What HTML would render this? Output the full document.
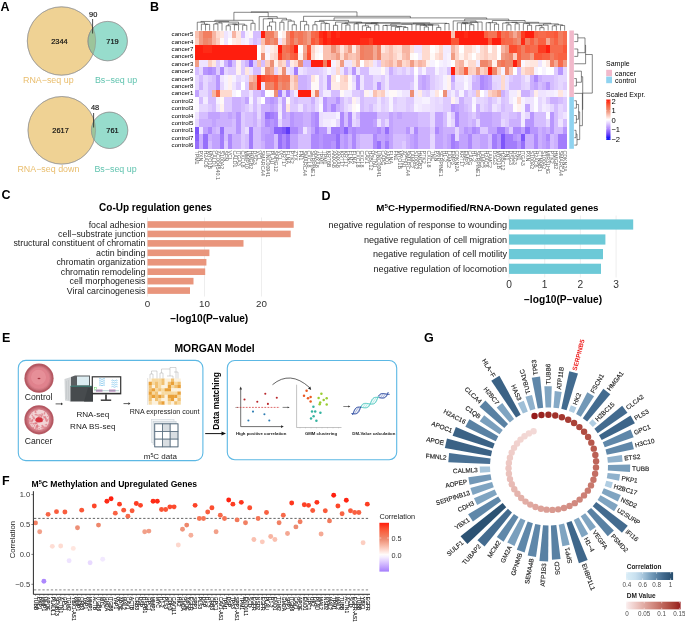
<!DOCTYPE html>
<html><head><meta charset="utf-8"><style>
html,body{margin:0;padding:0;background:#fff;}
svg{display:block;will-change:transform;}
text{font-family:"Liberation Sans",sans-serif;}
</style></head><body>
<svg width="685" height="630" viewBox="0 0 685 630">
<rect width="685" height="630" fill="#fff"/>
<text x="0.60" y="10.60" font-size="12.5" text-anchor="start" font-weight="bold" fill="#000" >A</text>
<text x="150.00" y="10.60" font-size="12.5" text-anchor="start" font-weight="bold" fill="#000" >B</text>
<text x="1.50" y="199.40" font-size="12.5" text-anchor="start" font-weight="bold" fill="#000" >C</text>
<text x="321.50" y="199.60" font-size="12.5" text-anchor="start" font-weight="bold" fill="#000" >D</text>
<text x="2.00" y="342.40" font-size="12.5" text-anchor="start" font-weight="bold" fill="#000" >E</text>
<text x="2.00" y="484.80" font-size="12.5" text-anchor="start" font-weight="bold" fill="#000" >F</text>
<text x="424.00" y="342.40" font-size="12.5" text-anchor="start" font-weight="bold" fill="#000" >G</text>
<g stroke="#8a8a8a" stroke-width="0.5">
<circle cx="61.5" cy="41" r="34.2" fill="#efd294"/>
<circle cx="107.7" cy="41.1" r="19.7" fill="#97dccc" fill-opacity="1"/>
</g>
<clipPath id="vc1"><circle cx="61.5" cy="41" r="34.2"/></clipPath>
<circle cx="107.7" cy="41.1" r="19.7" fill="#9cc49a" clip-path="url(#vc1)" stroke="#8a8a8a" stroke-width="0.5"/>
<g stroke="#8a8a8a" stroke-width="0.5" fill="none"><circle cx="61.5" cy="41" r="34.2"/><circle cx="107.7" cy="41.1" r="19.7"/></g>
<text x="59.40" y="43.80" font-size="7.4" text-anchor="middle" fill="#111" stroke="#111" stroke-width="0.2">2344</text>
<text x="112.50" y="43.80" font-size="7.4" text-anchor="middle" fill="#111" stroke="#111" stroke-width="0.2">719</text>
<text x="93.20" y="16.80" font-size="7.4" text-anchor="middle" fill="#111" stroke="#111" stroke-width="0.15">90</text>
<line x1="92.6" y1="19" x2="92.6" y2="33.5" stroke="#222" stroke-width="0.8"/>
<text x="48.30" y="83.40" font-size="8.9" text-anchor="middle" fill="#e9bd6c" >RNA−seq up</text>
<text x="116.00" y="83.40" font-size="8.9" text-anchor="middle" fill="#62c4b0" >Bs−seq up</text>
<g stroke="#8a8a8a" stroke-width="0.5">
<circle cx="61.8" cy="130.3" r="33.8" fill="#efd294"/>
<circle cx="109.6" cy="130.3" r="18.2" fill="#97dccc"/>
</g>
<clipPath id="vc2"><circle cx="61.8" cy="130.3" r="33.8"/></clipPath>
<circle cx="109.6" cy="130.3" r="18.2" fill="#9cc49a" clip-path="url(#vc2)"/>
<g stroke="#8a8a8a" stroke-width="0.5" fill="none"><circle cx="61.8" cy="130.3" r="33.8"/><circle cx="109.6" cy="130.3" r="18.2"/></g>
<text x="60.60" y="133.10" font-size="7.4" text-anchor="middle" fill="#111" stroke="#111" stroke-width="0.2">2617</text>
<text x="112.50" y="133.10" font-size="7.4" text-anchor="middle" fill="#111" stroke="#111" stroke-width="0.2">761</text>
<text x="95.00" y="110.20" font-size="7.4" text-anchor="middle" fill="#111" stroke="#111" stroke-width="0.15">48</text>
<line x1="93.6" y1="113" x2="93.6" y2="127.5" stroke="#222" stroke-width="0.8"/>
<text x="48.40" y="171.80" font-size="8.9" text-anchor="middle" fill="#e9bd6c" >RNA−seq down</text>
<text x="115.50" y="171.80" font-size="8.9" text-anchor="middle" fill="#62c4b0" >Bs−seq up</text>
<g shape-rendering="crispEdges">
<rect x="195.20" y="30.50" width="4.48" height="7.74" fill="#fac1b1"/>
<rect x="199.33" y="30.50" width="4.48" height="7.74" fill="#f19c84"/>
<rect x="203.46" y="30.50" width="4.48" height="7.74" fill="#f27e60"/>
<rect x="207.58" y="30.50" width="4.48" height="7.74" fill="#f27e60"/>
<rect x="211.71" y="30.50" width="4.48" height="7.74" fill="#f7b4a2"/>
<rect x="215.84" y="30.50" width="4.48" height="7.74" fill="#fedacf"/>
<rect x="219.97" y="30.50" width="4.48" height="7.74" fill="#ffe6df"/>
<rect x="224.09" y="30.50" width="4.48" height="7.74" fill="#efe4ff"/>
<rect x="228.22" y="30.50" width="4.48" height="7.74" fill="#f7f2ff"/>
<rect x="232.35" y="30.50" width="4.48" height="7.74" fill="#f7b4a2"/>
<rect x="236.48" y="30.50" width="4.48" height="7.74" fill="#ffe6df"/>
<rect x="240.61" y="30.50" width="4.48" height="7.74" fill="#d5bdff"/>
<rect x="244.73" y="30.50" width="4.48" height="7.74" fill="#f7f2ff"/>
<rect x="248.86" y="30.50" width="4.48" height="7.74" fill="#fff9f7"/>
<rect x="252.99" y="30.50" width="4.48" height="7.74" fill="#d5bdff"/>
<rect x="257.12" y="30.50" width="4.48" height="7.74" fill="#d5bdff"/>
<rect x="261.24" y="30.50" width="4.48" height="7.74" fill="#ff1e0e"/>
<rect x="265.37" y="30.50" width="4.48" height="7.74" fill="#f27e60"/>
<rect x="269.50" y="30.50" width="4.48" height="7.74" fill="#f27e60"/>
<rect x="273.63" y="30.50" width="4.48" height="7.74" fill="#f4a893"/>
<rect x="277.76" y="30.50" width="4.48" height="7.74" fill="#ffffff"/>
<rect x="281.88" y="30.50" width="4.48" height="7.74" fill="#ffece7"/>
<rect x="286.01" y="30.50" width="4.48" height="7.74" fill="#ed8f76"/>
<rect x="290.14" y="30.50" width="4.48" height="7.74" fill="#f96242"/>
<rect x="294.27" y="30.50" width="4.48" height="7.74" fill="#f27e60"/>
<rect x="298.39" y="30.50" width="4.48" height="7.74" fill="#f47556"/>
<rect x="302.52" y="30.50" width="4.48" height="7.74" fill="#ef866a"/>
<rect x="306.65" y="30.50" width="4.48" height="7.74" fill="#f19c84"/>
<rect x="310.78" y="30.50" width="4.48" height="7.74" fill="#f76b4c"/>
<rect x="314.91" y="30.50" width="4.48" height="7.74" fill="#f96242"/>
<rect x="319.03" y="30.50" width="4.48" height="7.74" fill="#ff2b16"/>
<rect x="323.16" y="30.50" width="4.48" height="7.74" fill="#ff1e0e"/>
<rect x="327.29" y="30.50" width="4.48" height="7.74" fill="#fd3d22"/>
<rect x="331.42" y="30.50" width="4.48" height="7.74" fill="#ff1e0e"/>
<rect x="335.54" y="30.50" width="4.48" height="7.74" fill="#ff2b16"/>
<rect x="339.67" y="30.50" width="4.48" height="7.74" fill="#ff1e0e"/>
<rect x="343.80" y="30.50" width="4.48" height="7.74" fill="#ff1e0e"/>
<rect x="347.93" y="30.50" width="4.48" height="7.74" fill="#ff1e0e"/>
<rect x="352.06" y="30.50" width="4.48" height="7.74" fill="#ff1e0e"/>
<rect x="356.18" y="30.50" width="4.48" height="7.74" fill="#ff1e0e"/>
<rect x="360.31" y="30.50" width="4.48" height="7.74" fill="#ff1e0e"/>
<rect x="364.44" y="30.50" width="4.48" height="7.74" fill="#ff1e0e"/>
<rect x="368.57" y="30.50" width="4.48" height="7.74" fill="#ff1e0e"/>
<rect x="372.69" y="30.50" width="4.48" height="7.74" fill="#ff1e0e"/>
<rect x="376.82" y="30.50" width="4.48" height="7.74" fill="#ff1e0e"/>
<rect x="380.95" y="30.50" width="4.48" height="7.74" fill="#ff1e0e"/>
<rect x="385.08" y="30.50" width="4.48" height="7.74" fill="#ff1e0e"/>
<rect x="389.21" y="30.50" width="4.48" height="7.74" fill="#ff1e0e"/>
<rect x="393.33" y="30.50" width="4.48" height="7.74" fill="#ff1e0e"/>
<rect x="397.46" y="30.50" width="4.48" height="7.74" fill="#ff1e0e"/>
<rect x="401.59" y="30.50" width="4.48" height="7.74" fill="#ff1e0e"/>
<rect x="405.72" y="30.50" width="4.48" height="7.74" fill="#ff1e0e"/>
<rect x="409.84" y="30.50" width="4.48" height="7.74" fill="#ff1e0e"/>
<rect x="413.97" y="30.50" width="4.48" height="7.74" fill="#ff1e0e"/>
<rect x="418.10" y="30.50" width="4.48" height="7.74" fill="#ff1e0e"/>
<rect x="422.23" y="30.50" width="4.48" height="7.74" fill="#ff1e0e"/>
<rect x="426.36" y="30.50" width="4.48" height="7.74" fill="#ff1e0e"/>
<rect x="430.48" y="30.50" width="4.48" height="7.74" fill="#ff1e0e"/>
<rect x="434.61" y="30.50" width="4.48" height="7.74" fill="#ff1e0e"/>
<rect x="438.74" y="30.50" width="4.48" height="7.74" fill="#ff1e0e"/>
<rect x="442.87" y="30.50" width="4.48" height="7.74" fill="#ff1e0e"/>
<rect x="446.99" y="30.50" width="4.48" height="7.74" fill="#ff1e0e"/>
<rect x="451.12" y="30.50" width="4.48" height="7.74" fill="#fac1b1"/>
<rect x="455.25" y="30.50" width="4.48" height="7.74" fill="#ff1e0e"/>
<rect x="459.38" y="30.50" width="4.48" height="7.74" fill="#ff1e0e"/>
<rect x="463.51" y="30.50" width="4.48" height="7.74" fill="#ff2b16"/>
<rect x="467.63" y="30.50" width="4.48" height="7.74" fill="#ff1e0e"/>
<rect x="471.76" y="30.50" width="4.48" height="7.74" fill="#ff1e0e"/>
<rect x="475.89" y="30.50" width="4.48" height="7.74" fill="#ff1e0e"/>
<rect x="480.02" y="30.50" width="4.48" height="7.74" fill="#ff1e0e"/>
<rect x="484.14" y="30.50" width="4.48" height="7.74" fill="#f96242"/>
<rect x="488.27" y="30.50" width="4.48" height="7.74" fill="#f47556"/>
<rect x="492.40" y="30.50" width="4.48" height="7.74" fill="#f47556"/>
<rect x="496.53" y="30.50" width="4.48" height="7.74" fill="#fd3d22"/>
<rect x="500.66" y="30.50" width="4.48" height="7.74" fill="#f47556"/>
<rect x="504.78" y="30.50" width="4.48" height="7.74" fill="#f76b4c"/>
<rect x="508.91" y="30.50" width="4.48" height="7.74" fill="#ef866a"/>
<rect x="513.04" y="30.50" width="4.48" height="7.74" fill="#f4a893"/>
<rect x="517.17" y="30.50" width="4.48" height="7.74" fill="#ef866a"/>
<rect x="521.29" y="30.50" width="4.48" height="7.74" fill="#fd3d22"/>
<rect x="525.42" y="30.50" width="4.48" height="7.74" fill="#ff1e0e"/>
<rect x="529.55" y="30.50" width="4.48" height="7.74" fill="#ff1e0e"/>
<rect x="533.68" y="30.50" width="4.48" height="7.74" fill="#f96242"/>
<rect x="537.81" y="30.50" width="4.48" height="7.74" fill="#f76b4c"/>
<rect x="541.93" y="30.50" width="4.48" height="7.74" fill="#f76b4c"/>
<rect x="546.06" y="30.50" width="4.48" height="7.74" fill="#f96242"/>
<rect x="550.19" y="30.50" width="4.48" height="7.74" fill="#f96242"/>
<rect x="554.32" y="30.50" width="4.48" height="7.74" fill="#fb5738"/>
<rect x="558.44" y="30.50" width="4.48" height="7.74" fill="#f27e60"/>
<rect x="562.57" y="30.50" width="4.48" height="7.74" fill="#f76b4c"/>
<rect x="195.20" y="37.89" width="4.48" height="7.74" fill="#fccdc0"/>
<rect x="199.33" y="37.89" width="4.48" height="7.74" fill="#f19c84"/>
<rect x="203.46" y="37.89" width="4.48" height="7.74" fill="#ef866a"/>
<rect x="207.58" y="37.89" width="4.48" height="7.74" fill="#ed8f76"/>
<rect x="211.71" y="37.89" width="4.48" height="7.74" fill="#f7b4a2"/>
<rect x="215.84" y="37.89" width="4.48" height="7.74" fill="#fccdc0"/>
<rect x="219.97" y="37.89" width="4.48" height="7.74" fill="#fff9f7"/>
<rect x="224.09" y="37.89" width="4.48" height="7.74" fill="#efe4ff"/>
<rect x="228.22" y="37.89" width="4.48" height="7.74" fill="#ffffff"/>
<rect x="232.35" y="37.89" width="4.48" height="7.74" fill="#ffece7"/>
<rect x="236.48" y="37.89" width="4.48" height="7.74" fill="#ffe6df"/>
<rect x="240.61" y="37.89" width="4.48" height="7.74" fill="#f3ebff"/>
<rect x="244.73" y="37.89" width="4.48" height="7.74" fill="#f7f2ff"/>
<rect x="248.86" y="37.89" width="4.48" height="7.74" fill="#e6d7ff"/>
<rect x="252.99" y="37.89" width="4.48" height="7.74" fill="#d5bdff"/>
<rect x="257.12" y="37.89" width="4.48" height="7.74" fill="#decaff"/>
<rect x="261.24" y="37.89" width="4.48" height="7.74" fill="#fac1b1"/>
<rect x="265.37" y="37.89" width="4.48" height="7.74" fill="#f27e60"/>
<rect x="269.50" y="37.89" width="4.48" height="7.74" fill="#ed8f76"/>
<rect x="273.63" y="37.89" width="4.48" height="7.74" fill="#f27e60"/>
<rect x="277.76" y="37.89" width="4.48" height="7.74" fill="#efe4ff"/>
<rect x="281.88" y="37.89" width="4.48" height="7.74" fill="#fdd3c8"/>
<rect x="286.01" y="37.89" width="4.48" height="7.74" fill="#ed8f76"/>
<rect x="290.14" y="37.89" width="4.48" height="7.74" fill="#f76b4c"/>
<rect x="294.27" y="37.89" width="4.48" height="7.74" fill="#ed8f76"/>
<rect x="298.39" y="37.89" width="4.48" height="7.74" fill="#f47556"/>
<rect x="302.52" y="37.89" width="4.48" height="7.74" fill="#ef866a"/>
<rect x="306.65" y="37.89" width="4.48" height="7.74" fill="#f19c84"/>
<rect x="310.78" y="37.89" width="4.48" height="7.74" fill="#fb5738"/>
<rect x="314.91" y="37.89" width="4.48" height="7.74" fill="#f76b4c"/>
<rect x="319.03" y="37.89" width="4.48" height="7.74" fill="#fd3d22"/>
<rect x="323.16" y="37.89" width="4.48" height="7.74" fill="#ff1e0e"/>
<rect x="327.29" y="37.89" width="4.48" height="7.74" fill="#ff2b16"/>
<rect x="331.42" y="37.89" width="4.48" height="7.74" fill="#ff1e0e"/>
<rect x="335.54" y="37.89" width="4.48" height="7.74" fill="#ff1e0e"/>
<rect x="339.67" y="37.89" width="4.48" height="7.74" fill="#ff1e0e"/>
<rect x="343.80" y="37.89" width="4.48" height="7.74" fill="#ff1e0e"/>
<rect x="347.93" y="37.89" width="4.48" height="7.74" fill="#ff1e0e"/>
<rect x="352.06" y="37.89" width="4.48" height="7.74" fill="#ff1e0e"/>
<rect x="356.18" y="37.89" width="4.48" height="7.74" fill="#ff1e0e"/>
<rect x="360.31" y="37.89" width="4.48" height="7.74" fill="#ff2b16"/>
<rect x="364.44" y="37.89" width="4.48" height="7.74" fill="#ff2b16"/>
<rect x="368.57" y="37.89" width="4.48" height="7.74" fill="#fd3d22"/>
<rect x="372.69" y="37.89" width="4.48" height="7.74" fill="#ff1e0e"/>
<rect x="376.82" y="37.89" width="4.48" height="7.74" fill="#ff1e0e"/>
<rect x="380.95" y="37.89" width="4.48" height="7.74" fill="#ff1e0e"/>
<rect x="385.08" y="37.89" width="4.48" height="7.74" fill="#ff1e0e"/>
<rect x="389.21" y="37.89" width="4.48" height="7.74" fill="#ff1e0e"/>
<rect x="393.33" y="37.89" width="4.48" height="7.74" fill="#ff1e0e"/>
<rect x="397.46" y="37.89" width="4.48" height="7.74" fill="#ff1e0e"/>
<rect x="401.59" y="37.89" width="4.48" height="7.74" fill="#ff1e0e"/>
<rect x="405.72" y="37.89" width="4.48" height="7.74" fill="#ff1e0e"/>
<rect x="409.84" y="37.89" width="4.48" height="7.74" fill="#ff1e0e"/>
<rect x="413.97" y="37.89" width="4.48" height="7.74" fill="#ff1e0e"/>
<rect x="418.10" y="37.89" width="4.48" height="7.74" fill="#ff1e0e"/>
<rect x="422.23" y="37.89" width="4.48" height="7.74" fill="#ff1e0e"/>
<rect x="426.36" y="37.89" width="4.48" height="7.74" fill="#ff1e0e"/>
<rect x="430.48" y="37.89" width="4.48" height="7.74" fill="#ff1e0e"/>
<rect x="434.61" y="37.89" width="4.48" height="7.74" fill="#ff1e0e"/>
<rect x="438.74" y="37.89" width="4.48" height="7.74" fill="#ff1e0e"/>
<rect x="442.87" y="37.89" width="4.48" height="7.74" fill="#ff1e0e"/>
<rect x="446.99" y="37.89" width="4.48" height="7.74" fill="#ff1e0e"/>
<rect x="451.12" y="37.89" width="4.48" height="7.74" fill="#fb5738"/>
<rect x="455.25" y="37.89" width="4.48" height="7.74" fill="#fb5738"/>
<rect x="459.38" y="37.89" width="4.48" height="7.74" fill="#ff1e0e"/>
<rect x="463.51" y="37.89" width="4.48" height="7.74" fill="#ff1e0e"/>
<rect x="467.63" y="37.89" width="4.48" height="7.74" fill="#ff1e0e"/>
<rect x="471.76" y="37.89" width="4.48" height="7.74" fill="#ff1e0e"/>
<rect x="475.89" y="37.89" width="4.48" height="7.74" fill="#ff1e0e"/>
<rect x="480.02" y="37.89" width="4.48" height="7.74" fill="#ff1e0e"/>
<rect x="484.14" y="37.89" width="4.48" height="7.74" fill="#ff1e0e"/>
<rect x="488.27" y="37.89" width="4.48" height="7.74" fill="#fb5738"/>
<rect x="492.40" y="37.89" width="4.48" height="7.74" fill="#ff1e0e"/>
<rect x="496.53" y="37.89" width="4.48" height="7.74" fill="#ff1e0e"/>
<rect x="500.66" y="37.89" width="4.48" height="7.74" fill="#f96242"/>
<rect x="504.78" y="37.89" width="4.48" height="7.74" fill="#f76b4c"/>
<rect x="508.91" y="37.89" width="4.48" height="7.74" fill="#f76b4c"/>
<rect x="513.04" y="37.89" width="4.48" height="7.74" fill="#f27e60"/>
<rect x="517.17" y="37.89" width="4.48" height="7.74" fill="#ed8f76"/>
<rect x="521.29" y="37.89" width="4.48" height="7.74" fill="#ff2b16"/>
<rect x="525.42" y="37.89" width="4.48" height="7.74" fill="#f27e60"/>
<rect x="529.55" y="37.89" width="4.48" height="7.74" fill="#f96242"/>
<rect x="533.68" y="37.89" width="4.48" height="7.74" fill="#f27e60"/>
<rect x="537.81" y="37.89" width="4.48" height="7.74" fill="#f96242"/>
<rect x="541.93" y="37.89" width="4.48" height="7.74" fill="#f96242"/>
<rect x="546.06" y="37.89" width="4.48" height="7.74" fill="#f4a893"/>
<rect x="550.19" y="37.89" width="4.48" height="7.74" fill="#f47556"/>
<rect x="554.32" y="37.89" width="4.48" height="7.74" fill="#f96242"/>
<rect x="558.44" y="37.89" width="4.48" height="7.74" fill="#f27e60"/>
<rect x="562.57" y="37.89" width="4.48" height="7.74" fill="#f76b4c"/>
<rect x="195.20" y="45.29" width="4.48" height="7.74" fill="#ff1e0e"/>
<rect x="199.33" y="45.29" width="4.48" height="7.74" fill="#ff1e0e"/>
<rect x="203.46" y="45.29" width="4.48" height="7.74" fill="#ff2b16"/>
<rect x="207.58" y="45.29" width="4.48" height="7.74" fill="#ff2b16"/>
<rect x="211.71" y="45.29" width="4.48" height="7.74" fill="#ff1e0e"/>
<rect x="215.84" y="45.29" width="4.48" height="7.74" fill="#ff1e0e"/>
<rect x="219.97" y="45.29" width="4.48" height="7.74" fill="#ff1e0e"/>
<rect x="224.09" y="45.29" width="4.48" height="7.74" fill="#ff1e0e"/>
<rect x="228.22" y="45.29" width="4.48" height="7.74" fill="#ff1e0e"/>
<rect x="232.35" y="45.29" width="4.48" height="7.74" fill="#ff1e0e"/>
<rect x="236.48" y="45.29" width="4.48" height="7.74" fill="#ff1e0e"/>
<rect x="240.61" y="45.29" width="4.48" height="7.74" fill="#ff1e0e"/>
<rect x="244.73" y="45.29" width="4.48" height="7.74" fill="#ff1e0e"/>
<rect x="248.86" y="45.29" width="4.48" height="7.74" fill="#ff1e0e"/>
<rect x="252.99" y="45.29" width="4.48" height="7.74" fill="#ff1e0e"/>
<rect x="257.12" y="45.29" width="4.48" height="7.74" fill="#ffffff"/>
<rect x="261.24" y="45.29" width="4.48" height="7.74" fill="#fedacf"/>
<rect x="265.37" y="45.29" width="4.48" height="7.74" fill="#f7f2ff"/>
<rect x="269.50" y="45.29" width="4.48" height="7.74" fill="#ffece7"/>
<rect x="273.63" y="45.29" width="4.48" height="7.74" fill="#fee0d7"/>
<rect x="277.76" y="45.29" width="4.48" height="7.74" fill="#ff1e0e"/>
<rect x="281.88" y="45.29" width="4.48" height="7.74" fill="#f47556"/>
<rect x="286.01" y="45.29" width="4.48" height="7.74" fill="#f76b4c"/>
<rect x="290.14" y="45.29" width="4.48" height="7.74" fill="#fb5738"/>
<rect x="294.27" y="45.29" width="4.48" height="7.74" fill="#ff1e0e"/>
<rect x="298.39" y="45.29" width="4.48" height="7.74" fill="#ffffff"/>
<rect x="302.52" y="45.29" width="4.48" height="7.74" fill="#f4a893"/>
<rect x="306.65" y="45.29" width="4.48" height="7.74" fill="#fb5738"/>
<rect x="310.78" y="45.29" width="4.48" height="7.74" fill="#fdd3c8"/>
<rect x="314.91" y="45.29" width="4.48" height="7.74" fill="#fff2ef"/>
<rect x="319.03" y="45.29" width="4.48" height="7.74" fill="#fbf8ff"/>
<rect x="323.16" y="45.29" width="4.48" height="7.74" fill="#fac1b1"/>
<rect x="327.29" y="45.29" width="4.48" height="7.74" fill="#fac1b1"/>
<rect x="331.42" y="45.29" width="4.48" height="7.74" fill="#ed8f76"/>
<rect x="335.54" y="45.29" width="4.48" height="7.74" fill="#f7b4a2"/>
<rect x="339.67" y="45.29" width="4.48" height="7.74" fill="#ffe6df"/>
<rect x="343.80" y="45.29" width="4.48" height="7.74" fill="#fac1b1"/>
<rect x="347.93" y="45.29" width="4.48" height="7.74" fill="#f19c84"/>
<rect x="352.06" y="45.29" width="4.48" height="7.74" fill="#ffece7"/>
<rect x="356.18" y="45.29" width="4.48" height="7.74" fill="#f7b4a2"/>
<rect x="360.31" y="45.29" width="4.48" height="7.74" fill="#f27e60"/>
<rect x="364.44" y="45.29" width="4.48" height="7.74" fill="#ef866a"/>
<rect x="368.57" y="45.29" width="4.48" height="7.74" fill="#ef866a"/>
<rect x="372.69" y="45.29" width="4.48" height="7.74" fill="#f4a893"/>
<rect x="376.82" y="45.29" width="4.48" height="7.74" fill="#ef866a"/>
<rect x="380.95" y="45.29" width="4.48" height="7.74" fill="#ffe6df"/>
<rect x="385.08" y="45.29" width="4.48" height="7.74" fill="#fdd3c8"/>
<rect x="389.21" y="45.29" width="4.48" height="7.74" fill="#fac1b1"/>
<rect x="393.33" y="45.29" width="4.48" height="7.74" fill="#fedacf"/>
<rect x="397.46" y="45.29" width="4.48" height="7.74" fill="#fee0d7"/>
<rect x="401.59" y="45.29" width="4.48" height="7.74" fill="#f7b4a2"/>
<rect x="405.72" y="45.29" width="4.48" height="7.74" fill="#f7b4a2"/>
<rect x="409.84" y="45.29" width="4.48" height="7.74" fill="#fee0d7"/>
<rect x="413.97" y="45.29" width="4.48" height="7.74" fill="#efe4ff"/>
<rect x="418.10" y="45.29" width="4.48" height="7.74" fill="#efe4ff"/>
<rect x="422.23" y="45.29" width="4.48" height="7.74" fill="#fedacf"/>
<rect x="426.36" y="45.29" width="4.48" height="7.74" fill="#fedacf"/>
<rect x="430.48" y="45.29" width="4.48" height="7.74" fill="#ffffff"/>
<rect x="434.61" y="45.29" width="4.48" height="7.74" fill="#fff2ef"/>
<rect x="438.74" y="45.29" width="4.48" height="7.74" fill="#fedacf"/>
<rect x="442.87" y="45.29" width="4.48" height="7.74" fill="#f3ebff"/>
<rect x="446.99" y="45.29" width="4.48" height="7.74" fill="#f3ebff"/>
<rect x="451.12" y="45.29" width="4.48" height="7.74" fill="#f7b4a2"/>
<rect x="455.25" y="45.29" width="4.48" height="7.74" fill="#fdd3c8"/>
<rect x="459.38" y="45.29" width="4.48" height="7.74" fill="#ffffff"/>
<rect x="463.51" y="45.29" width="4.48" height="7.74" fill="#fedacf"/>
<rect x="467.63" y="45.29" width="4.48" height="7.74" fill="#fedacf"/>
<rect x="471.76" y="45.29" width="4.48" height="7.74" fill="#ffece7"/>
<rect x="475.89" y="45.29" width="4.48" height="7.74" fill="#fbf8ff"/>
<rect x="480.02" y="45.29" width="4.48" height="7.74" fill="#fedacf"/>
<rect x="484.14" y="45.29" width="4.48" height="7.74" fill="#fccdc0"/>
<rect x="488.27" y="45.29" width="4.48" height="7.74" fill="#fff9f7"/>
<rect x="492.40" y="45.29" width="4.48" height="7.74" fill="#fedacf"/>
<rect x="496.53" y="45.29" width="4.48" height="7.74" fill="#ffffff"/>
<rect x="500.66" y="45.29" width="4.48" height="7.74" fill="#f7b4a2"/>
<rect x="504.78" y="45.29" width="4.48" height="7.74" fill="#f19c84"/>
<rect x="508.91" y="45.29" width="4.48" height="7.74" fill="#fc4b2d"/>
<rect x="513.04" y="45.29" width="4.48" height="7.74" fill="#fc4b2d"/>
<rect x="517.17" y="45.29" width="4.48" height="7.74" fill="#f96242"/>
<rect x="521.29" y="45.29" width="4.48" height="7.74" fill="#f27e60"/>
<rect x="525.42" y="45.29" width="4.48" height="7.74" fill="#f96242"/>
<rect x="529.55" y="45.29" width="4.48" height="7.74" fill="#f76b4c"/>
<rect x="533.68" y="45.29" width="4.48" height="7.74" fill="#f76b4c"/>
<rect x="537.81" y="45.29" width="4.48" height="7.74" fill="#fd3d22"/>
<rect x="541.93" y="45.29" width="4.48" height="7.74" fill="#fd3d22"/>
<rect x="546.06" y="45.29" width="4.48" height="7.74" fill="#ff1e0e"/>
<rect x="550.19" y="45.29" width="4.48" height="7.74" fill="#f76b4c"/>
<rect x="554.32" y="45.29" width="4.48" height="7.74" fill="#f76b4c"/>
<rect x="558.44" y="45.29" width="4.48" height="7.74" fill="#f76b4c"/>
<rect x="562.57" y="45.29" width="4.48" height="7.74" fill="#fb5738"/>
<rect x="195.20" y="52.68" width="4.48" height="7.74" fill="#ff1e0e"/>
<rect x="199.33" y="52.68" width="4.48" height="7.74" fill="#ff1e0e"/>
<rect x="203.46" y="52.68" width="4.48" height="7.74" fill="#ff1e0e"/>
<rect x="207.58" y="52.68" width="4.48" height="7.74" fill="#ff1e0e"/>
<rect x="211.71" y="52.68" width="4.48" height="7.74" fill="#ff1e0e"/>
<rect x="215.84" y="52.68" width="4.48" height="7.74" fill="#ff1e0e"/>
<rect x="219.97" y="52.68" width="4.48" height="7.74" fill="#ff1e0e"/>
<rect x="224.09" y="52.68" width="4.48" height="7.74" fill="#ff1e0e"/>
<rect x="228.22" y="52.68" width="4.48" height="7.74" fill="#ff1e0e"/>
<rect x="232.35" y="52.68" width="4.48" height="7.74" fill="#ff1e0e"/>
<rect x="236.48" y="52.68" width="4.48" height="7.74" fill="#ff1e0e"/>
<rect x="240.61" y="52.68" width="4.48" height="7.74" fill="#ff1e0e"/>
<rect x="244.73" y="52.68" width="4.48" height="7.74" fill="#ff1e0e"/>
<rect x="248.86" y="52.68" width="4.48" height="7.74" fill="#ff1e0e"/>
<rect x="252.99" y="52.68" width="4.48" height="7.74" fill="#ff1e0e"/>
<rect x="257.12" y="52.68" width="4.48" height="7.74" fill="#ffffff"/>
<rect x="261.24" y="52.68" width="4.48" height="7.74" fill="#ed8f76"/>
<rect x="265.37" y="52.68" width="4.48" height="7.74" fill="#fbf8ff"/>
<rect x="269.50" y="52.68" width="4.48" height="7.74" fill="#fee0d7"/>
<rect x="273.63" y="52.68" width="4.48" height="7.74" fill="#fdd3c8"/>
<rect x="277.76" y="52.68" width="4.48" height="7.74" fill="#fd3d22"/>
<rect x="281.88" y="52.68" width="4.48" height="7.74" fill="#f47556"/>
<rect x="286.01" y="52.68" width="4.48" height="7.74" fill="#f27e60"/>
<rect x="290.14" y="52.68" width="4.48" height="7.74" fill="#f96242"/>
<rect x="294.27" y="52.68" width="4.48" height="7.74" fill="#fb5738"/>
<rect x="298.39" y="52.68" width="4.48" height="7.74" fill="#fff2ef"/>
<rect x="302.52" y="52.68" width="4.48" height="7.74" fill="#f19c84"/>
<rect x="306.65" y="52.68" width="4.48" height="7.74" fill="#fc4b2d"/>
<rect x="310.78" y="52.68" width="4.48" height="7.74" fill="#fedacf"/>
<rect x="314.91" y="52.68" width="4.48" height="7.74" fill="#fff9f7"/>
<rect x="319.03" y="52.68" width="4.48" height="7.74" fill="#ffffff"/>
<rect x="323.16" y="52.68" width="4.48" height="7.74" fill="#fac1b1"/>
<rect x="327.29" y="52.68" width="4.48" height="7.74" fill="#fac1b1"/>
<rect x="331.42" y="52.68" width="4.48" height="7.74" fill="#f7b4a2"/>
<rect x="335.54" y="52.68" width="4.48" height="7.74" fill="#f19c84"/>
<rect x="339.67" y="52.68" width="4.48" height="7.74" fill="#fedacf"/>
<rect x="343.80" y="52.68" width="4.48" height="7.74" fill="#f4a893"/>
<rect x="347.93" y="52.68" width="4.48" height="7.74" fill="#fac1b1"/>
<rect x="352.06" y="52.68" width="4.48" height="7.74" fill="#fbc7b8"/>
<rect x="356.18" y="52.68" width="4.48" height="7.74" fill="#f7b4a2"/>
<rect x="360.31" y="52.68" width="4.48" height="7.74" fill="#f27e60"/>
<rect x="364.44" y="52.68" width="4.48" height="7.74" fill="#ef866a"/>
<rect x="368.57" y="52.68" width="4.48" height="7.74" fill="#ef866a"/>
<rect x="372.69" y="52.68" width="4.48" height="7.74" fill="#f4a893"/>
<rect x="376.82" y="52.68" width="4.48" height="7.74" fill="#ef866a"/>
<rect x="380.95" y="52.68" width="4.48" height="7.74" fill="#fccdc0"/>
<rect x="385.08" y="52.68" width="4.48" height="7.74" fill="#fccdc0"/>
<rect x="389.21" y="52.68" width="4.48" height="7.74" fill="#fac1b1"/>
<rect x="393.33" y="52.68" width="4.48" height="7.74" fill="#fdd3c8"/>
<rect x="397.46" y="52.68" width="4.48" height="7.74" fill="#ffe6df"/>
<rect x="401.59" y="52.68" width="4.48" height="7.74" fill="#fac1b1"/>
<rect x="405.72" y="52.68" width="4.48" height="7.74" fill="#f7b4a2"/>
<rect x="409.84" y="52.68" width="4.48" height="7.74" fill="#fff9f7"/>
<rect x="413.97" y="52.68" width="4.48" height="7.74" fill="#ffffff"/>
<rect x="418.10" y="52.68" width="4.48" height="7.74" fill="#f3ebff"/>
<rect x="422.23" y="52.68" width="4.48" height="7.74" fill="#fedacf"/>
<rect x="426.36" y="52.68" width="4.48" height="7.74" fill="#fedacf"/>
<rect x="430.48" y="52.68" width="4.48" height="7.74" fill="#fff9f7"/>
<rect x="434.61" y="52.68" width="4.48" height="7.74" fill="#fee0d7"/>
<rect x="438.74" y="52.68" width="4.48" height="7.74" fill="#fdd3c8"/>
<rect x="442.87" y="52.68" width="4.48" height="7.74" fill="#f3ebff"/>
<rect x="446.99" y="52.68" width="4.48" height="7.74" fill="#f7f2ff"/>
<rect x="451.12" y="52.68" width="4.48" height="7.74" fill="#f19c84"/>
<rect x="455.25" y="52.68" width="4.48" height="7.74" fill="#fdd3c8"/>
<rect x="459.38" y="52.68" width="4.48" height="7.74" fill="#fff2ef"/>
<rect x="463.51" y="52.68" width="4.48" height="7.74" fill="#fedacf"/>
<rect x="467.63" y="52.68" width="4.48" height="7.74" fill="#ffece7"/>
<rect x="471.76" y="52.68" width="4.48" height="7.74" fill="#ffffff"/>
<rect x="475.89" y="52.68" width="4.48" height="7.74" fill="#ffe6df"/>
<rect x="480.02" y="52.68" width="4.48" height="7.74" fill="#fedacf"/>
<rect x="484.14" y="52.68" width="4.48" height="7.74" fill="#fccdc0"/>
<rect x="488.27" y="52.68" width="4.48" height="7.74" fill="#fee0d7"/>
<rect x="492.40" y="52.68" width="4.48" height="7.74" fill="#fedacf"/>
<rect x="496.53" y="52.68" width="4.48" height="7.74" fill="#ffffff"/>
<rect x="500.66" y="52.68" width="4.48" height="7.74" fill="#f19c84"/>
<rect x="504.78" y="52.68" width="4.48" height="7.74" fill="#ed8f76"/>
<rect x="508.91" y="52.68" width="4.48" height="7.74" fill="#ef866a"/>
<rect x="513.04" y="52.68" width="4.48" height="7.74" fill="#fccdc0"/>
<rect x="517.17" y="52.68" width="4.48" height="7.74" fill="#f96242"/>
<rect x="521.29" y="52.68" width="4.48" height="7.74" fill="#f27e60"/>
<rect x="525.42" y="52.68" width="4.48" height="7.74" fill="#f27e60"/>
<rect x="529.55" y="52.68" width="4.48" height="7.74" fill="#f19c84"/>
<rect x="533.68" y="52.68" width="4.48" height="7.74" fill="#fb5738"/>
<rect x="537.81" y="52.68" width="4.48" height="7.74" fill="#fb5738"/>
<rect x="541.93" y="52.68" width="4.48" height="7.74" fill="#f96242"/>
<rect x="546.06" y="52.68" width="4.48" height="7.74" fill="#f96242"/>
<rect x="550.19" y="52.68" width="4.48" height="7.74" fill="#f27e60"/>
<rect x="554.32" y="52.68" width="4.48" height="7.74" fill="#f76b4c"/>
<rect x="558.44" y="52.68" width="4.48" height="7.74" fill="#f96242"/>
<rect x="562.57" y="52.68" width="4.48" height="7.74" fill="#f96242"/>
<rect x="195.20" y="60.08" width="4.48" height="7.74" fill="#f19c84"/>
<rect x="199.33" y="60.08" width="4.48" height="7.74" fill="#efe4ff"/>
<rect x="203.46" y="60.08" width="4.48" height="7.74" fill="#efe4ff"/>
<rect x="207.58" y="60.08" width="4.48" height="7.74" fill="#fccdc0"/>
<rect x="211.71" y="60.08" width="4.48" height="7.74" fill="#ffe6df"/>
<rect x="215.84" y="60.08" width="4.48" height="7.74" fill="#decaff"/>
<rect x="219.97" y="60.08" width="4.48" height="7.74" fill="#f3ebff"/>
<rect x="224.09" y="60.08" width="4.48" height="7.74" fill="#ccb0fe"/>
<rect x="228.22" y="60.08" width="4.48" height="7.74" fill="#ae89fd"/>
<rect x="232.35" y="60.08" width="4.48" height="7.74" fill="#d5bdff"/>
<rect x="236.48" y="60.08" width="4.48" height="7.74" fill="#fff2ef"/>
<rect x="240.61" y="60.08" width="4.48" height="7.74" fill="#decaff"/>
<rect x="244.73" y="60.08" width="4.48" height="7.74" fill="#ccb0fe"/>
<rect x="248.86" y="60.08" width="4.48" height="7.74" fill="#9770fb"/>
<rect x="252.99" y="60.08" width="4.48" height="7.74" fill="#decaff"/>
<rect x="257.12" y="60.08" width="4.48" height="7.74" fill="#fac1b1"/>
<rect x="261.24" y="60.08" width="4.48" height="7.74" fill="#d5bdff"/>
<rect x="265.37" y="60.08" width="4.48" height="7.74" fill="#fccdc0"/>
<rect x="269.50" y="60.08" width="4.48" height="7.74" fill="#ed8f76"/>
<rect x="273.63" y="60.08" width="4.48" height="7.74" fill="#fff2ef"/>
<rect x="277.76" y="60.08" width="4.48" height="7.74" fill="#fbc7b8"/>
<rect x="281.88" y="60.08" width="4.48" height="7.74" fill="#fedacf"/>
<rect x="286.01" y="60.08" width="4.48" height="7.74" fill="#ccb0fe"/>
<rect x="290.14" y="60.08" width="4.48" height="7.74" fill="#ffece7"/>
<rect x="294.27" y="60.08" width="4.48" height="7.74" fill="#fedacf"/>
<rect x="298.39" y="60.08" width="4.48" height="7.74" fill="#ed8f76"/>
<rect x="302.52" y="60.08" width="4.48" height="7.74" fill="#ccb0fe"/>
<rect x="306.65" y="60.08" width="4.48" height="7.74" fill="#ccb0fe"/>
<rect x="310.78" y="60.08" width="4.48" height="7.74" fill="#ff1e0e"/>
<rect x="314.91" y="60.08" width="4.48" height="7.74" fill="#ff1e0e"/>
<rect x="319.03" y="60.08" width="4.48" height="7.74" fill="#ff1e0e"/>
<rect x="323.16" y="60.08" width="4.48" height="7.74" fill="#f27e60"/>
<rect x="327.29" y="60.08" width="4.48" height="7.74" fill="#ff1e0e"/>
<rect x="331.42" y="60.08" width="4.48" height="7.74" fill="#f7f2ff"/>
<rect x="335.54" y="60.08" width="4.48" height="7.74" fill="#ffe6df"/>
<rect x="339.67" y="60.08" width="4.48" height="7.74" fill="#f19c84"/>
<rect x="343.80" y="60.08" width="4.48" height="7.74" fill="#efe4ff"/>
<rect x="347.93" y="60.08" width="4.48" height="7.74" fill="#efe4ff"/>
<rect x="352.06" y="60.08" width="4.48" height="7.74" fill="#fee0d7"/>
<rect x="356.18" y="60.08" width="4.48" height="7.74" fill="#f7b4a2"/>
<rect x="360.31" y="60.08" width="4.48" height="7.74" fill="#ffffff"/>
<rect x="364.44" y="60.08" width="4.48" height="7.74" fill="#fdd3c8"/>
<rect x="368.57" y="60.08" width="4.48" height="7.74" fill="#fee0d7"/>
<rect x="372.69" y="60.08" width="4.48" height="7.74" fill="#efe4ff"/>
<rect x="376.82" y="60.08" width="4.48" height="7.74" fill="#decaff"/>
<rect x="380.95" y="60.08" width="4.48" height="7.74" fill="#fccdc0"/>
<rect x="385.08" y="60.08" width="4.48" height="7.74" fill="#fac1b1"/>
<rect x="389.21" y="60.08" width="4.48" height="7.74" fill="#f7b4a2"/>
<rect x="393.33" y="60.08" width="4.48" height="7.74" fill="#fdd3c8"/>
<rect x="397.46" y="60.08" width="4.48" height="7.74" fill="#f4a893"/>
<rect x="401.59" y="60.08" width="4.48" height="7.74" fill="#fedacf"/>
<rect x="405.72" y="60.08" width="4.48" height="7.74" fill="#fccdc0"/>
<rect x="409.84" y="60.08" width="4.48" height="7.74" fill="#f19c84"/>
<rect x="413.97" y="60.08" width="4.48" height="7.74" fill="#fccdc0"/>
<rect x="418.10" y="60.08" width="4.48" height="7.74" fill="#f7b4a2"/>
<rect x="422.23" y="60.08" width="4.48" height="7.74" fill="#fac1b1"/>
<rect x="426.36" y="60.08" width="4.48" height="7.74" fill="#fff2ef"/>
<rect x="430.48" y="60.08" width="4.48" height="7.74" fill="#f7f2ff"/>
<rect x="434.61" y="60.08" width="4.48" height="7.74" fill="#ffffff"/>
<rect x="438.74" y="60.08" width="4.48" height="7.74" fill="#f7f2ff"/>
<rect x="442.87" y="60.08" width="4.48" height="7.74" fill="#f3ebff"/>
<rect x="446.99" y="60.08" width="4.48" height="7.74" fill="#f7f2ff"/>
<rect x="451.12" y="60.08" width="4.48" height="7.74" fill="#ffffff"/>
<rect x="455.25" y="60.08" width="4.48" height="7.74" fill="#fac1b1"/>
<rect x="459.38" y="60.08" width="4.48" height="7.74" fill="#f7b4a2"/>
<rect x="463.51" y="60.08" width="4.48" height="7.74" fill="#fff2ef"/>
<rect x="467.63" y="60.08" width="4.48" height="7.74" fill="#fedacf"/>
<rect x="471.76" y="60.08" width="4.48" height="7.74" fill="#fedacf"/>
<rect x="475.89" y="60.08" width="4.48" height="7.74" fill="#f3ebff"/>
<rect x="480.02" y="60.08" width="4.48" height="7.74" fill="#ef866a"/>
<rect x="484.14" y="60.08" width="4.48" height="7.74" fill="#ef866a"/>
<rect x="488.27" y="60.08" width="4.48" height="7.74" fill="#f19c84"/>
<rect x="492.40" y="60.08" width="4.48" height="7.74" fill="#fff2ef"/>
<rect x="496.53" y="60.08" width="4.48" height="7.74" fill="#ef866a"/>
<rect x="500.66" y="60.08" width="4.48" height="7.74" fill="#f47556"/>
<rect x="504.78" y="60.08" width="4.48" height="7.74" fill="#ef866a"/>
<rect x="508.91" y="60.08" width="4.48" height="7.74" fill="#ef866a"/>
<rect x="513.04" y="60.08" width="4.48" height="7.74" fill="#ff1e0e"/>
<rect x="517.17" y="60.08" width="4.48" height="7.74" fill="#f76b4c"/>
<rect x="521.29" y="60.08" width="4.48" height="7.74" fill="#fbf8ff"/>
<rect x="525.42" y="60.08" width="4.48" height="7.74" fill="#ffece7"/>
<rect x="529.55" y="60.08" width="4.48" height="7.74" fill="#ffe6df"/>
<rect x="533.68" y="60.08" width="4.48" height="7.74" fill="#ffe6df"/>
<rect x="537.81" y="60.08" width="4.48" height="7.74" fill="#efe4ff"/>
<rect x="541.93" y="60.08" width="4.48" height="7.74" fill="#fff9f7"/>
<rect x="546.06" y="60.08" width="4.48" height="7.74" fill="#ffe6df"/>
<rect x="550.19" y="60.08" width="4.48" height="7.74" fill="#f27e60"/>
<rect x="554.32" y="60.08" width="4.48" height="7.74" fill="#f4a893"/>
<rect x="558.44" y="60.08" width="4.48" height="7.74" fill="#f76b4c"/>
<rect x="562.57" y="60.08" width="4.48" height="7.74" fill="#f19c84"/>
<rect x="195.20" y="67.47" width="4.48" height="7.74" fill="#d5bdff"/>
<rect x="199.33" y="67.47" width="4.48" height="7.74" fill="#e6d7ff"/>
<rect x="203.46" y="67.47" width="4.48" height="7.74" fill="#b896fe"/>
<rect x="207.58" y="67.47" width="4.48" height="7.74" fill="#ae89fd"/>
<rect x="211.71" y="67.47" width="4.48" height="7.74" fill="#b896fe"/>
<rect x="215.84" y="67.47" width="4.48" height="7.74" fill="#decaff"/>
<rect x="219.97" y="67.47" width="4.48" height="7.74" fill="#ae89fd"/>
<rect x="224.09" y="67.47" width="4.48" height="7.74" fill="#e6d7ff"/>
<rect x="228.22" y="67.47" width="4.48" height="7.74" fill="#decaff"/>
<rect x="232.35" y="67.47" width="4.48" height="7.74" fill="#decaff"/>
<rect x="236.48" y="67.47" width="4.48" height="7.74" fill="#fff2ef"/>
<rect x="240.61" y="67.47" width="4.48" height="7.74" fill="#decaff"/>
<rect x="244.73" y="67.47" width="4.48" height="7.74" fill="#ffe6df"/>
<rect x="248.86" y="67.47" width="4.48" height="7.74" fill="#efe4ff"/>
<rect x="252.99" y="67.47" width="4.48" height="7.74" fill="#d5bdff"/>
<rect x="257.12" y="67.47" width="4.48" height="7.74" fill="#d5bdff"/>
<rect x="261.24" y="67.47" width="4.48" height="7.74" fill="#fff2ef"/>
<rect x="265.37" y="67.47" width="4.48" height="7.74" fill="#ed8f76"/>
<rect x="269.50" y="67.47" width="4.48" height="7.74" fill="#f4a893"/>
<rect x="273.63" y="67.47" width="4.48" height="7.74" fill="#e6d7ff"/>
<rect x="277.76" y="67.47" width="4.48" height="7.74" fill="#ffe6df"/>
<rect x="281.88" y="67.47" width="4.48" height="7.74" fill="#ed8f76"/>
<rect x="286.01" y="67.47" width="4.48" height="7.74" fill="#efe4ff"/>
<rect x="290.14" y="67.47" width="4.48" height="7.74" fill="#e6d7ff"/>
<rect x="294.27" y="67.47" width="4.48" height="7.74" fill="#a37dfc"/>
<rect x="298.39" y="67.47" width="4.48" height="7.74" fill="#efe4ff"/>
<rect x="302.52" y="67.47" width="4.48" height="7.74" fill="#e6d7ff"/>
<rect x="306.65" y="67.47" width="4.48" height="7.74" fill="#decaff"/>
<rect x="310.78" y="67.47" width="4.48" height="7.74" fill="#decaff"/>
<rect x="314.91" y="67.47" width="4.48" height="7.74" fill="#decaff"/>
<rect x="319.03" y="67.47" width="4.48" height="7.74" fill="#e2d0ff"/>
<rect x="323.16" y="67.47" width="4.48" height="7.74" fill="#ebdeff"/>
<rect x="327.29" y="67.47" width="4.48" height="7.74" fill="#f7f2ff"/>
<rect x="331.42" y="67.47" width="4.48" height="7.74" fill="#efe4ff"/>
<rect x="335.54" y="67.47" width="4.48" height="7.74" fill="#fedacf"/>
<rect x="339.67" y="67.47" width="4.48" height="7.74" fill="#efe4ff"/>
<rect x="343.80" y="67.47" width="4.48" height="7.74" fill="#ccb0fe"/>
<rect x="347.93" y="67.47" width="4.48" height="7.74" fill="#e6d7ff"/>
<rect x="352.06" y="67.47" width="4.48" height="7.74" fill="#b896fe"/>
<rect x="356.18" y="67.47" width="4.48" height="7.74" fill="#efe4ff"/>
<rect x="360.31" y="67.47" width="4.48" height="7.74" fill="#d5bdff"/>
<rect x="364.44" y="67.47" width="4.48" height="7.74" fill="#d5bdff"/>
<rect x="368.57" y="67.47" width="4.48" height="7.74" fill="#f3ebff"/>
<rect x="372.69" y="67.47" width="4.48" height="7.74" fill="#f3ebff"/>
<rect x="376.82" y="67.47" width="4.48" height="7.74" fill="#f3ebff"/>
<rect x="380.95" y="67.47" width="4.48" height="7.74" fill="#fff9f7"/>
<rect x="385.08" y="67.47" width="4.48" height="7.74" fill="#ebdeff"/>
<rect x="389.21" y="67.47" width="4.48" height="7.74" fill="#ccb0fe"/>
<rect x="393.33" y="67.47" width="4.48" height="7.74" fill="#decaff"/>
<rect x="397.46" y="67.47" width="4.48" height="7.74" fill="#e6d7ff"/>
<rect x="401.59" y="67.47" width="4.48" height="7.74" fill="#decaff"/>
<rect x="405.72" y="67.47" width="4.48" height="7.74" fill="#ebdeff"/>
<rect x="409.84" y="67.47" width="4.48" height="7.74" fill="#decaff"/>
<rect x="413.97" y="67.47" width="4.48" height="7.74" fill="#ffffff"/>
<rect x="418.10" y="67.47" width="4.48" height="7.74" fill="#e6d7ff"/>
<rect x="422.23" y="67.47" width="4.48" height="7.74" fill="#f7f2ff"/>
<rect x="426.36" y="67.47" width="4.48" height="7.74" fill="#decaff"/>
<rect x="430.48" y="67.47" width="4.48" height="7.74" fill="#decaff"/>
<rect x="434.61" y="67.47" width="4.48" height="7.74" fill="#f7f2ff"/>
<rect x="438.74" y="67.47" width="4.48" height="7.74" fill="#ebdeff"/>
<rect x="442.87" y="67.47" width="4.48" height="7.74" fill="#efe4ff"/>
<rect x="446.99" y="67.47" width="4.48" height="7.74" fill="#d9c3ff"/>
<rect x="451.12" y="67.47" width="4.48" height="7.74" fill="#ff1e0e"/>
<rect x="455.25" y="67.47" width="4.48" height="7.74" fill="#fac1b1"/>
<rect x="459.38" y="67.47" width="4.48" height="7.74" fill="#f4a893"/>
<rect x="463.51" y="67.47" width="4.48" height="7.74" fill="#f96242"/>
<rect x="467.63" y="67.47" width="4.48" height="7.74" fill="#fccdc0"/>
<rect x="471.76" y="67.47" width="4.48" height="7.74" fill="#fdd3c8"/>
<rect x="475.89" y="67.47" width="4.48" height="7.74" fill="#f19c84"/>
<rect x="480.02" y="67.47" width="4.48" height="7.74" fill="#fdd3c8"/>
<rect x="484.14" y="67.47" width="4.48" height="7.74" fill="#fac1b1"/>
<rect x="488.27" y="67.47" width="4.48" height="7.74" fill="#ff1e0e"/>
<rect x="492.40" y="67.47" width="4.48" height="7.74" fill="#ef866a"/>
<rect x="496.53" y="67.47" width="4.48" height="7.74" fill="#fccdc0"/>
<rect x="500.66" y="67.47" width="4.48" height="7.74" fill="#f7f2ff"/>
<rect x="504.78" y="67.47" width="4.48" height="7.74" fill="#ef866a"/>
<rect x="508.91" y="67.47" width="4.48" height="7.74" fill="#fac1b1"/>
<rect x="513.04" y="67.47" width="4.48" height="7.74" fill="#ffffff"/>
<rect x="517.17" y="67.47" width="4.48" height="7.74" fill="#d5bdff"/>
<rect x="521.29" y="67.47" width="4.48" height="7.74" fill="#fee0d7"/>
<rect x="525.42" y="67.47" width="4.48" height="7.74" fill="#fccdc0"/>
<rect x="529.55" y="67.47" width="4.48" height="7.74" fill="#fbc7b8"/>
<rect x="533.68" y="67.47" width="4.48" height="7.74" fill="#f7f2ff"/>
<rect x="537.81" y="67.47" width="4.48" height="7.74" fill="#ffffff"/>
<rect x="541.93" y="67.47" width="4.48" height="7.74" fill="#f7f2ff"/>
<rect x="546.06" y="67.47" width="4.48" height="7.74" fill="#ffffff"/>
<rect x="550.19" y="67.47" width="4.48" height="7.74" fill="#ffffff"/>
<rect x="554.32" y="67.47" width="4.48" height="7.74" fill="#decaff"/>
<rect x="558.44" y="67.47" width="4.48" height="7.74" fill="#b896fe"/>
<rect x="562.57" y="67.47" width="4.48" height="7.74" fill="#e6d7ff"/>
<rect x="195.20" y="74.86" width="4.48" height="7.74" fill="#e6d7ff"/>
<rect x="199.33" y="74.86" width="4.48" height="7.74" fill="#d5bdff"/>
<rect x="203.46" y="74.86" width="4.48" height="7.74" fill="#e6d7ff"/>
<rect x="207.58" y="74.86" width="4.48" height="7.74" fill="#decaff"/>
<rect x="211.71" y="74.86" width="4.48" height="7.74" fill="#d5bdff"/>
<rect x="215.84" y="74.86" width="4.48" height="7.74" fill="#b896fe"/>
<rect x="219.97" y="74.86" width="4.48" height="7.74" fill="#efe4ff"/>
<rect x="224.09" y="74.86" width="4.48" height="7.74" fill="#f7f2ff"/>
<rect x="228.22" y="74.86" width="4.48" height="7.74" fill="#fff2ef"/>
<rect x="232.35" y="74.86" width="4.48" height="7.74" fill="#f7f2ff"/>
<rect x="236.48" y="74.86" width="4.48" height="7.74" fill="#e6d7ff"/>
<rect x="240.61" y="74.86" width="4.48" height="7.74" fill="#efe4ff"/>
<rect x="244.73" y="74.86" width="4.48" height="7.74" fill="#e6d7ff"/>
<rect x="248.86" y="74.86" width="4.48" height="7.74" fill="#fac1b1"/>
<rect x="252.99" y="74.86" width="4.48" height="7.74" fill="#f4a893"/>
<rect x="257.12" y="74.86" width="4.48" height="7.74" fill="#ff1e0e"/>
<rect x="261.24" y="74.86" width="4.48" height="7.74" fill="#fc4b2d"/>
<rect x="265.37" y="74.86" width="4.48" height="7.74" fill="#fb5738"/>
<rect x="269.50" y="74.86" width="4.48" height="7.74" fill="#f96242"/>
<rect x="273.63" y="74.86" width="4.48" height="7.74" fill="#fb5738"/>
<rect x="277.76" y="74.86" width="4.48" height="7.74" fill="#f27e60"/>
<rect x="281.88" y="74.86" width="4.48" height="7.74" fill="#f47556"/>
<rect x="286.01" y="74.86" width="4.48" height="7.74" fill="#f47556"/>
<rect x="290.14" y="74.86" width="4.48" height="7.74" fill="#fdd3c8"/>
<rect x="294.27" y="74.86" width="4.48" height="7.74" fill="#f7b4a2"/>
<rect x="298.39" y="74.86" width="4.48" height="7.74" fill="#ccb0fe"/>
<rect x="302.52" y="74.86" width="4.48" height="7.74" fill="#ccb0fe"/>
<rect x="306.65" y="74.86" width="4.48" height="7.74" fill="#d5bdff"/>
<rect x="310.78" y="74.86" width="4.48" height="7.74" fill="#ffe6df"/>
<rect x="314.91" y="74.86" width="4.48" height="7.74" fill="#fff9f7"/>
<rect x="319.03" y="74.86" width="4.48" height="7.74" fill="#decaff"/>
<rect x="323.16" y="74.86" width="4.48" height="7.74" fill="#ebdeff"/>
<rect x="327.29" y="74.86" width="4.48" height="7.74" fill="#b896fe"/>
<rect x="331.42" y="74.86" width="4.48" height="7.74" fill="#ffe6df"/>
<rect x="335.54" y="74.86" width="4.48" height="7.74" fill="#ffffff"/>
<rect x="339.67" y="74.86" width="4.48" height="7.74" fill="#fedacf"/>
<rect x="343.80" y="74.86" width="4.48" height="7.74" fill="#fccdc0"/>
<rect x="347.93" y="74.86" width="4.48" height="7.74" fill="#fff9f7"/>
<rect x="352.06" y="74.86" width="4.48" height="7.74" fill="#e6d7ff"/>
<rect x="356.18" y="74.86" width="4.48" height="7.74" fill="#b896fe"/>
<rect x="360.31" y="74.86" width="4.48" height="7.74" fill="#efe4ff"/>
<rect x="364.44" y="74.86" width="4.48" height="7.74" fill="#d5bdff"/>
<rect x="368.57" y="74.86" width="4.48" height="7.74" fill="#d5bdff"/>
<rect x="372.69" y="74.86" width="4.48" height="7.74" fill="#e6d7ff"/>
<rect x="376.82" y="74.86" width="4.48" height="7.74" fill="#e6d7ff"/>
<rect x="380.95" y="74.86" width="4.48" height="7.74" fill="#decaff"/>
<rect x="385.08" y="74.86" width="4.48" height="7.74" fill="#efe4ff"/>
<rect x="389.21" y="74.86" width="4.48" height="7.74" fill="#d5bdff"/>
<rect x="393.33" y="74.86" width="4.48" height="7.74" fill="#d5bdff"/>
<rect x="397.46" y="74.86" width="4.48" height="7.74" fill="#d5bdff"/>
<rect x="401.59" y="74.86" width="4.48" height="7.74" fill="#d5bdff"/>
<rect x="405.72" y="74.86" width="4.48" height="7.74" fill="#d5bdff"/>
<rect x="409.84" y="74.86" width="4.48" height="7.74" fill="#d5bdff"/>
<rect x="413.97" y="74.86" width="4.48" height="7.74" fill="#f7f2ff"/>
<rect x="418.10" y="74.86" width="4.48" height="7.74" fill="#ccb0fe"/>
<rect x="422.23" y="74.86" width="4.48" height="7.74" fill="#c2a3fe"/>
<rect x="426.36" y="74.86" width="4.48" height="7.74" fill="#ccb0fe"/>
<rect x="430.48" y="74.86" width="4.48" height="7.74" fill="#decaff"/>
<rect x="434.61" y="74.86" width="4.48" height="7.74" fill="#e6d7ff"/>
<rect x="438.74" y="74.86" width="4.48" height="7.74" fill="#ebdeff"/>
<rect x="442.87" y="74.86" width="4.48" height="7.74" fill="#f7f2ff"/>
<rect x="446.99" y="74.86" width="4.48" height="7.74" fill="#fff2ef"/>
<rect x="451.12" y="74.86" width="4.48" height="7.74" fill="#c2a3fe"/>
<rect x="455.25" y="74.86" width="4.48" height="7.74" fill="#efe4ff"/>
<rect x="459.38" y="74.86" width="4.48" height="7.74" fill="#efe4ff"/>
<rect x="463.51" y="74.86" width="4.48" height="7.74" fill="#f7f2ff"/>
<rect x="467.63" y="74.86" width="4.48" height="7.74" fill="#efe4ff"/>
<rect x="471.76" y="74.86" width="4.48" height="7.74" fill="#d5bdff"/>
<rect x="475.89" y="74.86" width="4.48" height="7.74" fill="#ccb0fe"/>
<rect x="480.02" y="74.86" width="4.48" height="7.74" fill="#ae89fd"/>
<rect x="484.14" y="74.86" width="4.48" height="7.74" fill="#b896fe"/>
<rect x="488.27" y="74.86" width="4.48" height="7.74" fill="#c2a3fe"/>
<rect x="492.40" y="74.86" width="4.48" height="7.74" fill="#e6d7ff"/>
<rect x="496.53" y="74.86" width="4.48" height="7.74" fill="#e6d7ff"/>
<rect x="500.66" y="74.86" width="4.48" height="7.74" fill="#fedacf"/>
<rect x="504.78" y="74.86" width="4.48" height="7.74" fill="#ebdeff"/>
<rect x="508.91" y="74.86" width="4.48" height="7.74" fill="#decaff"/>
<rect x="513.04" y="74.86" width="4.48" height="7.74" fill="#d5bdff"/>
<rect x="517.17" y="74.86" width="4.48" height="7.74" fill="#d5bdff"/>
<rect x="521.29" y="74.86" width="4.48" height="7.74" fill="#e2d0ff"/>
<rect x="525.42" y="74.86" width="4.48" height="7.74" fill="#efe4ff"/>
<rect x="529.55" y="74.86" width="4.48" height="7.74" fill="#ccb0fe"/>
<rect x="533.68" y="74.86" width="4.48" height="7.74" fill="#ae89fd"/>
<rect x="537.81" y="74.86" width="4.48" height="7.74" fill="#ccb0fe"/>
<rect x="541.93" y="74.86" width="4.48" height="7.74" fill="#d5bdff"/>
<rect x="546.06" y="74.86" width="4.48" height="7.74" fill="#d5bdff"/>
<rect x="550.19" y="74.86" width="4.48" height="7.74" fill="#d5bdff"/>
<rect x="554.32" y="74.86" width="4.48" height="7.74" fill="#decaff"/>
<rect x="558.44" y="74.86" width="4.48" height="7.74" fill="#e6d7ff"/>
<rect x="562.57" y="74.86" width="4.48" height="7.74" fill="#e6d7ff"/>
<rect x="195.20" y="82.26" width="4.48" height="7.74" fill="#e6d7ff"/>
<rect x="199.33" y="82.26" width="4.48" height="7.74" fill="#ccb0fe"/>
<rect x="203.46" y="82.26" width="4.48" height="7.74" fill="#e6d7ff"/>
<rect x="207.58" y="82.26" width="4.48" height="7.74" fill="#d5bdff"/>
<rect x="211.71" y="82.26" width="4.48" height="7.74" fill="#d5bdff"/>
<rect x="215.84" y="82.26" width="4.48" height="7.74" fill="#b896fe"/>
<rect x="219.97" y="82.26" width="4.48" height="7.74" fill="#e6d7ff"/>
<rect x="224.09" y="82.26" width="4.48" height="7.74" fill="#f7f2ff"/>
<rect x="228.22" y="82.26" width="4.48" height="7.74" fill="#fff2ef"/>
<rect x="232.35" y="82.26" width="4.48" height="7.74" fill="#efe4ff"/>
<rect x="236.48" y="82.26" width="4.48" height="7.74" fill="#decaff"/>
<rect x="240.61" y="82.26" width="4.48" height="7.74" fill="#ffffff"/>
<rect x="244.73" y="82.26" width="4.48" height="7.74" fill="#decaff"/>
<rect x="248.86" y="82.26" width="4.48" height="7.74" fill="#ed8f76"/>
<rect x="252.99" y="82.26" width="4.48" height="7.74" fill="#f19c84"/>
<rect x="257.12" y="82.26" width="4.48" height="7.74" fill="#ff1e0e"/>
<rect x="261.24" y="82.26" width="4.48" height="7.74" fill="#efe4ff"/>
<rect x="265.37" y="82.26" width="4.48" height="7.74" fill="#f27e60"/>
<rect x="269.50" y="82.26" width="4.48" height="7.74" fill="#ef866a"/>
<rect x="273.63" y="82.26" width="4.48" height="7.74" fill="#f96242"/>
<rect x="277.76" y="82.26" width="4.48" height="7.74" fill="#ed8f76"/>
<rect x="281.88" y="82.26" width="4.48" height="7.74" fill="#f27e60"/>
<rect x="286.01" y="82.26" width="4.48" height="7.74" fill="#ef866a"/>
<rect x="290.14" y="82.26" width="4.48" height="7.74" fill="#fedacf"/>
<rect x="294.27" y="82.26" width="4.48" height="7.74" fill="#fac1b1"/>
<rect x="298.39" y="82.26" width="4.48" height="7.74" fill="#ccb0fe"/>
<rect x="302.52" y="82.26" width="4.48" height="7.74" fill="#ccb0fe"/>
<rect x="306.65" y="82.26" width="4.48" height="7.74" fill="#d5bdff"/>
<rect x="310.78" y="82.26" width="4.48" height="7.74" fill="#fff9f7"/>
<rect x="314.91" y="82.26" width="4.48" height="7.74" fill="#fff9f7"/>
<rect x="319.03" y="82.26" width="4.48" height="7.74" fill="#decaff"/>
<rect x="323.16" y="82.26" width="4.48" height="7.74" fill="#ebdeff"/>
<rect x="327.29" y="82.26" width="4.48" height="7.74" fill="#b896fe"/>
<rect x="331.42" y="82.26" width="4.48" height="7.74" fill="#ffece7"/>
<rect x="335.54" y="82.26" width="4.48" height="7.74" fill="#ffece7"/>
<rect x="339.67" y="82.26" width="4.48" height="7.74" fill="#fedacf"/>
<rect x="343.80" y="82.26" width="4.48" height="7.74" fill="#fedacf"/>
<rect x="347.93" y="82.26" width="4.48" height="7.74" fill="#fff9f7"/>
<rect x="352.06" y="82.26" width="4.48" height="7.74" fill="#efe4ff"/>
<rect x="356.18" y="82.26" width="4.48" height="7.74" fill="#b896fe"/>
<rect x="360.31" y="82.26" width="4.48" height="7.74" fill="#efe4ff"/>
<rect x="364.44" y="82.26" width="4.48" height="7.74" fill="#d5bdff"/>
<rect x="368.57" y="82.26" width="4.48" height="7.74" fill="#d5bdff"/>
<rect x="372.69" y="82.26" width="4.48" height="7.74" fill="#e6d7ff"/>
<rect x="376.82" y="82.26" width="4.48" height="7.74" fill="#b896fe"/>
<rect x="380.95" y="82.26" width="4.48" height="7.74" fill="#decaff"/>
<rect x="385.08" y="82.26" width="4.48" height="7.74" fill="#efe4ff"/>
<rect x="389.21" y="82.26" width="4.48" height="7.74" fill="#d5bdff"/>
<rect x="393.33" y="82.26" width="4.48" height="7.74" fill="#d5bdff"/>
<rect x="397.46" y="82.26" width="4.48" height="7.74" fill="#d5bdff"/>
<rect x="401.59" y="82.26" width="4.48" height="7.74" fill="#d5bdff"/>
<rect x="405.72" y="82.26" width="4.48" height="7.74" fill="#d5bdff"/>
<rect x="409.84" y="82.26" width="4.48" height="7.74" fill="#decaff"/>
<rect x="413.97" y="82.26" width="4.48" height="7.74" fill="#f7f2ff"/>
<rect x="418.10" y="82.26" width="4.48" height="7.74" fill="#ccb0fe"/>
<rect x="422.23" y="82.26" width="4.48" height="7.74" fill="#c2a3fe"/>
<rect x="426.36" y="82.26" width="4.48" height="7.74" fill="#ccb0fe"/>
<rect x="430.48" y="82.26" width="4.48" height="7.74" fill="#decaff"/>
<rect x="434.61" y="82.26" width="4.48" height="7.74" fill="#e6d7ff"/>
<rect x="438.74" y="82.26" width="4.48" height="7.74" fill="#ebdeff"/>
<rect x="442.87" y="82.26" width="4.48" height="7.74" fill="#f7f2ff"/>
<rect x="446.99" y="82.26" width="4.48" height="7.74" fill="#fff2ef"/>
<rect x="451.12" y="82.26" width="4.48" height="7.74" fill="#d5bdff"/>
<rect x="455.25" y="82.26" width="4.48" height="7.74" fill="#ebdeff"/>
<rect x="459.38" y="82.26" width="4.48" height="7.74" fill="#ebdeff"/>
<rect x="463.51" y="82.26" width="4.48" height="7.74" fill="#fbf8ff"/>
<rect x="467.63" y="82.26" width="4.48" height="7.74" fill="#efe4ff"/>
<rect x="471.76" y="82.26" width="4.48" height="7.74" fill="#ccb0fe"/>
<rect x="475.89" y="82.26" width="4.48" height="7.74" fill="#ccb0fe"/>
<rect x="480.02" y="82.26" width="4.48" height="7.74" fill="#ae89fd"/>
<rect x="484.14" y="82.26" width="4.48" height="7.74" fill="#b896fe"/>
<rect x="488.27" y="82.26" width="4.48" height="7.74" fill="#c2a3fe"/>
<rect x="492.40" y="82.26" width="4.48" height="7.74" fill="#e2d0ff"/>
<rect x="496.53" y="82.26" width="4.48" height="7.74" fill="#e6d7ff"/>
<rect x="500.66" y="82.26" width="4.48" height="7.74" fill="#fedacf"/>
<rect x="504.78" y="82.26" width="4.48" height="7.74" fill="#ebdeff"/>
<rect x="508.91" y="82.26" width="4.48" height="7.74" fill="#d5bdff"/>
<rect x="513.04" y="82.26" width="4.48" height="7.74" fill="#d5bdff"/>
<rect x="517.17" y="82.26" width="4.48" height="7.74" fill="#d5bdff"/>
<rect x="521.29" y="82.26" width="4.48" height="7.74" fill="#e2d0ff"/>
<rect x="525.42" y="82.26" width="4.48" height="7.74" fill="#e6d7ff"/>
<rect x="529.55" y="82.26" width="4.48" height="7.74" fill="#ccb0fe"/>
<rect x="533.68" y="82.26" width="4.48" height="7.74" fill="#c2a3fe"/>
<rect x="537.81" y="82.26" width="4.48" height="7.74" fill="#d5bdff"/>
<rect x="541.93" y="82.26" width="4.48" height="7.74" fill="#ccb0fe"/>
<rect x="546.06" y="82.26" width="4.48" height="7.74" fill="#b896fe"/>
<rect x="550.19" y="82.26" width="4.48" height="7.74" fill="#d5bdff"/>
<rect x="554.32" y="82.26" width="4.48" height="7.74" fill="#decaff"/>
<rect x="558.44" y="82.26" width="4.48" height="7.74" fill="#e6d7ff"/>
<rect x="562.57" y="82.26" width="4.48" height="7.74" fill="#decaff"/>
<rect x="195.20" y="89.65" width="4.48" height="7.74" fill="#c2a3fe"/>
<rect x="199.33" y="89.65" width="4.48" height="7.74" fill="#e6d7ff"/>
<rect x="203.46" y="89.65" width="4.48" height="7.74" fill="#e6d7ff"/>
<rect x="207.58" y="89.65" width="4.48" height="7.74" fill="#d5bdff"/>
<rect x="211.71" y="89.65" width="4.48" height="7.74" fill="#f7b4a2"/>
<rect x="215.84" y="89.65" width="4.48" height="7.74" fill="#f76b4c"/>
<rect x="219.97" y="89.65" width="4.48" height="7.74" fill="#fedacf"/>
<rect x="224.09" y="89.65" width="4.48" height="7.74" fill="#fedacf"/>
<rect x="228.22" y="89.65" width="4.48" height="7.74" fill="#fedacf"/>
<rect x="232.35" y="89.65" width="4.48" height="7.74" fill="#f7f2ff"/>
<rect x="236.48" y="89.65" width="4.48" height="7.74" fill="#ffffff"/>
<rect x="240.61" y="89.65" width="4.48" height="7.74" fill="#decaff"/>
<rect x="244.73" y="89.65" width="4.48" height="7.74" fill="#decaff"/>
<rect x="248.86" y="89.65" width="4.48" height="7.74" fill="#efe4ff"/>
<rect x="252.99" y="89.65" width="4.48" height="7.74" fill="#d5bdff"/>
<rect x="257.12" y="89.65" width="4.48" height="7.74" fill="#d5bdff"/>
<rect x="261.24" y="89.65" width="4.48" height="7.74" fill="#c2a3fe"/>
<rect x="265.37" y="89.65" width="4.48" height="7.74" fill="#ffffff"/>
<rect x="269.50" y="89.65" width="4.48" height="7.74" fill="#fff9f7"/>
<rect x="273.63" y="89.65" width="4.48" height="7.74" fill="#ed8f76"/>
<rect x="277.76" y="89.65" width="4.48" height="7.74" fill="#a37dfc"/>
<rect x="281.88" y="89.65" width="4.48" height="7.74" fill="#e6d7ff"/>
<rect x="286.01" y="89.65" width="4.48" height="7.74" fill="#ae89fd"/>
<rect x="290.14" y="89.65" width="4.48" height="7.74" fill="#decaff"/>
<rect x="294.27" y="89.65" width="4.48" height="7.74" fill="#f3ebff"/>
<rect x="298.39" y="89.65" width="4.48" height="7.74" fill="#ff1e0e"/>
<rect x="302.52" y="89.65" width="4.48" height="7.74" fill="#ff1e0e"/>
<rect x="306.65" y="89.65" width="4.48" height="7.74" fill="#ff1e0e"/>
<rect x="310.78" y="89.65" width="4.48" height="7.74" fill="#ffe6df"/>
<rect x="314.91" y="89.65" width="4.48" height="7.74" fill="#ef866a"/>
<rect x="319.03" y="89.65" width="4.48" height="7.74" fill="#decaff"/>
<rect x="323.16" y="89.65" width="4.48" height="7.74" fill="#f3ebff"/>
<rect x="327.29" y="89.65" width="4.48" height="7.74" fill="#f3ebff"/>
<rect x="331.42" y="89.65" width="4.48" height="7.74" fill="#d5bdff"/>
<rect x="335.54" y="89.65" width="4.48" height="7.74" fill="#d5bdff"/>
<rect x="339.67" y="89.65" width="4.48" height="7.74" fill="#fff9f7"/>
<rect x="343.80" y="89.65" width="4.48" height="7.74" fill="#f3ebff"/>
<rect x="347.93" y="89.65" width="4.48" height="7.74" fill="#f3ebff"/>
<rect x="352.06" y="89.65" width="4.48" height="7.74" fill="#decaff"/>
<rect x="356.18" y="89.65" width="4.48" height="7.74" fill="#decaff"/>
<rect x="360.31" y="89.65" width="4.48" height="7.74" fill="#d5bdff"/>
<rect x="364.44" y="89.65" width="4.48" height="7.74" fill="#fff2ef"/>
<rect x="368.57" y="89.65" width="4.48" height="7.74" fill="#f7f2ff"/>
<rect x="372.69" y="89.65" width="4.48" height="7.74" fill="#fac1b1"/>
<rect x="376.82" y="89.65" width="4.48" height="7.74" fill="#fedacf"/>
<rect x="380.95" y="89.65" width="4.48" height="7.74" fill="#fccdc0"/>
<rect x="385.08" y="89.65" width="4.48" height="7.74" fill="#f7f2ff"/>
<rect x="389.21" y="89.65" width="4.48" height="7.74" fill="#fff9f7"/>
<rect x="393.33" y="89.65" width="4.48" height="7.74" fill="#fff9f7"/>
<rect x="397.46" y="89.65" width="4.48" height="7.74" fill="#f7f2ff"/>
<rect x="401.59" y="89.65" width="4.48" height="7.74" fill="#efe4ff"/>
<rect x="405.72" y="89.65" width="4.48" height="7.74" fill="#efe4ff"/>
<rect x="409.84" y="89.65" width="4.48" height="7.74" fill="#ed8f76"/>
<rect x="413.97" y="89.65" width="4.48" height="7.74" fill="#f3ebff"/>
<rect x="418.10" y="89.65" width="4.48" height="7.74" fill="#ffece7"/>
<rect x="422.23" y="89.65" width="4.48" height="7.74" fill="#e6d7ff"/>
<rect x="426.36" y="89.65" width="4.48" height="7.74" fill="#e2d0ff"/>
<rect x="430.48" y="89.65" width="4.48" height="7.74" fill="#f3ebff"/>
<rect x="434.61" y="89.65" width="4.48" height="7.74" fill="#ffe6df"/>
<rect x="438.74" y="89.65" width="4.48" height="7.74" fill="#ffffff"/>
<rect x="442.87" y="89.65" width="4.48" height="7.74" fill="#ed8f76"/>
<rect x="446.99" y="89.65" width="4.48" height="7.74" fill="#e6d7ff"/>
<rect x="451.12" y="89.65" width="4.48" height="7.74" fill="#f3ebff"/>
<rect x="455.25" y="89.65" width="4.48" height="7.74" fill="#decaff"/>
<rect x="459.38" y="89.65" width="4.48" height="7.74" fill="#f7f2ff"/>
<rect x="463.51" y="89.65" width="4.48" height="7.74" fill="#d5bdff"/>
<rect x="467.63" y="89.65" width="4.48" height="7.74" fill="#e6d7ff"/>
<rect x="471.76" y="89.65" width="4.48" height="7.74" fill="#decaff"/>
<rect x="475.89" y="89.65" width="4.48" height="7.74" fill="#fbc7b8"/>
<rect x="480.02" y="89.65" width="4.48" height="7.74" fill="#ffffff"/>
<rect x="484.14" y="89.65" width="4.48" height="7.74" fill="#efe4ff"/>
<rect x="488.27" y="89.65" width="4.48" height="7.74" fill="#fdd3c8"/>
<rect x="492.40" y="89.65" width="4.48" height="7.74" fill="#fac1b1"/>
<rect x="496.53" y="89.65" width="4.48" height="7.74" fill="#f4a893"/>
<rect x="500.66" y="89.65" width="4.48" height="7.74" fill="#ccb0fe"/>
<rect x="504.78" y="89.65" width="4.48" height="7.74" fill="#decaff"/>
<rect x="508.91" y="89.65" width="4.48" height="7.74" fill="#f3ebff"/>
<rect x="513.04" y="89.65" width="4.48" height="7.74" fill="#f3ebff"/>
<rect x="517.17" y="89.65" width="4.48" height="7.74" fill="#fff2ef"/>
<rect x="521.29" y="89.65" width="4.48" height="7.74" fill="#ccb0fe"/>
<rect x="525.42" y="89.65" width="4.48" height="7.74" fill="#ccb0fe"/>
<rect x="529.55" y="89.65" width="4.48" height="7.74" fill="#decaff"/>
<rect x="533.68" y="89.65" width="4.48" height="7.74" fill="#ffece7"/>
<rect x="537.81" y="89.65" width="4.48" height="7.74" fill="#efe4ff"/>
<rect x="541.93" y="89.65" width="4.48" height="7.74" fill="#efe4ff"/>
<rect x="546.06" y="89.65" width="4.48" height="7.74" fill="#f3ebff"/>
<rect x="550.19" y="89.65" width="4.48" height="7.74" fill="#f3ebff"/>
<rect x="554.32" y="89.65" width="4.48" height="7.74" fill="#f7f2ff"/>
<rect x="558.44" y="89.65" width="4.48" height="7.74" fill="#ffe6df"/>
<rect x="562.57" y="89.65" width="4.48" height="7.74" fill="#f3ebff"/>
<rect x="195.20" y="97.04" width="4.48" height="7.74" fill="#fbf8ff"/>
<rect x="199.33" y="97.04" width="4.48" height="7.74" fill="#d5bdff"/>
<rect x="203.46" y="97.04" width="4.48" height="7.74" fill="#f3ebff"/>
<rect x="207.58" y="97.04" width="4.48" height="7.74" fill="#d5bdff"/>
<rect x="211.71" y="97.04" width="4.48" height="7.74" fill="#d5bdff"/>
<rect x="215.84" y="97.04" width="4.48" height="7.74" fill="#f7f2ff"/>
<rect x="219.97" y="97.04" width="4.48" height="7.74" fill="#fff9f7"/>
<rect x="224.09" y="97.04" width="4.48" height="7.74" fill="#decaff"/>
<rect x="228.22" y="97.04" width="4.48" height="7.74" fill="#decaff"/>
<rect x="232.35" y="97.04" width="4.48" height="7.74" fill="#ccb0fe"/>
<rect x="236.48" y="97.04" width="4.48" height="7.74" fill="#ccb0fe"/>
<rect x="240.61" y="97.04" width="4.48" height="7.74" fill="#d5bdff"/>
<rect x="244.73" y="97.04" width="4.48" height="7.74" fill="#c2a3fe"/>
<rect x="248.86" y="97.04" width="4.48" height="7.74" fill="#f7f2ff"/>
<rect x="252.99" y="97.04" width="4.48" height="7.74" fill="#d5bdff"/>
<rect x="257.12" y="97.04" width="4.48" height="7.74" fill="#efe4ff"/>
<rect x="261.24" y="97.04" width="4.48" height="7.74" fill="#ffffff"/>
<rect x="265.37" y="97.04" width="4.48" height="7.74" fill="#c2a3fe"/>
<rect x="269.50" y="97.04" width="4.48" height="7.74" fill="#b896fe"/>
<rect x="273.63" y="97.04" width="4.48" height="7.74" fill="#c2a3fe"/>
<rect x="277.76" y="97.04" width="4.48" height="7.74" fill="#e6d7ff"/>
<rect x="281.88" y="97.04" width="4.48" height="7.74" fill="#c2a3fe"/>
<rect x="286.01" y="97.04" width="4.48" height="7.74" fill="#fff9f7"/>
<rect x="290.14" y="97.04" width="4.48" height="7.74" fill="#decaff"/>
<rect x="294.27" y="97.04" width="4.48" height="7.74" fill="#d5bdff"/>
<rect x="298.39" y="97.04" width="4.48" height="7.74" fill="#decaff"/>
<rect x="302.52" y="97.04" width="4.48" height="7.74" fill="#decaff"/>
<rect x="306.65" y="97.04" width="4.48" height="7.74" fill="#decaff"/>
<rect x="310.78" y="97.04" width="4.48" height="7.74" fill="#ccb0fe"/>
<rect x="314.91" y="97.04" width="4.48" height="7.74" fill="#e6d7ff"/>
<rect x="319.03" y="97.04" width="4.48" height="7.74" fill="#f3ebff"/>
<rect x="323.16" y="97.04" width="4.48" height="7.74" fill="#b896fe"/>
<rect x="327.29" y="97.04" width="4.48" height="7.74" fill="#ccb0fe"/>
<rect x="331.42" y="97.04" width="4.48" height="7.74" fill="#ccb0fe"/>
<rect x="335.54" y="97.04" width="4.48" height="7.74" fill="#b896fe"/>
<rect x="339.67" y="97.04" width="4.48" height="7.74" fill="#d5bdff"/>
<rect x="343.80" y="97.04" width="4.48" height="7.74" fill="#e6d7ff"/>
<rect x="347.93" y="97.04" width="4.48" height="7.74" fill="#decaff"/>
<rect x="352.06" y="97.04" width="4.48" height="7.74" fill="#fff2ef"/>
<rect x="356.18" y="97.04" width="4.48" height="7.74" fill="#f3ebff"/>
<rect x="360.31" y="97.04" width="4.48" height="7.74" fill="#d5bdff"/>
<rect x="364.44" y="97.04" width="4.48" height="7.74" fill="#decaff"/>
<rect x="368.57" y="97.04" width="4.48" height="7.74" fill="#decaff"/>
<rect x="372.69" y="97.04" width="4.48" height="7.74" fill="#decaff"/>
<rect x="376.82" y="97.04" width="4.48" height="7.74" fill="#efe4ff"/>
<rect x="380.95" y="97.04" width="4.48" height="7.74" fill="#decaff"/>
<rect x="385.08" y="97.04" width="4.48" height="7.74" fill="#e6d7ff"/>
<rect x="389.21" y="97.04" width="4.48" height="7.74" fill="#f7f2ff"/>
<rect x="393.33" y="97.04" width="4.48" height="7.74" fill="#decaff"/>
<rect x="397.46" y="97.04" width="4.48" height="7.74" fill="#e6d7ff"/>
<rect x="401.59" y="97.04" width="4.48" height="7.74" fill="#e6d7ff"/>
<rect x="405.72" y="97.04" width="4.48" height="7.74" fill="#decaff"/>
<rect x="409.84" y="97.04" width="4.48" height="7.74" fill="#decaff"/>
<rect x="413.97" y="97.04" width="4.48" height="7.74" fill="#f3ebff"/>
<rect x="418.10" y="97.04" width="4.48" height="7.74" fill="#f3ebff"/>
<rect x="422.23" y="97.04" width="4.48" height="7.74" fill="#f7f2ff"/>
<rect x="426.36" y="97.04" width="4.48" height="7.74" fill="#f7f2ff"/>
<rect x="430.48" y="97.04" width="4.48" height="7.74" fill="#ebdeff"/>
<rect x="434.61" y="97.04" width="4.48" height="7.74" fill="#e6d7ff"/>
<rect x="438.74" y="97.04" width="4.48" height="7.74" fill="#ebdeff"/>
<rect x="442.87" y="97.04" width="4.48" height="7.74" fill="#decaff"/>
<rect x="446.99" y="97.04" width="4.48" height="7.74" fill="#decaff"/>
<rect x="451.12" y="97.04" width="4.48" height="7.74" fill="#fff2ef"/>
<rect x="455.25" y="97.04" width="4.48" height="7.74" fill="#efe4ff"/>
<rect x="459.38" y="97.04" width="4.48" height="7.74" fill="#ccb0fe"/>
<rect x="463.51" y="97.04" width="4.48" height="7.74" fill="#decaff"/>
<rect x="467.63" y="97.04" width="4.48" height="7.74" fill="#decaff"/>
<rect x="471.76" y="97.04" width="4.48" height="7.74" fill="#f7f2ff"/>
<rect x="475.89" y="97.04" width="4.48" height="7.74" fill="#e6d7ff"/>
<rect x="480.02" y="97.04" width="4.48" height="7.74" fill="#e6d7ff"/>
<rect x="484.14" y="97.04" width="4.48" height="7.74" fill="#e2d0ff"/>
<rect x="488.27" y="97.04" width="4.48" height="7.74" fill="#d5bdff"/>
<rect x="492.40" y="97.04" width="4.48" height="7.74" fill="#e2d0ff"/>
<rect x="496.53" y="97.04" width="4.48" height="7.74" fill="#efe4ff"/>
<rect x="500.66" y="97.04" width="4.48" height="7.74" fill="#d9c3ff"/>
<rect x="504.78" y="97.04" width="4.48" height="7.74" fill="#decaff"/>
<rect x="508.91" y="97.04" width="4.48" height="7.74" fill="#f3ebff"/>
<rect x="513.04" y="97.04" width="4.48" height="7.74" fill="#fbf8ff"/>
<rect x="517.17" y="97.04" width="4.48" height="7.74" fill="#fedacf"/>
<rect x="521.29" y="97.04" width="4.48" height="7.74" fill="#f7f2ff"/>
<rect x="525.42" y="97.04" width="4.48" height="7.74" fill="#efe4ff"/>
<rect x="529.55" y="97.04" width="4.48" height="7.74" fill="#efe4ff"/>
<rect x="533.68" y="97.04" width="4.48" height="7.74" fill="#fdfcff"/>
<rect x="537.81" y="97.04" width="4.48" height="7.74" fill="#e6d7ff"/>
<rect x="541.93" y="97.04" width="4.48" height="7.74" fill="#efe4ff"/>
<rect x="546.06" y="97.04" width="4.48" height="7.74" fill="#decaff"/>
<rect x="550.19" y="97.04" width="4.48" height="7.74" fill="#ccb0fe"/>
<rect x="554.32" y="97.04" width="4.48" height="7.74" fill="#ccb0fe"/>
<rect x="558.44" y="97.04" width="4.48" height="7.74" fill="#d5bdff"/>
<rect x="562.57" y="97.04" width="4.48" height="7.74" fill="#decaff"/>
<rect x="195.20" y="104.44" width="4.48" height="7.74" fill="#fbf8ff"/>
<rect x="199.33" y="104.44" width="4.48" height="7.74" fill="#e6d7ff"/>
<rect x="203.46" y="104.44" width="4.48" height="7.74" fill="#e6d7ff"/>
<rect x="207.58" y="104.44" width="4.48" height="7.74" fill="#decaff"/>
<rect x="211.71" y="104.44" width="4.48" height="7.74" fill="#d5bdff"/>
<rect x="215.84" y="104.44" width="4.48" height="7.74" fill="#efe4ff"/>
<rect x="219.97" y="104.44" width="4.48" height="7.74" fill="#fff2ef"/>
<rect x="224.09" y="104.44" width="4.48" height="7.74" fill="#decaff"/>
<rect x="228.22" y="104.44" width="4.48" height="7.74" fill="#decaff"/>
<rect x="232.35" y="104.44" width="4.48" height="7.74" fill="#ccb0fe"/>
<rect x="236.48" y="104.44" width="4.48" height="7.74" fill="#ccb0fe"/>
<rect x="240.61" y="104.44" width="4.48" height="7.74" fill="#d5bdff"/>
<rect x="244.73" y="104.44" width="4.48" height="7.74" fill="#decaff"/>
<rect x="248.86" y="104.44" width="4.48" height="7.74" fill="#ebdeff"/>
<rect x="252.99" y="104.44" width="4.48" height="7.74" fill="#d5bdff"/>
<rect x="257.12" y="104.44" width="4.48" height="7.74" fill="#e6d7ff"/>
<rect x="261.24" y="104.44" width="4.48" height="7.74" fill="#ccb0fe"/>
<rect x="265.37" y="104.44" width="4.48" height="7.74" fill="#ccb0fe"/>
<rect x="269.50" y="104.44" width="4.48" height="7.74" fill="#c2a3fe"/>
<rect x="273.63" y="104.44" width="4.48" height="7.74" fill="#ccb0fe"/>
<rect x="277.76" y="104.44" width="4.48" height="7.74" fill="#efe4ff"/>
<rect x="281.88" y="104.44" width="4.48" height="7.74" fill="#c2a3fe"/>
<rect x="286.01" y="104.44" width="4.48" height="7.74" fill="#ffe6df"/>
<rect x="290.14" y="104.44" width="4.48" height="7.74" fill="#decaff"/>
<rect x="294.27" y="104.44" width="4.48" height="7.74" fill="#decaff"/>
<rect x="298.39" y="104.44" width="4.48" height="7.74" fill="#efe4ff"/>
<rect x="302.52" y="104.44" width="4.48" height="7.74" fill="#d5bdff"/>
<rect x="306.65" y="104.44" width="4.48" height="7.74" fill="#decaff"/>
<rect x="310.78" y="104.44" width="4.48" height="7.74" fill="#d5bdff"/>
<rect x="314.91" y="104.44" width="4.48" height="7.74" fill="#e6d7ff"/>
<rect x="319.03" y="104.44" width="4.48" height="7.74" fill="#fbf8ff"/>
<rect x="323.16" y="104.44" width="4.48" height="7.74" fill="#b896fe"/>
<rect x="327.29" y="104.44" width="4.48" height="7.74" fill="#ccb0fe"/>
<rect x="331.42" y="104.44" width="4.48" height="7.74" fill="#ae89fd"/>
<rect x="335.54" y="104.44" width="4.48" height="7.74" fill="#ccb0fe"/>
<rect x="339.67" y="104.44" width="4.48" height="7.74" fill="#d5bdff"/>
<rect x="343.80" y="104.44" width="4.48" height="7.74" fill="#e6d7ff"/>
<rect x="347.93" y="104.44" width="4.48" height="7.74" fill="#efe4ff"/>
<rect x="352.06" y="104.44" width="4.48" height="7.74" fill="#fff9f7"/>
<rect x="356.18" y="104.44" width="4.48" height="7.74" fill="#ffffff"/>
<rect x="360.31" y="104.44" width="4.48" height="7.74" fill="#d5bdff"/>
<rect x="364.44" y="104.44" width="4.48" height="7.74" fill="#decaff"/>
<rect x="368.57" y="104.44" width="4.48" height="7.74" fill="#d5bdff"/>
<rect x="372.69" y="104.44" width="4.48" height="7.74" fill="#e6d7ff"/>
<rect x="376.82" y="104.44" width="4.48" height="7.74" fill="#efe4ff"/>
<rect x="380.95" y="104.44" width="4.48" height="7.74" fill="#e2d0ff"/>
<rect x="385.08" y="104.44" width="4.48" height="7.74" fill="#e6d7ff"/>
<rect x="389.21" y="104.44" width="4.48" height="7.74" fill="#f7f2ff"/>
<rect x="393.33" y="104.44" width="4.48" height="7.74" fill="#e2d0ff"/>
<rect x="397.46" y="104.44" width="4.48" height="7.74" fill="#e6d7ff"/>
<rect x="401.59" y="104.44" width="4.48" height="7.74" fill="#e6d7ff"/>
<rect x="405.72" y="104.44" width="4.48" height="7.74" fill="#decaff"/>
<rect x="409.84" y="104.44" width="4.48" height="7.74" fill="#e2d0ff"/>
<rect x="413.97" y="104.44" width="4.48" height="7.74" fill="#f7f2ff"/>
<rect x="418.10" y="104.44" width="4.48" height="7.74" fill="#f3ebff"/>
<rect x="422.23" y="104.44" width="4.48" height="7.74" fill="#efe4ff"/>
<rect x="426.36" y="104.44" width="4.48" height="7.74" fill="#efe4ff"/>
<rect x="430.48" y="104.44" width="4.48" height="7.74" fill="#ebdeff"/>
<rect x="434.61" y="104.44" width="4.48" height="7.74" fill="#e6d7ff"/>
<rect x="438.74" y="104.44" width="4.48" height="7.74" fill="#e6d7ff"/>
<rect x="442.87" y="104.44" width="4.48" height="7.74" fill="#decaff"/>
<rect x="446.99" y="104.44" width="4.48" height="7.74" fill="#decaff"/>
<rect x="451.12" y="104.44" width="4.48" height="7.74" fill="#b896fe"/>
<rect x="455.25" y="104.44" width="4.48" height="7.74" fill="#c2a3fe"/>
<rect x="459.38" y="104.44" width="4.48" height="7.74" fill="#ccb0fe"/>
<rect x="463.51" y="104.44" width="4.48" height="7.74" fill="#d5bdff"/>
<rect x="467.63" y="104.44" width="4.48" height="7.74" fill="#decaff"/>
<rect x="471.76" y="104.44" width="4.48" height="7.74" fill="#fbf8ff"/>
<rect x="475.89" y="104.44" width="4.48" height="7.74" fill="#ccb0fe"/>
<rect x="480.02" y="104.44" width="4.48" height="7.74" fill="#e6d7ff"/>
<rect x="484.14" y="104.44" width="4.48" height="7.74" fill="#decaff"/>
<rect x="488.27" y="104.44" width="4.48" height="7.74" fill="#d5bdff"/>
<rect x="492.40" y="104.44" width="4.48" height="7.74" fill="#efe4ff"/>
<rect x="496.53" y="104.44" width="4.48" height="7.74" fill="#e6d7ff"/>
<rect x="500.66" y="104.44" width="4.48" height="7.74" fill="#d5bdff"/>
<rect x="504.78" y="104.44" width="4.48" height="7.74" fill="#decaff"/>
<rect x="508.91" y="104.44" width="4.48" height="7.74" fill="#decaff"/>
<rect x="513.04" y="104.44" width="4.48" height="7.74" fill="#fffcfc"/>
<rect x="517.17" y="104.44" width="4.48" height="7.74" fill="#fff2ef"/>
<rect x="521.29" y="104.44" width="4.48" height="7.74" fill="#f7f2ff"/>
<rect x="525.42" y="104.44" width="4.48" height="7.74" fill="#c2a3fe"/>
<rect x="529.55" y="104.44" width="4.48" height="7.74" fill="#efe4ff"/>
<rect x="533.68" y="104.44" width="4.48" height="7.74" fill="#fdfcff"/>
<rect x="537.81" y="104.44" width="4.48" height="7.74" fill="#e6d7ff"/>
<rect x="541.93" y="104.44" width="4.48" height="7.74" fill="#f3ebff"/>
<rect x="546.06" y="104.44" width="4.48" height="7.74" fill="#efe4ff"/>
<rect x="550.19" y="104.44" width="4.48" height="7.74" fill="#e6d7ff"/>
<rect x="554.32" y="104.44" width="4.48" height="7.74" fill="#d5bdff"/>
<rect x="558.44" y="104.44" width="4.48" height="7.74" fill="#e6d7ff"/>
<rect x="562.57" y="104.44" width="4.48" height="7.74" fill="#decaff"/>
<rect x="195.20" y="111.83" width="4.48" height="7.74" fill="#efe4ff"/>
<rect x="199.33" y="111.83" width="4.48" height="7.74" fill="#d5bdff"/>
<rect x="203.46" y="111.83" width="4.48" height="7.74" fill="#d5bdff"/>
<rect x="207.58" y="111.83" width="4.48" height="7.74" fill="#c2a3fe"/>
<rect x="211.71" y="111.83" width="4.48" height="7.74" fill="#c2a3fe"/>
<rect x="215.84" y="111.83" width="4.48" height="7.74" fill="#c2a3fe"/>
<rect x="219.97" y="111.83" width="4.48" height="7.74" fill="#ccb0fe"/>
<rect x="224.09" y="111.83" width="4.48" height="7.74" fill="#ccb0fe"/>
<rect x="228.22" y="111.83" width="4.48" height="7.74" fill="#c2a3fe"/>
<rect x="232.35" y="111.83" width="4.48" height="7.74" fill="#ccb0fe"/>
<rect x="236.48" y="111.83" width="4.48" height="7.74" fill="#b896fe"/>
<rect x="240.61" y="111.83" width="4.48" height="7.74" fill="#decaff"/>
<rect x="244.73" y="111.83" width="4.48" height="7.74" fill="#d5bdff"/>
<rect x="248.86" y="111.83" width="4.48" height="7.74" fill="#d5bdff"/>
<rect x="252.99" y="111.83" width="4.48" height="7.74" fill="#ccb0fe"/>
<rect x="257.12" y="111.83" width="4.48" height="7.74" fill="#e6d7ff"/>
<rect x="261.24" y="111.83" width="4.48" height="7.74" fill="#ccb0fe"/>
<rect x="265.37" y="111.83" width="4.48" height="7.74" fill="#9770fb"/>
<rect x="269.50" y="111.83" width="4.48" height="7.74" fill="#a37dfc"/>
<rect x="273.63" y="111.83" width="4.48" height="7.74" fill="#ae89fd"/>
<rect x="277.76" y="111.83" width="4.48" height="7.74" fill="#f3ebff"/>
<rect x="281.88" y="111.83" width="4.48" height="7.74" fill="#c2a3fe"/>
<rect x="286.01" y="111.83" width="4.48" height="7.74" fill="#ccb0fe"/>
<rect x="290.14" y="111.83" width="4.48" height="7.74" fill="#b896fe"/>
<rect x="294.27" y="111.83" width="4.48" height="7.74" fill="#c2a3fe"/>
<rect x="298.39" y="111.83" width="4.48" height="7.74" fill="#c2a3fe"/>
<rect x="302.52" y="111.83" width="4.48" height="7.74" fill="#ccb0fe"/>
<rect x="306.65" y="111.83" width="4.48" height="7.74" fill="#ccb0fe"/>
<rect x="310.78" y="111.83" width="4.48" height="7.74" fill="#b896fe"/>
<rect x="314.91" y="111.83" width="4.48" height="7.74" fill="#ae89fd"/>
<rect x="319.03" y="111.83" width="4.48" height="7.74" fill="#ebdeff"/>
<rect x="323.16" y="111.83" width="4.48" height="7.74" fill="#efe4ff"/>
<rect x="327.29" y="111.83" width="4.48" height="7.74" fill="#efe4ff"/>
<rect x="331.42" y="111.83" width="4.48" height="7.74" fill="#efe4ff"/>
<rect x="335.54" y="111.83" width="4.48" height="7.74" fill="#f7f2ff"/>
<rect x="339.67" y="111.83" width="4.48" height="7.74" fill="#ae89fd"/>
<rect x="343.80" y="111.83" width="4.48" height="7.74" fill="#d5bdff"/>
<rect x="347.93" y="111.83" width="4.48" height="7.74" fill="#ae89fd"/>
<rect x="352.06" y="111.83" width="4.48" height="7.74" fill="#ebdeff"/>
<rect x="356.18" y="111.83" width="4.48" height="7.74" fill="#d5bdff"/>
<rect x="360.31" y="111.83" width="4.48" height="7.74" fill="#b896fe"/>
<rect x="364.44" y="111.83" width="4.48" height="7.74" fill="#b896fe"/>
<rect x="368.57" y="111.83" width="4.48" height="7.74" fill="#b896fe"/>
<rect x="372.69" y="111.83" width="4.48" height="7.74" fill="#b896fe"/>
<rect x="376.82" y="111.83" width="4.48" height="7.74" fill="#d5bdff"/>
<rect x="380.95" y="111.83" width="4.48" height="7.74" fill="#d5bdff"/>
<rect x="385.08" y="111.83" width="4.48" height="7.74" fill="#d5bdff"/>
<rect x="389.21" y="111.83" width="4.48" height="7.74" fill="#c2a3fe"/>
<rect x="393.33" y="111.83" width="4.48" height="7.74" fill="#ccb0fe"/>
<rect x="397.46" y="111.83" width="4.48" height="7.74" fill="#c2a3fe"/>
<rect x="401.59" y="111.83" width="4.48" height="7.74" fill="#ccb0fe"/>
<rect x="405.72" y="111.83" width="4.48" height="7.74" fill="#ccb0fe"/>
<rect x="409.84" y="111.83" width="4.48" height="7.74" fill="#ccb0fe"/>
<rect x="413.97" y="111.83" width="4.48" height="7.74" fill="#ccb0fe"/>
<rect x="418.10" y="111.83" width="4.48" height="7.74" fill="#d5bdff"/>
<rect x="422.23" y="111.83" width="4.48" height="7.74" fill="#d5bdff"/>
<rect x="426.36" y="111.83" width="4.48" height="7.74" fill="#d5bdff"/>
<rect x="430.48" y="111.83" width="4.48" height="7.74" fill="#e6d7ff"/>
<rect x="434.61" y="111.83" width="4.48" height="7.74" fill="#c2a3fe"/>
<rect x="438.74" y="111.83" width="4.48" height="7.74" fill="#c2a3fe"/>
<rect x="442.87" y="111.83" width="4.48" height="7.74" fill="#d5bdff"/>
<rect x="446.99" y="111.83" width="4.48" height="7.74" fill="#f3ebff"/>
<rect x="451.12" y="111.83" width="4.48" height="7.74" fill="#decaff"/>
<rect x="455.25" y="111.83" width="4.48" height="7.74" fill="#ae89fd"/>
<rect x="459.38" y="111.83" width="4.48" height="7.74" fill="#ccb0fe"/>
<rect x="463.51" y="111.83" width="4.48" height="7.74" fill="#ccb0fe"/>
<rect x="467.63" y="111.83" width="4.48" height="7.74" fill="#d5bdff"/>
<rect x="471.76" y="111.83" width="4.48" height="7.74" fill="#decaff"/>
<rect x="475.89" y="111.83" width="4.48" height="7.74" fill="#ccb0fe"/>
<rect x="480.02" y="111.83" width="4.48" height="7.74" fill="#c2a3fe"/>
<rect x="484.14" y="111.83" width="4.48" height="7.74" fill="#c2a3fe"/>
<rect x="488.27" y="111.83" width="4.48" height="7.74" fill="#c2a3fe"/>
<rect x="492.40" y="111.83" width="4.48" height="7.74" fill="#ccb0fe"/>
<rect x="496.53" y="111.83" width="4.48" height="7.74" fill="#ccb0fe"/>
<rect x="500.66" y="111.83" width="4.48" height="7.74" fill="#decaff"/>
<rect x="504.78" y="111.83" width="4.48" height="7.74" fill="#decaff"/>
<rect x="508.91" y="111.83" width="4.48" height="7.74" fill="#d5bdff"/>
<rect x="513.04" y="111.83" width="4.48" height="7.74" fill="#d5bdff"/>
<rect x="517.17" y="111.83" width="4.48" height="7.74" fill="#ccb0fe"/>
<rect x="521.29" y="111.83" width="4.48" height="7.74" fill="#f3ebff"/>
<rect x="525.42" y="111.83" width="4.48" height="7.74" fill="#e6d7ff"/>
<rect x="529.55" y="111.83" width="4.48" height="7.74" fill="#b896fe"/>
<rect x="533.68" y="111.83" width="4.48" height="7.74" fill="#d5bdff"/>
<rect x="537.81" y="111.83" width="4.48" height="7.74" fill="#d5bdff"/>
<rect x="541.93" y="111.83" width="4.48" height="7.74" fill="#d5bdff"/>
<rect x="546.06" y="111.83" width="4.48" height="7.74" fill="#fbf8ff"/>
<rect x="550.19" y="111.83" width="4.48" height="7.74" fill="#b896fe"/>
<rect x="554.32" y="111.83" width="4.48" height="7.74" fill="#d5bdff"/>
<rect x="558.44" y="111.83" width="4.48" height="7.74" fill="#e6d7ff"/>
<rect x="562.57" y="111.83" width="4.48" height="7.74" fill="#efe4ff"/>
<rect x="195.20" y="119.23" width="4.48" height="7.74" fill="#e6d7ff"/>
<rect x="199.33" y="119.23" width="4.48" height="7.74" fill="#ccb0fe"/>
<rect x="203.46" y="119.23" width="4.48" height="7.74" fill="#ccb0fe"/>
<rect x="207.58" y="119.23" width="4.48" height="7.74" fill="#ccb0fe"/>
<rect x="211.71" y="119.23" width="4.48" height="7.74" fill="#c2a3fe"/>
<rect x="215.84" y="119.23" width="4.48" height="7.74" fill="#ccb0fe"/>
<rect x="219.97" y="119.23" width="4.48" height="7.74" fill="#ccb0fe"/>
<rect x="224.09" y="119.23" width="4.48" height="7.74" fill="#ccb0fe"/>
<rect x="228.22" y="119.23" width="4.48" height="7.74" fill="#ccb0fe"/>
<rect x="232.35" y="119.23" width="4.48" height="7.74" fill="#d5bdff"/>
<rect x="236.48" y="119.23" width="4.48" height="7.74" fill="#b896fe"/>
<rect x="240.61" y="119.23" width="4.48" height="7.74" fill="#decaff"/>
<rect x="244.73" y="119.23" width="4.48" height="7.74" fill="#d5bdff"/>
<rect x="248.86" y="119.23" width="4.48" height="7.74" fill="#d5bdff"/>
<rect x="252.99" y="119.23" width="4.48" height="7.74" fill="#ccb0fe"/>
<rect x="257.12" y="119.23" width="4.48" height="7.74" fill="#decaff"/>
<rect x="261.24" y="119.23" width="4.48" height="7.74" fill="#ccb0fe"/>
<rect x="265.37" y="119.23" width="4.48" height="7.74" fill="#ae89fd"/>
<rect x="269.50" y="119.23" width="4.48" height="7.74" fill="#b896fe"/>
<rect x="273.63" y="119.23" width="4.48" height="7.74" fill="#ae89fd"/>
<rect x="277.76" y="119.23" width="4.48" height="7.74" fill="#e6d7ff"/>
<rect x="281.88" y="119.23" width="4.48" height="7.74" fill="#ccb0fe"/>
<rect x="286.01" y="119.23" width="4.48" height="7.74" fill="#ccb0fe"/>
<rect x="290.14" y="119.23" width="4.48" height="7.74" fill="#b896fe"/>
<rect x="294.27" y="119.23" width="4.48" height="7.74" fill="#c2a3fe"/>
<rect x="298.39" y="119.23" width="4.48" height="7.74" fill="#c2a3fe"/>
<rect x="302.52" y="119.23" width="4.48" height="7.74" fill="#ccb0fe"/>
<rect x="306.65" y="119.23" width="4.48" height="7.74" fill="#ccb0fe"/>
<rect x="310.78" y="119.23" width="4.48" height="7.74" fill="#b896fe"/>
<rect x="314.91" y="119.23" width="4.48" height="7.74" fill="#ae89fd"/>
<rect x="319.03" y="119.23" width="4.48" height="7.74" fill="#ebdeff"/>
<rect x="323.16" y="119.23" width="4.48" height="7.74" fill="#f3ebff"/>
<rect x="327.29" y="119.23" width="4.48" height="7.74" fill="#f3ebff"/>
<rect x="331.42" y="119.23" width="4.48" height="7.74" fill="#f7f2ff"/>
<rect x="335.54" y="119.23" width="4.48" height="7.74" fill="#e6d7ff"/>
<rect x="339.67" y="119.23" width="4.48" height="7.74" fill="#ae89fd"/>
<rect x="343.80" y="119.23" width="4.48" height="7.74" fill="#d5bdff"/>
<rect x="347.93" y="119.23" width="4.48" height="7.74" fill="#ae89fd"/>
<rect x="352.06" y="119.23" width="4.48" height="7.74" fill="#e6d7ff"/>
<rect x="356.18" y="119.23" width="4.48" height="7.74" fill="#decaff"/>
<rect x="360.31" y="119.23" width="4.48" height="7.74" fill="#b896fe"/>
<rect x="364.44" y="119.23" width="4.48" height="7.74" fill="#b896fe"/>
<rect x="368.57" y="119.23" width="4.48" height="7.74" fill="#b896fe"/>
<rect x="372.69" y="119.23" width="4.48" height="7.74" fill="#c2a3fe"/>
<rect x="376.82" y="119.23" width="4.48" height="7.74" fill="#efe4ff"/>
<rect x="380.95" y="119.23" width="4.48" height="7.74" fill="#d5bdff"/>
<rect x="385.08" y="119.23" width="4.48" height="7.74" fill="#e6d7ff"/>
<rect x="389.21" y="119.23" width="4.48" height="7.74" fill="#c2a3fe"/>
<rect x="393.33" y="119.23" width="4.48" height="7.74" fill="#ccb0fe"/>
<rect x="397.46" y="119.23" width="4.48" height="7.74" fill="#ccb0fe"/>
<rect x="401.59" y="119.23" width="4.48" height="7.74" fill="#ccb0fe"/>
<rect x="405.72" y="119.23" width="4.48" height="7.74" fill="#ccb0fe"/>
<rect x="409.84" y="119.23" width="4.48" height="7.74" fill="#ccb0fe"/>
<rect x="413.97" y="119.23" width="4.48" height="7.74" fill="#ccb0fe"/>
<rect x="418.10" y="119.23" width="4.48" height="7.74" fill="#d5bdff"/>
<rect x="422.23" y="119.23" width="4.48" height="7.74" fill="#d5bdff"/>
<rect x="426.36" y="119.23" width="4.48" height="7.74" fill="#d5bdff"/>
<rect x="430.48" y="119.23" width="4.48" height="7.74" fill="#e6d7ff"/>
<rect x="434.61" y="119.23" width="4.48" height="7.74" fill="#c2a3fe"/>
<rect x="438.74" y="119.23" width="4.48" height="7.74" fill="#c2a3fe"/>
<rect x="442.87" y="119.23" width="4.48" height="7.74" fill="#d5bdff"/>
<rect x="446.99" y="119.23" width="4.48" height="7.74" fill="#f3ebff"/>
<rect x="451.12" y="119.23" width="4.48" height="7.74" fill="#e6d7ff"/>
<rect x="455.25" y="119.23" width="4.48" height="7.74" fill="#ae89fd"/>
<rect x="459.38" y="119.23" width="4.48" height="7.74" fill="#ccb0fe"/>
<rect x="463.51" y="119.23" width="4.48" height="7.74" fill="#ccb0fe"/>
<rect x="467.63" y="119.23" width="4.48" height="7.74" fill="#d5bdff"/>
<rect x="471.76" y="119.23" width="4.48" height="7.74" fill="#ccb0fe"/>
<rect x="475.89" y="119.23" width="4.48" height="7.74" fill="#e6d7ff"/>
<rect x="480.02" y="119.23" width="4.48" height="7.74" fill="#c2a3fe"/>
<rect x="484.14" y="119.23" width="4.48" height="7.74" fill="#c2a3fe"/>
<rect x="488.27" y="119.23" width="4.48" height="7.74" fill="#c2a3fe"/>
<rect x="492.40" y="119.23" width="4.48" height="7.74" fill="#ccb0fe"/>
<rect x="496.53" y="119.23" width="4.48" height="7.74" fill="#ccb0fe"/>
<rect x="500.66" y="119.23" width="4.48" height="7.74" fill="#e6d7ff"/>
<rect x="504.78" y="119.23" width="4.48" height="7.74" fill="#decaff"/>
<rect x="508.91" y="119.23" width="4.48" height="7.74" fill="#ccb0fe"/>
<rect x="513.04" y="119.23" width="4.48" height="7.74" fill="#ccb0fe"/>
<rect x="517.17" y="119.23" width="4.48" height="7.74" fill="#ccb0fe"/>
<rect x="521.29" y="119.23" width="4.48" height="7.74" fill="#f3ebff"/>
<rect x="525.42" y="119.23" width="4.48" height="7.74" fill="#b896fe"/>
<rect x="529.55" y="119.23" width="4.48" height="7.74" fill="#b896fe"/>
<rect x="533.68" y="119.23" width="4.48" height="7.74" fill="#d5bdff"/>
<rect x="537.81" y="119.23" width="4.48" height="7.74" fill="#d5bdff"/>
<rect x="541.93" y="119.23" width="4.48" height="7.74" fill="#d5bdff"/>
<rect x="546.06" y="119.23" width="4.48" height="7.74" fill="#e6d7ff"/>
<rect x="550.19" y="119.23" width="4.48" height="7.74" fill="#b896fe"/>
<rect x="554.32" y="119.23" width="4.48" height="7.74" fill="#d5bdff"/>
<rect x="558.44" y="119.23" width="4.48" height="7.74" fill="#efe4ff"/>
<rect x="562.57" y="119.23" width="4.48" height="7.74" fill="#d5bdff"/>
<rect x="195.20" y="126.62" width="4.48" height="7.74" fill="#7e56fa"/>
<rect x="199.33" y="126.62" width="4.48" height="7.74" fill="#efe4ff"/>
<rect x="203.46" y="126.62" width="4.48" height="7.74" fill="#c2a3fe"/>
<rect x="207.58" y="126.62" width="4.48" height="7.74" fill="#ae89fd"/>
<rect x="211.71" y="126.62" width="4.48" height="7.74" fill="#ccb0fe"/>
<rect x="215.84" y="126.62" width="4.48" height="7.74" fill="#d5bdff"/>
<rect x="219.97" y="126.62" width="4.48" height="7.74" fill="#9770fb"/>
<rect x="224.09" y="126.62" width="4.48" height="7.74" fill="#d5bdff"/>
<rect x="228.22" y="126.62" width="4.48" height="7.74" fill="#d5bdff"/>
<rect x="232.35" y="126.62" width="4.48" height="7.74" fill="#d5bdff"/>
<rect x="236.48" y="126.62" width="4.48" height="7.74" fill="#b896fe"/>
<rect x="240.61" y="126.62" width="4.48" height="7.74" fill="#decaff"/>
<rect x="244.73" y="126.62" width="4.48" height="7.74" fill="#ebdeff"/>
<rect x="248.86" y="126.62" width="4.48" height="7.74" fill="#a37dfc"/>
<rect x="252.99" y="126.62" width="4.48" height="7.74" fill="#d5bdff"/>
<rect x="257.12" y="126.62" width="4.48" height="7.74" fill="#d5bdff"/>
<rect x="261.24" y="126.62" width="4.48" height="7.74" fill="#c2a3fe"/>
<rect x="265.37" y="126.62" width="4.48" height="7.74" fill="#c2a3fe"/>
<rect x="269.50" y="126.62" width="4.48" height="7.74" fill="#b896fe"/>
<rect x="273.63" y="126.62" width="4.48" height="7.74" fill="#8b63fb"/>
<rect x="277.76" y="126.62" width="4.48" height="7.74" fill="#8b63fb"/>
<rect x="281.88" y="126.62" width="4.48" height="7.74" fill="#7e56fa"/>
<rect x="286.01" y="126.62" width="4.48" height="7.74" fill="#5e3bf8"/>
<rect x="290.14" y="126.62" width="4.48" height="7.74" fill="#ae89fd"/>
<rect x="294.27" y="126.62" width="4.48" height="7.74" fill="#ae89fd"/>
<rect x="298.39" y="126.62" width="4.48" height="7.74" fill="#c2a3fe"/>
<rect x="302.52" y="126.62" width="4.48" height="7.74" fill="#efe4ff"/>
<rect x="306.65" y="126.62" width="4.48" height="7.74" fill="#d5bdff"/>
<rect x="310.78" y="126.62" width="4.48" height="7.74" fill="#c2a3fe"/>
<rect x="314.91" y="126.62" width="4.48" height="7.74" fill="#a37dfc"/>
<rect x="319.03" y="126.62" width="4.48" height="7.74" fill="#b896fe"/>
<rect x="323.16" y="126.62" width="4.48" height="7.74" fill="#b896fe"/>
<rect x="327.29" y="126.62" width="4.48" height="7.74" fill="#e6d7ff"/>
<rect x="331.42" y="126.62" width="4.48" height="7.74" fill="#a37dfc"/>
<rect x="335.54" y="126.62" width="4.48" height="7.74" fill="#a37dfc"/>
<rect x="339.67" y="126.62" width="4.48" height="7.74" fill="#ae89fd"/>
<rect x="343.80" y="126.62" width="4.48" height="7.74" fill="#8b63fb"/>
<rect x="347.93" y="126.62" width="4.48" height="7.74" fill="#b896fe"/>
<rect x="352.06" y="126.62" width="4.48" height="7.74" fill="#ae89fd"/>
<rect x="356.18" y="126.62" width="4.48" height="7.74" fill="#b896fe"/>
<rect x="360.31" y="126.62" width="4.48" height="7.74" fill="#b896fe"/>
<rect x="364.44" y="126.62" width="4.48" height="7.74" fill="#b896fe"/>
<rect x="368.57" y="126.62" width="4.48" height="7.74" fill="#b896fe"/>
<rect x="372.69" y="126.62" width="4.48" height="7.74" fill="#b896fe"/>
<rect x="376.82" y="126.62" width="4.48" height="7.74" fill="#ae89fd"/>
<rect x="380.95" y="126.62" width="4.48" height="7.74" fill="#c2a3fe"/>
<rect x="385.08" y="126.62" width="4.48" height="7.74" fill="#9770fb"/>
<rect x="389.21" y="126.62" width="4.48" height="7.74" fill="#c2a3fe"/>
<rect x="393.33" y="126.62" width="4.48" height="7.74" fill="#ccb0fe"/>
<rect x="397.46" y="126.62" width="4.48" height="7.74" fill="#ccb0fe"/>
<rect x="401.59" y="126.62" width="4.48" height="7.74" fill="#ccb0fe"/>
<rect x="405.72" y="126.62" width="4.48" height="7.74" fill="#b896fe"/>
<rect x="409.84" y="126.62" width="4.48" height="7.74" fill="#decaff"/>
<rect x="413.97" y="126.62" width="4.48" height="7.74" fill="#ae89fd"/>
<rect x="418.10" y="126.62" width="4.48" height="7.74" fill="#ccb0fe"/>
<rect x="422.23" y="126.62" width="4.48" height="7.74" fill="#ccb0fe"/>
<rect x="426.36" y="126.62" width="4.48" height="7.74" fill="#ccb0fe"/>
<rect x="430.48" y="126.62" width="4.48" height="7.74" fill="#decaff"/>
<rect x="434.61" y="126.62" width="4.48" height="7.74" fill="#ae89fd"/>
<rect x="438.74" y="126.62" width="4.48" height="7.74" fill="#c2a3fe"/>
<rect x="442.87" y="126.62" width="4.48" height="7.74" fill="#ccb0fe"/>
<rect x="446.99" y="126.62" width="4.48" height="7.74" fill="#ccb0fe"/>
<rect x="451.12" y="126.62" width="4.48" height="7.74" fill="#ccb0fe"/>
<rect x="455.25" y="126.62" width="4.48" height="7.74" fill="#e6d7ff"/>
<rect x="459.38" y="126.62" width="4.48" height="7.74" fill="#ccb0fe"/>
<rect x="463.51" y="126.62" width="4.48" height="7.74" fill="#b896fe"/>
<rect x="467.63" y="126.62" width="4.48" height="7.74" fill="#c2a3fe"/>
<rect x="471.76" y="126.62" width="4.48" height="7.74" fill="#ae89fd"/>
<rect x="475.89" y="126.62" width="4.48" height="7.74" fill="#b896fe"/>
<rect x="480.02" y="126.62" width="4.48" height="7.74" fill="#decaff"/>
<rect x="484.14" y="126.62" width="4.48" height="7.74" fill="#decaff"/>
<rect x="488.27" y="126.62" width="4.48" height="7.74" fill="#c2a3fe"/>
<rect x="492.40" y="126.62" width="4.48" height="7.74" fill="#c2a3fe"/>
<rect x="496.53" y="126.62" width="4.48" height="7.74" fill="#a37dfc"/>
<rect x="500.66" y="126.62" width="4.48" height="7.74" fill="#a37dfc"/>
<rect x="504.78" y="126.62" width="4.48" height="7.74" fill="#c2a3fe"/>
<rect x="508.91" y="126.62" width="4.48" height="7.74" fill="#decaff"/>
<rect x="513.04" y="126.62" width="4.48" height="7.74" fill="#ae89fd"/>
<rect x="517.17" y="126.62" width="4.48" height="7.74" fill="#ae89fd"/>
<rect x="521.29" y="126.62" width="4.48" height="7.74" fill="#c2a3fe"/>
<rect x="525.42" y="126.62" width="4.48" height="7.74" fill="#9770fb"/>
<rect x="529.55" y="126.62" width="4.48" height="7.74" fill="#b896fe"/>
<rect x="533.68" y="126.62" width="4.48" height="7.74" fill="#b896fe"/>
<rect x="537.81" y="126.62" width="4.48" height="7.74" fill="#ccb0fe"/>
<rect x="541.93" y="126.62" width="4.48" height="7.74" fill="#c2a3fe"/>
<rect x="546.06" y="126.62" width="4.48" height="7.74" fill="#ccb0fe"/>
<rect x="550.19" y="126.62" width="4.48" height="7.74" fill="#b896fe"/>
<rect x="554.32" y="126.62" width="4.48" height="7.74" fill="#d5bdff"/>
<rect x="558.44" y="126.62" width="4.48" height="7.74" fill="#d5bdff"/>
<rect x="562.57" y="126.62" width="4.48" height="7.74" fill="#b896fe"/>
<rect x="195.20" y="134.01" width="4.48" height="7.74" fill="#8b63fb"/>
<rect x="199.33" y="134.01" width="4.48" height="7.74" fill="#ccb0fe"/>
<rect x="203.46" y="134.01" width="4.48" height="7.74" fill="#9770fb"/>
<rect x="207.58" y="134.01" width="4.48" height="7.74" fill="#ccb0fe"/>
<rect x="211.71" y="134.01" width="4.48" height="7.74" fill="#c2a3fe"/>
<rect x="215.84" y="134.01" width="4.48" height="7.74" fill="#c2a3fe"/>
<rect x="219.97" y="134.01" width="4.48" height="7.74" fill="#a37dfc"/>
<rect x="224.09" y="134.01" width="4.48" height="7.74" fill="#d5bdff"/>
<rect x="228.22" y="134.01" width="4.48" height="7.74" fill="#ae89fd"/>
<rect x="232.35" y="134.01" width="4.48" height="7.74" fill="#ccb0fe"/>
<rect x="236.48" y="134.01" width="4.48" height="7.74" fill="#ccb0fe"/>
<rect x="240.61" y="134.01" width="4.48" height="7.74" fill="#decaff"/>
<rect x="244.73" y="134.01" width="4.48" height="7.74" fill="#d5bdff"/>
<rect x="248.86" y="134.01" width="4.48" height="7.74" fill="#a37dfc"/>
<rect x="252.99" y="134.01" width="4.48" height="7.74" fill="#d5bdff"/>
<rect x="257.12" y="134.01" width="4.48" height="7.74" fill="#d5bdff"/>
<rect x="261.24" y="134.01" width="4.48" height="7.74" fill="#c2a3fe"/>
<rect x="265.37" y="134.01" width="4.48" height="7.74" fill="#b896fe"/>
<rect x="269.50" y="134.01" width="4.48" height="7.74" fill="#b896fe"/>
<rect x="273.63" y="134.01" width="4.48" height="7.74" fill="#d5bdff"/>
<rect x="277.76" y="134.01" width="4.48" height="7.74" fill="#9770fb"/>
<rect x="281.88" y="134.01" width="4.48" height="7.74" fill="#ae89fd"/>
<rect x="286.01" y="134.01" width="4.48" height="7.74" fill="#9770fb"/>
<rect x="290.14" y="134.01" width="4.48" height="7.74" fill="#c2a3fe"/>
<rect x="294.27" y="134.01" width="4.48" height="7.74" fill="#c2a3fe"/>
<rect x="298.39" y="134.01" width="4.48" height="7.74" fill="#d5bdff"/>
<rect x="302.52" y="134.01" width="4.48" height="7.74" fill="#d5bdff"/>
<rect x="306.65" y="134.01" width="4.48" height="7.74" fill="#d5bdff"/>
<rect x="310.78" y="134.01" width="4.48" height="7.74" fill="#ae89fd"/>
<rect x="314.91" y="134.01" width="4.48" height="7.74" fill="#ae89fd"/>
<rect x="319.03" y="134.01" width="4.48" height="7.74" fill="#b896fe"/>
<rect x="323.16" y="134.01" width="4.48" height="7.74" fill="#ae89fd"/>
<rect x="327.29" y="134.01" width="4.48" height="7.74" fill="#ae89fd"/>
<rect x="331.42" y="134.01" width="4.48" height="7.74" fill="#ae89fd"/>
<rect x="335.54" y="134.01" width="4.48" height="7.74" fill="#9770fb"/>
<rect x="339.67" y="134.01" width="4.48" height="7.74" fill="#c2a3fe"/>
<rect x="343.80" y="134.01" width="4.48" height="7.74" fill="#b896fe"/>
<rect x="347.93" y="134.01" width="4.48" height="7.74" fill="#ccb0fe"/>
<rect x="352.06" y="134.01" width="4.48" height="7.74" fill="#ae89fd"/>
<rect x="356.18" y="134.01" width="4.48" height="7.74" fill="#ccb0fe"/>
<rect x="360.31" y="134.01" width="4.48" height="7.74" fill="#d5bdff"/>
<rect x="364.44" y="134.01" width="4.48" height="7.74" fill="#d5bdff"/>
<rect x="368.57" y="134.01" width="4.48" height="7.74" fill="#d5bdff"/>
<rect x="372.69" y="134.01" width="4.48" height="7.74" fill="#ae89fd"/>
<rect x="376.82" y="134.01" width="4.48" height="7.74" fill="#c2a3fe"/>
<rect x="380.95" y="134.01" width="4.48" height="7.74" fill="#c2a3fe"/>
<rect x="385.08" y="134.01" width="4.48" height="7.74" fill="#b896fe"/>
<rect x="389.21" y="134.01" width="4.48" height="7.74" fill="#c2a3fe"/>
<rect x="393.33" y="134.01" width="4.48" height="7.74" fill="#d5bdff"/>
<rect x="397.46" y="134.01" width="4.48" height="7.74" fill="#d5bdff"/>
<rect x="401.59" y="134.01" width="4.48" height="7.74" fill="#d5bdff"/>
<rect x="405.72" y="134.01" width="4.48" height="7.74" fill="#ccb0fe"/>
<rect x="409.84" y="134.01" width="4.48" height="7.74" fill="#c2a3fe"/>
<rect x="413.97" y="134.01" width="4.48" height="7.74" fill="#b896fe"/>
<rect x="418.10" y="134.01" width="4.48" height="7.74" fill="#ccb0fe"/>
<rect x="422.23" y="134.01" width="4.48" height="7.74" fill="#ccb0fe"/>
<rect x="426.36" y="134.01" width="4.48" height="7.74" fill="#ccb0fe"/>
<rect x="430.48" y="134.01" width="4.48" height="7.74" fill="#e6d7ff"/>
<rect x="434.61" y="134.01" width="4.48" height="7.74" fill="#c2a3fe"/>
<rect x="438.74" y="134.01" width="4.48" height="7.74" fill="#c2a3fe"/>
<rect x="442.87" y="134.01" width="4.48" height="7.74" fill="#ccb0fe"/>
<rect x="446.99" y="134.01" width="4.48" height="7.74" fill="#c2a3fe"/>
<rect x="451.12" y="134.01" width="4.48" height="7.74" fill="#a37dfc"/>
<rect x="455.25" y="134.01" width="4.48" height="7.74" fill="#e6d7ff"/>
<rect x="459.38" y="134.01" width="4.48" height="7.74" fill="#c2a3fe"/>
<rect x="463.51" y="134.01" width="4.48" height="7.74" fill="#c2a3fe"/>
<rect x="467.63" y="134.01" width="4.48" height="7.74" fill="#ae89fd"/>
<rect x="471.76" y="134.01" width="4.48" height="7.74" fill="#ccb0fe"/>
<rect x="475.89" y="134.01" width="4.48" height="7.74" fill="#ccb0fe"/>
<rect x="480.02" y="134.01" width="4.48" height="7.74" fill="#c2a3fe"/>
<rect x="484.14" y="134.01" width="4.48" height="7.74" fill="#c2a3fe"/>
<rect x="488.27" y="134.01" width="4.48" height="7.74" fill="#d5bdff"/>
<rect x="492.40" y="134.01" width="4.48" height="7.74" fill="#a37dfc"/>
<rect x="496.53" y="134.01" width="4.48" height="7.74" fill="#b896fe"/>
<rect x="500.66" y="134.01" width="4.48" height="7.74" fill="#7e56fa"/>
<rect x="504.78" y="134.01" width="4.48" height="7.74" fill="#a37dfc"/>
<rect x="508.91" y="134.01" width="4.48" height="7.74" fill="#a37dfc"/>
<rect x="513.04" y="134.01" width="4.48" height="7.74" fill="#b896fe"/>
<rect x="517.17" y="134.01" width="4.48" height="7.74" fill="#c2a3fe"/>
<rect x="521.29" y="134.01" width="4.48" height="7.74" fill="#7e56fa"/>
<rect x="525.42" y="134.01" width="4.48" height="7.74" fill="#ccb0fe"/>
<rect x="529.55" y="134.01" width="4.48" height="7.74" fill="#ccb0fe"/>
<rect x="533.68" y="134.01" width="4.48" height="7.74" fill="#ae89fd"/>
<rect x="537.81" y="134.01" width="4.48" height="7.74" fill="#ccb0fe"/>
<rect x="541.93" y="134.01" width="4.48" height="7.74" fill="#c2a3fe"/>
<rect x="546.06" y="134.01" width="4.48" height="7.74" fill="#ae89fd"/>
<rect x="550.19" y="134.01" width="4.48" height="7.74" fill="#d5bdff"/>
<rect x="554.32" y="134.01" width="4.48" height="7.74" fill="#ccb0fe"/>
<rect x="558.44" y="134.01" width="4.48" height="7.74" fill="#a37dfc"/>
<rect x="562.57" y="134.01" width="4.48" height="7.74" fill="#a37dfc"/>
<rect x="195.20" y="141.41" width="4.48" height="7.74" fill="#9770fb"/>
<rect x="199.33" y="141.41" width="4.48" height="7.74" fill="#ccb0fe"/>
<rect x="203.46" y="141.41" width="4.48" height="7.74" fill="#9770fb"/>
<rect x="207.58" y="141.41" width="4.48" height="7.74" fill="#d5bdff"/>
<rect x="211.71" y="141.41" width="4.48" height="7.74" fill="#c2a3fe"/>
<rect x="215.84" y="141.41" width="4.48" height="7.74" fill="#c2a3fe"/>
<rect x="219.97" y="141.41" width="4.48" height="7.74" fill="#a37dfc"/>
<rect x="224.09" y="141.41" width="4.48" height="7.74" fill="#decaff"/>
<rect x="228.22" y="141.41" width="4.48" height="7.74" fill="#ae89fd"/>
<rect x="232.35" y="141.41" width="4.48" height="7.74" fill="#ccb0fe"/>
<rect x="236.48" y="141.41" width="4.48" height="7.74" fill="#ccb0fe"/>
<rect x="240.61" y="141.41" width="4.48" height="7.74" fill="#decaff"/>
<rect x="244.73" y="141.41" width="4.48" height="7.74" fill="#d5bdff"/>
<rect x="248.86" y="141.41" width="4.48" height="7.74" fill="#a37dfc"/>
<rect x="252.99" y="141.41" width="4.48" height="7.74" fill="#d5bdff"/>
<rect x="257.12" y="141.41" width="4.48" height="7.74" fill="#d5bdff"/>
<rect x="261.24" y="141.41" width="4.48" height="7.74" fill="#ccb0fe"/>
<rect x="265.37" y="141.41" width="4.48" height="7.74" fill="#b896fe"/>
<rect x="269.50" y="141.41" width="4.48" height="7.74" fill="#b896fe"/>
<rect x="273.63" y="141.41" width="4.48" height="7.74" fill="#d5bdff"/>
<rect x="277.76" y="141.41" width="4.48" height="7.74" fill="#9770fb"/>
<rect x="281.88" y="141.41" width="4.48" height="7.74" fill="#ae89fd"/>
<rect x="286.01" y="141.41" width="4.48" height="7.74" fill="#9770fb"/>
<rect x="290.14" y="141.41" width="4.48" height="7.74" fill="#c2a3fe"/>
<rect x="294.27" y="141.41" width="4.48" height="7.74" fill="#c2a3fe"/>
<rect x="298.39" y="141.41" width="4.48" height="7.74" fill="#d5bdff"/>
<rect x="302.52" y="141.41" width="4.48" height="7.74" fill="#d5bdff"/>
<rect x="306.65" y="141.41" width="4.48" height="7.74" fill="#d5bdff"/>
<rect x="310.78" y="141.41" width="4.48" height="7.74" fill="#ae89fd"/>
<rect x="314.91" y="141.41" width="4.48" height="7.74" fill="#ae89fd"/>
<rect x="319.03" y="141.41" width="4.48" height="7.74" fill="#b896fe"/>
<rect x="323.16" y="141.41" width="4.48" height="7.74" fill="#ae89fd"/>
<rect x="327.29" y="141.41" width="4.48" height="7.74" fill="#ae89fd"/>
<rect x="331.42" y="141.41" width="4.48" height="7.74" fill="#b896fe"/>
<rect x="335.54" y="141.41" width="4.48" height="7.74" fill="#9770fb"/>
<rect x="339.67" y="141.41" width="4.48" height="7.74" fill="#c2a3fe"/>
<rect x="343.80" y="141.41" width="4.48" height="7.74" fill="#b896fe"/>
<rect x="347.93" y="141.41" width="4.48" height="7.74" fill="#ccb0fe"/>
<rect x="352.06" y="141.41" width="4.48" height="7.74" fill="#ae89fd"/>
<rect x="356.18" y="141.41" width="4.48" height="7.74" fill="#ccb0fe"/>
<rect x="360.31" y="141.41" width="4.48" height="7.74" fill="#d5bdff"/>
<rect x="364.44" y="141.41" width="4.48" height="7.74" fill="#d5bdff"/>
<rect x="368.57" y="141.41" width="4.48" height="7.74" fill="#d5bdff"/>
<rect x="372.69" y="141.41" width="4.48" height="7.74" fill="#ae89fd"/>
<rect x="376.82" y="141.41" width="4.48" height="7.74" fill="#9770fb"/>
<rect x="380.95" y="141.41" width="4.48" height="7.74" fill="#c2a3fe"/>
<rect x="385.08" y="141.41" width="4.48" height="7.74" fill="#a37dfc"/>
<rect x="389.21" y="141.41" width="4.48" height="7.74" fill="#c2a3fe"/>
<rect x="393.33" y="141.41" width="4.48" height="7.74" fill="#d5bdff"/>
<rect x="397.46" y="141.41" width="4.48" height="7.74" fill="#d5bdff"/>
<rect x="401.59" y="141.41" width="4.48" height="7.74" fill="#decaff"/>
<rect x="405.72" y="141.41" width="4.48" height="7.74" fill="#ccb0fe"/>
<rect x="409.84" y="141.41" width="4.48" height="7.74" fill="#c2a3fe"/>
<rect x="413.97" y="141.41" width="4.48" height="7.74" fill="#b896fe"/>
<rect x="418.10" y="141.41" width="4.48" height="7.74" fill="#ccb0fe"/>
<rect x="422.23" y="141.41" width="4.48" height="7.74" fill="#ccb0fe"/>
<rect x="426.36" y="141.41" width="4.48" height="7.74" fill="#ccb0fe"/>
<rect x="430.48" y="141.41" width="4.48" height="7.74" fill="#e6d7ff"/>
<rect x="434.61" y="141.41" width="4.48" height="7.74" fill="#c2a3fe"/>
<rect x="438.74" y="141.41" width="4.48" height="7.74" fill="#c2a3fe"/>
<rect x="442.87" y="141.41" width="4.48" height="7.74" fill="#ccb0fe"/>
<rect x="446.99" y="141.41" width="4.48" height="7.74" fill="#c2a3fe"/>
<rect x="451.12" y="141.41" width="4.48" height="7.74" fill="#a37dfc"/>
<rect x="455.25" y="141.41" width="4.48" height="7.74" fill="#ae89fd"/>
<rect x="459.38" y="141.41" width="4.48" height="7.74" fill="#c2a3fe"/>
<rect x="463.51" y="141.41" width="4.48" height="7.74" fill="#c2a3fe"/>
<rect x="467.63" y="141.41" width="4.48" height="7.74" fill="#ae89fd"/>
<rect x="471.76" y="141.41" width="4.48" height="7.74" fill="#ccb0fe"/>
<rect x="475.89" y="141.41" width="4.48" height="7.74" fill="#ccb0fe"/>
<rect x="480.02" y="141.41" width="4.48" height="7.74" fill="#c2a3fe"/>
<rect x="484.14" y="141.41" width="4.48" height="7.74" fill="#c2a3fe"/>
<rect x="488.27" y="141.41" width="4.48" height="7.74" fill="#d5bdff"/>
<rect x="492.40" y="141.41" width="4.48" height="7.74" fill="#a37dfc"/>
<rect x="496.53" y="141.41" width="4.48" height="7.74" fill="#b896fe"/>
<rect x="500.66" y="141.41" width="4.48" height="7.74" fill="#7e56fa"/>
<rect x="504.78" y="141.41" width="4.48" height="7.74" fill="#a37dfc"/>
<rect x="508.91" y="141.41" width="4.48" height="7.74" fill="#a37dfc"/>
<rect x="513.04" y="141.41" width="4.48" height="7.74" fill="#a37dfc"/>
<rect x="517.17" y="141.41" width="4.48" height="7.74" fill="#b896fe"/>
<rect x="521.29" y="141.41" width="4.48" height="7.74" fill="#9770fb"/>
<rect x="525.42" y="141.41" width="4.48" height="7.74" fill="#ccb0fe"/>
<rect x="529.55" y="141.41" width="4.48" height="7.74" fill="#ccb0fe"/>
<rect x="533.68" y="141.41" width="4.48" height="7.74" fill="#ae89fd"/>
<rect x="537.81" y="141.41" width="4.48" height="7.74" fill="#ccb0fe"/>
<rect x="541.93" y="141.41" width="4.48" height="7.74" fill="#c2a3fe"/>
<rect x="546.06" y="141.41" width="4.48" height="7.74" fill="#b896fe"/>
<rect x="550.19" y="141.41" width="4.48" height="7.74" fill="#d5bdff"/>
<rect x="554.32" y="141.41" width="4.48" height="7.74" fill="#ccb0fe"/>
<rect x="558.44" y="141.41" width="4.48" height="7.74" fill="#a37dfc"/>
<rect x="562.57" y="141.41" width="4.48" height="7.74" fill="#a37dfc"/>
</g>
<text x="193.30" y="36.30" font-size="6.1" text-anchor="end" fill="#000" >cancer5</text>
<text x="193.30" y="43.69" font-size="6.1" text-anchor="end" fill="#000" >cancer4</text>
<text x="193.30" y="51.08" font-size="6.1" text-anchor="end" fill="#000" >cancer7</text>
<text x="193.30" y="58.48" font-size="6.1" text-anchor="end" fill="#000" >cancer6</text>
<text x="193.30" y="65.87" font-size="6.1" text-anchor="end" fill="#000" >cancer3</text>
<text x="193.30" y="73.27" font-size="6.1" text-anchor="end" fill="#000" >cancer2</text>
<text x="193.30" y="80.66" font-size="6.1" text-anchor="end" fill="#000" >cancer9</text>
<text x="193.30" y="88.05" font-size="6.1" text-anchor="end" fill="#000" >cancer8</text>
<text x="193.30" y="95.45" font-size="6.1" text-anchor="end" fill="#000" >cancer1</text>
<text x="193.30" y="102.84" font-size="6.1" text-anchor="end" fill="#000" >control2</text>
<text x="193.30" y="110.23" font-size="6.1" text-anchor="end" fill="#000" >control3</text>
<text x="193.30" y="117.63" font-size="6.1" text-anchor="end" fill="#000" >control4</text>
<text x="193.30" y="125.02" font-size="6.1" text-anchor="end" fill="#000" >control5</text>
<text x="193.30" y="132.42" font-size="6.1" text-anchor="end" fill="#000" >control1</text>
<text x="193.30" y="139.81" font-size="6.1" text-anchor="end" fill="#000" >control7</text>
<text x="193.30" y="147.20" font-size="6.1" text-anchor="end" fill="#000" >control6</text>
<rect x="569.3" y="30.50" width="4.6" height="66.54" fill="#f1b9cb"/>
<rect x="569.3" y="97.04" width="4.6" height="51.76" fill="#8fd3f0"/>
<path d="M214.81,21.46V20.30H252.99V23.31 M200.88,22.21V21.46H228.74V22.12 M197.26,30.60V22.21H204.49V24.18 M201.39,30.60V24.18H207.58V24.43 M205.52,30.60V24.43H209.65V30.60 M218.93,22.99V22.12H238.54V24.10 M215.84,23.96V22.99H222.03V30.60 M213.77,30.60V23.96H217.90V30.60 M232.35,24.10V24.10H244.73V25.29 M228.22,25.74V24.10H236.48V24.81 M226.16,30.60V25.74H230.29V30.60 M234.41,30.60V24.81H238.54V30.60 M242.67,30.60V25.29H246.80V30.60 M250.93,30.60V23.31H255.05V30.60 M259.18,30.60V16.60H277.24V18.28 M267.95,18.81V18.28H286.53V19.88 M263.31,30.60V18.81H272.60V22.02 M269.50,26.02V22.02H275.69V30.60 M267.44,30.60V26.02H271.56V30.60 M281.88,22.25V19.88H291.17V21.12 M279.82,30.60V22.25H283.95V30.60 M288.07,30.60V21.12H294.27V24.76 M292.20,30.60V24.76H296.33V30.60 M233.90,20.30V12.30H268.21V16.60 M300.46,30.60V21.40H306.65V24.82 M304.59,30.60V24.82H308.71V30.60 M319.55,21.48V20.40H348.57V22.06 M314.91,24.79V21.48H324.19V23.10 M312.84,30.60V24.79H316.97V30.60 M321.10,30.60V23.10H327.29V23.55 M325.23,30.60V23.55H329.35V30.60 M335.54,25.29V22.06H361.61V22.95 M333.48,30.60V25.29H337.61V30.60 M344.83,23.56V22.95H378.38V22.95 M341.74,30.60V23.56H347.93V24.97 M345.86,30.60V24.97H349.99V30.60 M356.18,23.84V22.95H400.57V22.95 M354.12,30.60V23.84H358.25V30.60 M371.15,23.78V22.95H430.00V23.28 M365.47,25.76V23.78H376.82V24.96 M362.38,30.60V25.76H368.57V27.28 M366.50,30.60V27.28H370.63V30.60 M374.76,30.60V24.96H378.89V30.60 M413.00,24.09V23.28H446.99V23.54 M401.33,24.09V24.09H424.68V24.77 M390.75,25.29V24.09H411.91V30.60 M385.08,25.44V25.29H396.43V26.28 M383.01,30.60V25.44H387.14V30.60 M391.27,30.60V26.28H401.59V26.66 M397.46,27.23V26.66H405.72V27.50 M395.40,30.60V27.23H399.52V30.60 M403.65,30.60V27.50H407.78V30.60 M416.04,30.60V24.77H433.32V24.91 M427.90,25.07V24.91H438.74V27.40 M423.26,25.26V25.07H432.55V30.60 M420.16,30.60V25.26H426.36V26.92 M424.29,30.60V26.92H428.42V30.60 M436.68,30.60V27.40H440.80V30.60 M444.93,30.60V23.54H449.06V30.60 M470.21,22.34V22.00H482.08V30.60 M462.47,22.84V22.34H477.95V30.60 M457.31,30.60V22.84H467.63V23.60 M463.51,23.64V23.60H471.76V24.70 M461.44,30.60V23.64H465.57V30.60 M469.70,30.60V24.70H473.83V30.60 M453.19,30.60V20.90H476.15V22.00 M492.40,22.68V20.50H525.10V22.32 M488.27,22.68V22.68H496.53V24.16 M486.21,30.60V22.68H490.34V30.60 M494.46,30.60V24.16H498.59V30.60 M511.49,22.32V22.32H538.71V23.20 M505.82,23.03V22.32H517.17V23.78 M502.72,30.60V23.03H508.91V24.85 M506.85,30.60V24.85H510.98V30.60 M515.10,30.60V23.78H519.23V30.60 M526.45,23.55V23.20H550.96V23.90 M523.36,30.60V23.55H529.55V25.27 M527.49,30.60V25.27H531.61V30.60 M543.48,25.16V23.90H558.44V24.80 M538.84,25.62V25.16H548.12V30.60 M535.74,30.60V25.62H541.93V27.65 M539.87,30.60V27.65H544.00V30.60 M554.32,25.86V24.80H562.57V25.47 M552.25,30.60V25.86H556.38V30.60 M560.51,30.60V25.47H564.64V30.60 M464.67,20.90V19.10H508.75V20.50 M334.06,20.40V17.90H486.71V19.10 M303.55,21.40V16.30H410.39V17.90 M251.05,12.30V11.90H356.97V16.30" fill="none" stroke="#222" stroke-width="0.55"/>
<path d="M574.30,34.20H577.80V41.59H574.30 M574.30,48.98H577.80V56.38H574.30 M577.80,37.89H585.00V52.68H577.80 M585.00,45.29H585.60V63.77H574.30 M574.30,78.56H576.40V85.95H574.30 M574.30,71.17H581.40V82.26H576.40 M574.30,100.74H576.40V108.13H574.30 M574.30,115.53H576.40V122.92H574.30 M576.40,104.44H578.60V119.23H576.40 M574.30,130.32H576.00V137.71H574.30 M576.00,134.01H577.00V145.10H574.30 M578.60,111.83H579.70V139.56H577.00 M574.30,93.35H582.40V125.69H579.70 M581.40,76.71H582.70V109.52H582.40 M585.60,54.53H592.30V93.12H582.70" fill="none" stroke="#222" stroke-width="0.55"/>
<text x="195.36" y="150.4" font-size="5.3" fill="#5a5a5a" text-anchor="start" transform="rotate(90 195.36 150.4)">TPM1</text>
<text x="199.49" y="150.4" font-size="5.3" fill="#5a5a5a" text-anchor="start" transform="rotate(90 199.49 150.4)">PXN</text>
<text x="203.62" y="150.4" font-size="5.3" fill="#5a5a5a" text-anchor="start" transform="rotate(90 203.62 150.4)">H2AC6</text>
<text x="207.75" y="150.4" font-size="5.3" fill="#5a5a5a" text-anchor="start" transform="rotate(90 207.75 150.4)">MYO1B</text>
<text x="211.87" y="150.4" font-size="5.3" fill="#5a5a5a" text-anchor="start" transform="rotate(90 211.87 150.4)">CALD1</text>
<text x="216.00" y="150.4" font-size="5.3" fill="#5a5a5a" text-anchor="start" transform="rotate(90 216.00 150.4)">AC004540.1</text>
<text x="220.13" y="150.4" font-size="5.3" fill="#5a5a5a" text-anchor="start" transform="rotate(90 220.13 150.4)">S100A2</text>
<text x="224.26" y="150.4" font-size="5.3" fill="#5a5a5a" text-anchor="start" transform="rotate(90 224.26 150.4)">SFN</text>
<text x="228.39" y="150.4" font-size="5.3" fill="#5a5a5a" text-anchor="start" transform="rotate(90 228.39 150.4)">VCL</text>
<text x="232.51" y="150.4" font-size="5.3" fill="#5a5a5a" text-anchor="start" transform="rotate(90 232.51 150.4)">CALD1</text>
<text x="236.64" y="150.4" font-size="5.3" fill="#5a5a5a" text-anchor="start" transform="rotate(90 236.64 150.4)">ITGA3</text>
<text x="240.77" y="150.4" font-size="5.3" fill="#5a5a5a" text-anchor="start" transform="rotate(90 240.77 150.4)">CXCL8</text>
<text x="244.90" y="150.4" font-size="5.3" fill="#5a5a5a" text-anchor="start" transform="rotate(90 244.90 150.4)">MMP10</text>
<text x="249.03" y="150.4" font-size="5.3" fill="#5a5a5a" text-anchor="start" transform="rotate(90 249.03 150.4)">HMGB2</text>
<text x="253.15" y="150.4" font-size="5.3" fill="#5a5a5a" text-anchor="start" transform="rotate(90 253.15 150.4)">DSG3</text>
<text x="257.28" y="150.4" font-size="5.3" fill="#5a5a5a" text-anchor="start" transform="rotate(90 257.28 150.4)">VCL</text>
<text x="261.41" y="150.4" font-size="5.3" fill="#5a5a5a" text-anchor="start" transform="rotate(90 261.41 150.4)">SMARCA4</text>
<text x="265.54" y="150.4" font-size="5.3" fill="#5a5a5a" text-anchor="start" transform="rotate(90 265.54 150.4)">LINC00941</text>
<text x="269.66" y="150.4" font-size="5.3" fill="#5a5a5a" text-anchor="start" transform="rotate(90 269.66 150.4)">PLAU</text>
<text x="273.79" y="150.4" font-size="5.3" fill="#5a5a5a" text-anchor="start" transform="rotate(90 273.79 150.4)">SNHG12</text>
<text x="277.92" y="150.4" font-size="5.3" fill="#5a5a5a" text-anchor="start" transform="rotate(90 277.92 150.4)">VCL</text>
<text x="282.05" y="150.4" font-size="5.3" fill="#5a5a5a" text-anchor="start" transform="rotate(90 282.05 150.4)">KRT17</text>
<text x="286.18" y="150.4" font-size="5.3" fill="#5a5a5a" text-anchor="start" transform="rotate(90 286.18 150.4)">FLNA</text>
<text x="290.30" y="150.4" font-size="5.3" fill="#5a5a5a" text-anchor="start" transform="rotate(90 290.30 150.4)">PTK2</text>
<text x="294.43" y="150.4" font-size="5.3" fill="#5a5a5a" text-anchor="start" transform="rotate(90 294.43 150.4)">ZYX</text>
<text x="298.56" y="150.4" font-size="5.3" fill="#5a5a5a" text-anchor="start" transform="rotate(90 298.56 150.4)">FN1</text>
<text x="302.69" y="150.4" font-size="5.3" fill="#5a5a5a" text-anchor="start" transform="rotate(90 302.69 150.4)">SMARCA4</text>
<text x="306.81" y="150.4" font-size="5.3" fill="#5a5a5a" text-anchor="start" transform="rotate(90 306.81 150.4)">CXCL8</text>
<text x="310.94" y="150.4" font-size="5.3" fill="#5a5a5a" text-anchor="start" transform="rotate(90 310.94 150.4)">SERPINE1</text>
<text x="315.07" y="150.4" font-size="5.3" fill="#5a5a5a" text-anchor="start" transform="rotate(90 315.07 150.4)">ANXA8</text>
<text x="319.20" y="150.4" font-size="5.3" fill="#5a5a5a" text-anchor="start" transform="rotate(90 319.20 150.4)">TPM1</text>
<text x="323.33" y="150.4" font-size="5.3" fill="#5a5a5a" text-anchor="start" transform="rotate(90 323.33 150.4)">TPM1</text>
<text x="327.45" y="150.4" font-size="5.3" fill="#5a5a5a" text-anchor="start" transform="rotate(90 327.45 150.4)">KRT6B</text>
<text x="331.58" y="150.4" font-size="5.3" fill="#5a5a5a" text-anchor="start" transform="rotate(90 331.58 150.4)">ANXA8</text>
<text x="335.71" y="150.4" font-size="5.3" fill="#5a5a5a" text-anchor="start" transform="rotate(90 335.71 150.4)">ANXA8</text>
<text x="339.84" y="150.4" font-size="5.3" fill="#5a5a5a" text-anchor="start" transform="rotate(90 339.84 150.4)">KRT17</text>
<text x="343.96" y="150.4" font-size="5.3" fill="#5a5a5a" text-anchor="start" transform="rotate(90 343.96 150.4)">KRT17</text>
<text x="348.09" y="150.4" font-size="5.3" fill="#5a5a5a" text-anchor="start" transform="rotate(90 348.09 150.4)">FLNA</text>
<text x="352.22" y="150.4" font-size="5.3" fill="#5a5a5a" text-anchor="start" transform="rotate(90 352.22 150.4)">FLNA</text>
<text x="356.35" y="150.4" font-size="5.3" fill="#5a5a5a" text-anchor="start" transform="rotate(90 356.35 150.4)">CXCL8</text>
<text x="360.48" y="150.4" font-size="5.3" fill="#5a5a5a" text-anchor="start" transform="rotate(90 360.48 150.4)">CXCL8</text>
<text x="364.60" y="150.4" font-size="5.3" fill="#5a5a5a" text-anchor="start" transform="rotate(90 364.60 150.4)">CAV1</text>
<text x="368.73" y="150.4" font-size="5.3" fill="#5a5a5a" text-anchor="start" transform="rotate(90 368.73 150.4)">H2BC12</text>
<text x="372.86" y="150.4" font-size="5.3" fill="#5a5a5a" text-anchor="start" transform="rotate(90 372.86 150.4)">ACTN1</text>
<text x="376.99" y="150.4" font-size="5.3" fill="#5a5a5a" text-anchor="start" transform="rotate(90 376.99 150.4)">LINC00941</text>
<text x="381.11" y="150.4" font-size="5.3" fill="#5a5a5a" text-anchor="start" transform="rotate(90 381.11 150.4)">CAPG</text>
<text x="385.24" y="150.4" font-size="5.3" fill="#5a5a5a" text-anchor="start" transform="rotate(90 385.24 150.4)">ANO1</text>
<text x="389.37" y="150.4" font-size="5.3" fill="#5a5a5a" text-anchor="start" transform="rotate(90 389.37 150.4)">FLNA</text>
<text x="393.50" y="150.4" font-size="5.3" fill="#5a5a5a" text-anchor="start" transform="rotate(90 393.50 150.4)">FN1</text>
<text x="397.62" y="150.4" font-size="5.3" fill="#5a5a5a" text-anchor="start" transform="rotate(90 397.62 150.4)">MYO1B</text>
<text x="401.75" y="150.4" font-size="5.3" fill="#5a5a5a" text-anchor="start" transform="rotate(90 401.75 150.4)">ACTN1</text>
<text x="405.88" y="150.4" font-size="5.3" fill="#5a5a5a" text-anchor="start" transform="rotate(90 405.88 150.4)">SMARCA4</text>
<text x="410.01" y="150.4" font-size="5.3" fill="#5a5a5a" text-anchor="start" transform="rotate(90 410.01 150.4)">LAMC2</text>
<text x="414.14" y="150.4" font-size="5.3" fill="#5a5a5a" text-anchor="start" transform="rotate(90 414.14 150.4)">S100A2</text>
<text x="418.26" y="150.4" font-size="5.3" fill="#5a5a5a" text-anchor="start" transform="rotate(90 418.26 150.4)">HMGB2</text>
<text x="422.39" y="150.4" font-size="5.3" fill="#5a5a5a" text-anchor="start" transform="rotate(90 422.39 150.4)">PTK2</text>
<text x="426.52" y="150.4" font-size="5.3" fill="#5a5a5a" text-anchor="start" transform="rotate(90 426.52 150.4)">CXCL8</text>
<text x="430.65" y="150.4" font-size="5.3" fill="#5a5a5a" text-anchor="start" transform="rotate(90 430.65 150.4)">TNC</text>
<text x="434.78" y="150.4" font-size="5.3" fill="#5a5a5a" text-anchor="start" transform="rotate(90 434.78 150.4)">PXN</text>
<text x="438.90" y="150.4" font-size="5.3" fill="#5a5a5a" text-anchor="start" transform="rotate(90 438.90 150.4)">SERPINE1</text>
<text x="443.03" y="150.4" font-size="5.3" fill="#5a5a5a" text-anchor="start" transform="rotate(90 443.03 150.4)">H1-2</text>
<text x="447.16" y="150.4" font-size="5.3" fill="#5a5a5a" text-anchor="start" transform="rotate(90 447.16 150.4)">LAMC2</text>
<text x="451.29" y="150.4" font-size="5.3" fill="#5a5a5a" text-anchor="start" transform="rotate(90 451.29 150.4)">EMP3</text>
<text x="455.41" y="150.4" font-size="5.3" fill="#5a5a5a" text-anchor="start" transform="rotate(90 455.41 150.4)">CDKN2A</text>
<text x="459.54" y="150.4" font-size="5.3" fill="#5a5a5a" text-anchor="start" transform="rotate(90 459.54 150.4)">KRT17</text>
<text x="463.67" y="150.4" font-size="5.3" fill="#5a5a5a" text-anchor="start" transform="rotate(90 463.67 150.4)">EMP3</text>
<text x="467.80" y="150.4" font-size="5.3" fill="#5a5a5a" text-anchor="start" transform="rotate(90 467.80 150.4)">CAPG</text>
<text x="471.93" y="150.4" font-size="5.3" fill="#5a5a5a" text-anchor="start" transform="rotate(90 471.93 150.4)">H1-2</text>
<text x="476.05" y="150.4" font-size="5.3" fill="#5a5a5a" text-anchor="start" transform="rotate(90 476.05 150.4)">SERPINE1</text>
<text x="480.18" y="150.4" font-size="5.3" fill="#5a5a5a" text-anchor="start" transform="rotate(90 480.18 150.4)">LAMC2</text>
<text x="484.31" y="150.4" font-size="5.3" fill="#5a5a5a" text-anchor="start" transform="rotate(90 484.31 150.4)">H2AC6</text>
<text x="488.44" y="150.4" font-size="5.3" fill="#5a5a5a" text-anchor="start" transform="rotate(90 488.44 150.4)">LAMC2</text>
<text x="492.56" y="150.4" font-size="5.3" fill="#5a5a5a" text-anchor="start" transform="rotate(90 492.56 150.4)">DSG3</text>
<text x="496.69" y="150.4" font-size="5.3" fill="#5a5a5a" text-anchor="start" transform="rotate(90 496.69 150.4)">MYO1B</text>
<text x="500.82" y="150.4" font-size="5.3" fill="#5a5a5a" text-anchor="start" transform="rotate(90 500.82 150.4)">H2BC12</text>
<text x="504.95" y="150.4" font-size="5.3" fill="#5a5a5a" text-anchor="start" transform="rotate(90 504.95 150.4)">FN1</text>
<text x="509.08" y="150.4" font-size="5.3" fill="#5a5a5a" text-anchor="start" transform="rotate(90 509.08 150.4)">DSG3</text>
<text x="513.20" y="150.4" font-size="5.3" fill="#5a5a5a" text-anchor="start" transform="rotate(90 513.20 150.4)">DSG3</text>
<text x="517.33" y="150.4" font-size="5.3" fill="#5a5a5a" text-anchor="start" transform="rotate(90 517.33 150.4)">FN1</text>
<text x="521.46" y="150.4" font-size="5.3" fill="#5a5a5a" text-anchor="start" transform="rotate(90 521.46 150.4)">ITGA3</text>
<text x="525.59" y="150.4" font-size="5.3" fill="#5a5a5a" text-anchor="start" transform="rotate(90 525.59 150.4)">PXN</text>
<text x="529.71" y="150.4" font-size="5.3" fill="#5a5a5a" text-anchor="start" transform="rotate(90 529.71 150.4)">S100A2</text>
<text x="533.84" y="150.4" font-size="5.3" fill="#5a5a5a" text-anchor="start" transform="rotate(90 533.84 150.4)">H2AC6</text>
<text x="537.97" y="150.4" font-size="5.3" fill="#5a5a5a" text-anchor="start" transform="rotate(90 537.97 150.4)">CTNNB1</text>
<text x="542.10" y="150.4" font-size="5.3" fill="#5a5a5a" text-anchor="start" transform="rotate(90 542.10 150.4)">S100A2</text>
<text x="546.23" y="150.4" font-size="5.3" fill="#5a5a5a" text-anchor="start" transform="rotate(90 546.23 150.4)">MIR31HG</text>
<text x="550.35" y="150.4" font-size="5.3" fill="#5a5a5a" text-anchor="start" transform="rotate(90 550.35 150.4)">PTK2</text>
<text x="554.48" y="150.4" font-size="5.3" fill="#5a5a5a" text-anchor="start" transform="rotate(90 554.48 150.4)">HMGB2</text>
<text x="558.61" y="150.4" font-size="5.3" fill="#5a5a5a" text-anchor="start" transform="rotate(90 558.61 150.4)">SMARCA4</text>
<text x="562.74" y="150.4" font-size="5.3" fill="#5a5a5a" text-anchor="start" transform="rotate(90 562.74 150.4)">CDKN2A</text>
<text x="606.00" y="66.20" font-size="7" text-anchor="start" fill="#000" >Sample</text>
<rect x="606.2" y="69.8" width="5.8" height="6.4" fill="#f1b9cb"/>
<rect x="606.2" y="76.6" width="5.8" height="6.6" fill="#8fd3f0"/>
<text x="615.00" y="75.60" font-size="7" text-anchor="start" fill="#000" >cancer</text>
<text x="615.00" y="82.60" font-size="7" text-anchor="start" fill="#000" >control</text>
<text x="606.00" y="96.80" font-size="7" text-anchor="start" fill="#000" >Scaled Expr.</text>
<defs><linearGradient id="hmg" x1="0" y1="0" x2="0" y2="1">
<stop offset="0.000" stop-color="#ff1e0e"/>
<stop offset="0.050" stop-color="#ff2b16"/>
<stop offset="0.100" stop-color="#fc4b2d"/>
<stop offset="0.150" stop-color="#f96242"/>
<stop offset="0.200" stop-color="#f47556"/>
<stop offset="0.250" stop-color="#ef866a"/>
<stop offset="0.300" stop-color="#f19c84"/>
<stop offset="0.350" stop-color="#f7b4a2"/>
<stop offset="0.400" stop-color="#fccdc0"/>
<stop offset="0.450" stop-color="#ffe6df"/>
<stop offset="0.500" stop-color="#ffffff"/>
<stop offset="0.550" stop-color="#efe4ff"/>
<stop offset="0.600" stop-color="#decaff"/>
<stop offset="0.650" stop-color="#ccb0fe"/>
<stop offset="0.700" stop-color="#b896fe"/>
<stop offset="0.750" stop-color="#a37dfc"/>
<stop offset="0.800" stop-color="#8b63fb"/>
<stop offset="0.850" stop-color="#6f49f9"/>
<stop offset="0.900" stop-color="#492df7"/>
<stop offset="0.950" stop-color="#1414f5"/>
<stop offset="1.000" stop-color="#1414f5"/>
</linearGradient></defs>
<rect x="606.2" y="99.5" width="4.3" height="40.5" fill="url(#hmg)"/>
<text x="611.40" y="103.90" font-size="7.6" text-anchor="start" fill="#000" >2</text>
<line x1="606.2" y1="101.2" x2="607.2" y2="101.2" stroke="#fff" stroke-width="0.4"/><line x1="609.5" y1="101.2" x2="610.5" y2="101.2" stroke="#fff" stroke-width="0.4"/>
<text x="611.40" y="113.30" font-size="7.6" text-anchor="start" fill="#000" >1</text>
<line x1="606.2" y1="110.6" x2="607.2" y2="110.6" stroke="#fff" stroke-width="0.4"/><line x1="609.5" y1="110.6" x2="610.5" y2="110.6" stroke="#fff" stroke-width="0.4"/>
<text x="611.40" y="122.50" font-size="7.6" text-anchor="start" fill="#000" >0</text>
<line x1="606.2" y1="119.8" x2="607.2" y2="119.8" stroke="#fff" stroke-width="0.4"/><line x1="609.5" y1="119.8" x2="610.5" y2="119.8" stroke="#fff" stroke-width="0.4"/>
<text x="611.40" y="131.50" font-size="7.6" text-anchor="start" fill="#000" >−1</text>
<line x1="606.2" y1="128.8" x2="607.2" y2="128.8" stroke="#fff" stroke-width="0.4"/><line x1="609.5" y1="128.8" x2="610.5" y2="128.8" stroke="#fff" stroke-width="0.4"/>
<text x="611.40" y="141.50" font-size="7.6" text-anchor="start" fill="#000" >−2</text>
<line x1="606.2" y1="138.8" x2="607.2" y2="138.8" stroke="#fff" stroke-width="0.4"/><line x1="609.5" y1="138.8" x2="610.5" y2="138.8" stroke="#fff" stroke-width="0.4"/>
<line x1="147.50" y1="217.5" x2="147.50" y2="296.5" stroke="#e3e3e3" stroke-width="0.6"/>
<line x1="204.50" y1="217.5" x2="204.50" y2="296.5" stroke="#e3e3e3" stroke-width="0.6"/>
<line x1="261.50" y1="217.5" x2="261.50" y2="296.5" stroke="#e3e3e3" stroke-width="0.6"/>
<rect x="147.50" y="221.20" width="146.20" height="6.6" fill="#e9957c"/>
<text x="145.40" y="227.60" font-size="8.8" text-anchor="end" fill="#1a1a1a" >focal adhesion</text>
<rect x="147.50" y="230.64" width="143.20" height="6.6" fill="#e9957c"/>
<text x="145.40" y="237.04" font-size="8.8" text-anchor="end" fill="#1a1a1a" >cell−substrate junction</text>
<rect x="147.50" y="240.08" width="96.00" height="6.6" fill="#e9957c"/>
<text x="145.40" y="246.48" font-size="8.8" text-anchor="end" fill="#1a1a1a" >structural constituent of chromatin</text>
<rect x="147.50" y="249.52" width="61.90" height="6.6" fill="#e9957c"/>
<text x="145.40" y="255.92" font-size="8.8" text-anchor="end" fill="#1a1a1a" >actin binding</text>
<rect x="147.50" y="258.96" width="58.90" height="6.6" fill="#e9957c"/>
<text x="145.40" y="265.36" font-size="8.8" text-anchor="end" fill="#1a1a1a" >chromatin organization</text>
<rect x="147.50" y="268.40" width="57.70" height="6.6" fill="#e9957c"/>
<text x="145.40" y="274.80" font-size="8.8" text-anchor="end" fill="#1a1a1a" >chromatin remodeling</text>
<rect x="147.50" y="277.84" width="46.00" height="6.6" fill="#e9957c"/>
<text x="145.40" y="284.24" font-size="8.8" text-anchor="end" fill="#1a1a1a" >cell morphogenesis</text>
<rect x="147.50" y="287.28" width="42.50" height="6.6" fill="#e9957c"/>
<text x="145.40" y="293.68" font-size="8.8" text-anchor="end" fill="#1a1a1a" >Viral carcinogenesis</text>
<text x="147.50" y="307.00" font-size="9.8" text-anchor="middle" fill="#333" >0</text>
<text x="204.50" y="307.00" font-size="9.8" text-anchor="middle" fill="#333" >10</text>
<text x="261.50" y="307.00" font-size="9.8" text-anchor="middle" fill="#333" >20</text>
<text x="155.50" y="211.40" font-size="10" text-anchor="middle" font-weight="bold" fill="#000" >Co-Up regulation genes</text>
<text x="209.20" y="321.60" font-size="10.2" text-anchor="middle" font-weight="bold" fill="#000" >−log10(P−value)</text>
<line x1="509.00" y1="215.5" x2="509.00" y2="277.5" stroke="#e3e3e3" stroke-width="0.6"/>
<line x1="544.70" y1="215.5" x2="544.70" y2="277.5" stroke="#e3e3e3" stroke-width="0.6"/>
<line x1="580.40" y1="215.5" x2="580.40" y2="277.5" stroke="#e3e3e3" stroke-width="0.6"/>
<line x1="616.10" y1="215.5" x2="616.10" y2="277.5" stroke="#e3e3e3" stroke-width="0.6"/>
<rect x="509.00" y="219.40" width="124.20" height="10.2" fill="#6cc9d7"/>
<text x="507.00" y="227.70" font-size="9.1" text-anchor="end" fill="#1a1a1a" >negative regulation of response to wounding</text>
<rect x="509.00" y="234.40" width="96.40" height="10.2" fill="#6cc9d7"/>
<text x="507.00" y="242.70" font-size="9.1" text-anchor="end" fill="#1a1a1a" >negative regulation of cell migration</text>
<rect x="509.00" y="249.00" width="94.00" height="10.2" fill="#6cc9d7"/>
<text x="507.00" y="257.30" font-size="9.1" text-anchor="end" fill="#1a1a1a" >negative regulation of cell motility</text>
<rect x="509.00" y="263.70" width="92.00" height="10.2" fill="#6cc9d7"/>
<text x="507.00" y="272.00" font-size="9.1" text-anchor="end" fill="#1a1a1a" >negative regulation of locomotion</text>
<text x="509.00" y="288.30" font-size="10.2" text-anchor="middle" fill="#333" >0</text>
<text x="544.70" y="288.30" font-size="10.2" text-anchor="middle" fill="#333" >1</text>
<text x="580.40" y="288.30" font-size="10.2" text-anchor="middle" fill="#333" >2</text>
<text x="616.10" y="288.30" font-size="10.2" text-anchor="middle" fill="#333" >3</text>
<text x="487.40" y="211.40" font-size="9.8" text-anchor="middle" font-weight="bold" fill="#000" >M<tspan font-size="6.2" dy="-3.2">5</tspan><tspan dy="3.2">C-Hypermodified/RNA-Down regulated genes</tspan></text>
<text x="563.00" y="303.30" font-size="10.2" text-anchor="middle" font-weight="bold" fill="#000" >−log10(P−value)</text>
<text x="214.60" y="352.10" font-size="10.4" text-anchor="middle" font-weight="bold" fill="#000" >MORGAN Model</text>
<rect x="18.3" y="360.4" width="184.6" height="100.2" rx="7.5" fill="none" stroke="#5cb8e4" stroke-width="1.1"/>
<rect x="227.3" y="360.5" width="169.4" height="99.2" rx="7.5" fill="none" stroke="#5cb8e4" stroke-width="1.1"/>
<circle cx="39" cy="378.2" r="14.6" fill="#b55862"/>
<circle cx="39" cy="378.2" r="12.8" fill="#c46a74"/>
<circle cx="39" cy="378.2" r="11.6" fill="#d27b85"/>
<circle cx="39" cy="378.2" r="10.6" fill="#e0828d"/>
<circle cx="38.5" cy="377.2" r="7.5" fill="#eb9aa3" opacity="0.55"/>
<ellipse cx="39" cy="378.5" rx="1.5" ry="0.8" fill="#a83844"/>
<circle cx="39" cy="419.8" r="14.6" fill="#b55862"/>
<circle cx="39" cy="419.8" r="12.8" fill="#c46a74"/>
<circle cx="39" cy="419.8" r="11.6" fill="#d27b85"/>
<circle cx="39" cy="419.8" r="10.2" fill="#f2d4d6"/>
<circle cx="42.37" cy="414.58" r="0.92" fill="#de7d87" opacity="0.75"/>
<circle cx="32.07" cy="412.98" r="0.57" fill="#de7d87" opacity="0.75"/>
<circle cx="39.22" cy="428.67" r="0.78" fill="#de7d87" opacity="0.75"/>
<circle cx="29.69" cy="419.07" r="0.65" fill="#de7d87" opacity="0.75"/>
<circle cx="31.91" cy="421.49" r="0.97" fill="#de7d87" opacity="0.75"/>
<circle cx="35.76" cy="423.37" r="0.76" fill="#de7d87" opacity="0.75"/>
<circle cx="42.87" cy="419.27" r="0.81" fill="#de7d87" opacity="0.75"/>
<circle cx="36.93" cy="422.22" r="0.67" fill="#de7d87" opacity="0.75"/>
<circle cx="38.30" cy="417.51" r="0.91" fill="#de7d87" opacity="0.75"/>
<circle cx="35.98" cy="428.00" r="0.88" fill="#de7d87" opacity="0.75"/>
<circle cx="38.11" cy="414.94" r="0.79" fill="#de7d87" opacity="0.75"/>
<circle cx="38.59" cy="417.63" r="0.86" fill="#de7d87" opacity="0.75"/>
<circle cx="40.12" cy="419.22" r="0.94" fill="#de7d87" opacity="0.75"/>
<circle cx="36.58" cy="423.42" r="0.89" fill="#de7d87" opacity="0.75"/>
<circle cx="45.02" cy="427.63" r="0.88" fill="#de7d87" opacity="0.75"/>
<circle cx="40.65" cy="414.89" r="0.62" fill="#de7d87" opacity="0.75"/>
<circle cx="46.04" cy="418.97" r="0.58" fill="#de7d87" opacity="0.75"/>
<circle cx="43.69" cy="416.23" r="0.60" fill="#de7d87" opacity="0.75"/>
<circle cx="37.73" cy="421.11" r="0.75" fill="#de7d87" opacity="0.75"/>
<circle cx="45.02" cy="427.18" r="0.87" fill="#de7d87" opacity="0.75"/>
<circle cx="42.29" cy="425.72" r="1.08" fill="#de7d87" opacity="0.75"/>
<circle cx="37.12" cy="415.14" r="0.66" fill="#de7d87" opacity="0.75"/>
<circle cx="29.77" cy="421.56" r="0.57" fill="#de7d87" opacity="0.75"/>
<circle cx="41.99" cy="413.64" r="0.61" fill="#de7d87" opacity="0.75"/>
<circle cx="47.48" cy="416.26" r="0.61" fill="#de7d87" opacity="0.75"/>
<circle cx="32.29" cy="420.14" r="0.83" fill="#de7d87" opacity="0.75"/>
<circle cx="37.09" cy="419.77" r="0.98" fill="#de7d87" opacity="0.75"/>
<circle cx="34.52" cy="425.52" r="0.52" fill="#de7d87" opacity="0.75"/>
<circle cx="36.58" cy="426.43" r="0.90" fill="#de7d87" opacity="0.75"/>
<circle cx="41.30" cy="415.92" r="1.09" fill="#de7d87" opacity="0.75"/>
<circle cx="36.93" cy="410.28" r="0.70" fill="#de7d87" opacity="0.75"/>
<circle cx="42.94" cy="427.98" r="0.78" fill="#de7d87" opacity="0.75"/>
<circle cx="39.76" cy="414.75" r="0.66" fill="#de7d87" opacity="0.75"/>
<circle cx="37.41" cy="426.20" r="0.90" fill="#de7d87" opacity="0.75"/>
<circle cx="36.15" cy="423.41" r="0.71" fill="#de7d87" opacity="0.75"/>
<circle cx="44.40" cy="417.56" r="1.05" fill="#de7d87" opacity="0.75"/>
<circle cx="43.30" cy="427.91" r="0.77" fill="#de7d87" opacity="0.75"/>
<circle cx="35.59" cy="423.70" r="0.59" fill="#de7d87" opacity="0.75"/>
<circle cx="42.76" cy="419.33" r="0.72" fill="#de7d87" opacity="0.75"/>
<circle cx="41.85" cy="416.08" r="0.55" fill="#de7d87" opacity="0.75"/>
<circle cx="36.18" cy="414.60" r="0.87" fill="#de7d87" opacity="0.75"/>
<circle cx="45.19" cy="417.17" r="1.06" fill="#de7d87" opacity="0.75"/>
<circle cx="36.72" cy="426.43" r="1.02" fill="#de7d87" opacity="0.75"/>
<circle cx="37.71" cy="429.69" r="0.62" fill="#de7d87" opacity="0.75"/>
<circle cx="32.55" cy="415.91" r="0.61" fill="#de7d87" opacity="0.75"/>
<circle cx="39.20" cy="416.23" r="0.93" fill="#de7d87" opacity="0.75"/>
<circle cx="48.84" cy="418.96" r="0.60" fill="#de7d87" opacity="0.75"/>
<circle cx="41.08" cy="418.12" r="1.08" fill="#de7d87" opacity="0.75"/>
<circle cx="32.07" cy="420.56" r="0.75" fill="#de7d87" opacity="0.75"/>
<circle cx="34.37" cy="426.09" r="0.54" fill="#de7d87" opacity="0.75"/>
<circle cx="41.32" cy="427.66" r="0.72" fill="#de7d87" opacity="0.75"/>
<circle cx="33.27" cy="427.64" r="1.01" fill="#de7d87" opacity="0.75"/>
<circle cx="44.34" cy="413.85" r="0.83" fill="#de7d87" opacity="0.75"/>
<circle cx="45.81" cy="418.25" r="0.68" fill="#de7d87" opacity="0.75"/>
<circle cx="37.12" cy="426.23" r="1.07" fill="#de7d87" opacity="0.75"/>
<circle cx="37.57" cy="424.95" r="0.58" fill="#de7d87" opacity="0.75"/>
<circle cx="33.03" cy="423.63" r="0.82" fill="#de7d87" opacity="0.75"/>
<circle cx="35.78" cy="420.47" r="0.73" fill="#de7d87" opacity="0.75"/>
<circle cx="35.24" cy="420.35" r="0.58" fill="#de7d87" opacity="0.75"/>
<circle cx="46.48" cy="424.60" r="0.90" fill="#de7d87" opacity="0.75"/>
<circle cx="35.24" cy="423.25" r="1.05" fill="#de7d87" opacity="0.75"/>
<circle cx="34.06" cy="418.55" r="1.03" fill="#de7d87" opacity="0.75"/>
<circle cx="33.46" cy="417.43" r="1.09" fill="#de7d87" opacity="0.75"/>
<circle cx="32.57" cy="420.07" r="0.92" fill="#de7d87" opacity="0.75"/>
<circle cx="32.21" cy="425.87" r="0.60" fill="#de7d87" opacity="0.75"/>
<circle cx="32.06" cy="415.15" r="0.68" fill="#de7d87" opacity="0.75"/>
<circle cx="38.99" cy="420.75" r="1.07" fill="#de7d87" opacity="0.75"/>
<circle cx="35.62" cy="428.75" r="0.59" fill="#de7d87" opacity="0.75"/>
<circle cx="46.71" cy="420.96" r="1.08" fill="#de7d87" opacity="0.75"/>
<circle cx="39.04" cy="421.25" r="0.58" fill="#de7d87" opacity="0.75"/>
<circle cx="33.98" cy="423.83" r="0.84" fill="#de7d87" opacity="0.75"/>
<circle cx="39.26" cy="426.19" r="0.52" fill="#de7d87" opacity="0.75"/>
<circle cx="29.99" cy="420.36" r="0.93" fill="#de7d87" opacity="0.75"/>
<circle cx="37.55" cy="426.17" r="1.10" fill="#de7d87" opacity="0.75"/>
<circle cx="29.90" cy="418.75" r="1.03" fill="#de7d87" opacity="0.75"/>
<circle cx="39.67" cy="419.28" r="0.58" fill="#de7d87" opacity="0.75"/>
<circle cx="37.36" cy="427.76" r="0.87" fill="#de7d87" opacity="0.75"/>
<circle cx="38.87" cy="418.67" r="0.71" fill="#de7d87" opacity="0.75"/>
<circle cx="35.33" cy="411.77" r="0.58" fill="#de7d87" opacity="0.75"/>
<circle cx="46.01" cy="419.92" r="0.91" fill="#de7d87" opacity="0.75"/>
<circle cx="45.23" cy="424.80" r="0.61" fill="#de7d87" opacity="0.75"/>
<circle cx="31.05" cy="423.56" r="0.86" fill="#de7d87" opacity="0.75"/>
<circle cx="35.37" cy="410.79" r="0.89" fill="#de7d87" opacity="0.75"/>
<circle cx="44.69" cy="412.81" r="0.79" fill="#de7d87" opacity="0.75"/>
<circle cx="35.61" cy="412.32" r="1.04" fill="#de7d87" opacity="0.75"/>
<circle cx="30.73" cy="421.64" r="0.68" fill="#de7d87" opacity="0.75"/>
<circle cx="47.61" cy="419.97" r="0.85" fill="#de7d87" opacity="0.75"/>
<circle cx="35.20" cy="414.68" r="0.69" fill="#de7d87" opacity="0.75"/>
<circle cx="43.07" cy="426.73" r="1.03" fill="#de7d87" opacity="0.75"/>
<circle cx="45.79" cy="418.63" r="0.76" fill="#de7d87" opacity="0.75"/>
<ellipse cx="39" cy="419.8" rx="3.6" ry="2.6" fill="#d42a37" opacity="0.9"/>
<circle cx="41.5" cy="420.8" r="1.4" fill="#d42a37" opacity="0.7"/>
<text x="38.60" y="399.50" font-size="8.6" text-anchor="middle" fill="#222" >Control</text>
<text x="38.60" y="443.50" font-size="8.6" text-anchor="middle" fill="#222" >Cancer</text>
<line x1="55.6" y1="403.9" x2="61.2" y2="403.9" stroke="#333" stroke-width="0.8"/><path d="M61,402.6 L63,403.9 L61,405.2Z" fill="#333"/>
<path d="M64.5,379 L71,377 L71,401.5 L65,400.5Z" fill="#d3d6d8"/>
<line x1="66.5" y1="381" x2="66.5" y2="399" stroke="#b9bdc0" stroke-width="0.4"/><line x1="68.5" y1="380" x2="68.5" y2="400" stroke="#b9bdc0" stroke-width="0.4"/>
<path d="M71,377 L75,375.5 L90,375.5 L90,386 L71,386Z" fill="#5a5e61"/>
<rect x="77" y="376.5" width="12" height="8.8" fill="#dcecf1"/>
<rect x="70.5" y="386" width="22.5" height="15.5" fill="#474b4e"/>
<line x1="70.5" y1="386.2" x2="93" y2="386.2" stroke="#3aa392" stroke-width="0.7"/>
<path d="M84,401.5 L88,388 L93,388 L93,401.5Z" fill="#3e4245"/>
<rect x="91.7" y="376.2" width="29.6" height="18.2" fill="#333"/>
<rect x="92.9" y="377.4" width="27.2" height="15.4" fill="#fff"/>
<rect x="105.2" y="394.4" width="1.6" height="5.5" fill="#333"/><rect x="100.8" y="399.5" width="10.4" height="1.4" fill="#333"/>
<rect x="96" y="389.5" width="6.5" height="2.2" fill="#c98cc0"/><rect x="109" y="389.5" width="6.5" height="2.2" fill="#c98cc0"/>
<line x1="94" y1="390.7" x2="119" y2="390.7" stroke="#7aa" stroke-width="0.5"/>
<path d="M99,379.0 q1,-0.9 2,0 t2,0 t2,0" fill="none" stroke="#59b4e6" stroke-width="0.6"/>
<path d="M99,381.1 q1,-0.9 2,0 t2,0 t2,0" fill="none" stroke="#59b4e6" stroke-width="0.6"/>
<path d="M99,383.2 q1,-0.9 2,0 t2,0 t2,0" fill="none" stroke="#59b4e6" stroke-width="0.6"/>
<path d="M99,385.3 q1,-0.9 2,0 t2,0 t2,0" fill="none" stroke="#59b4e6" stroke-width="0.6"/>
<path d="M111.5,380.5 q1,-0.9 2,0 t2,0 t2,0" fill="none" stroke="#59b4e6" stroke-width="0.6"/>
<path d="M111.5,382.6 q1,-0.9 2,0 t2,0 t2,0" fill="none" stroke="#59b4e6" stroke-width="0.6"/>
<path d="M111.5,384.7 q1,-0.9 2,0 t2,0 t2,0" fill="none" stroke="#59b4e6" stroke-width="0.6"/>
<path d="M111.5,386.8 q1,-0.9 2,0 t2,0 t2,0" fill="none" stroke="#59b4e6" stroke-width="0.6"/>
<rect x="94.2" y="387.2" width="2" height="2" fill="none" stroke="#4c4" stroke-width="0.4"/>
<text x="92.80" y="416.80" font-size="8.1" text-anchor="middle" fill="#222" >RNA-seq</text>
<text x="92.80" y="428.80" font-size="8.1" text-anchor="middle" fill="#222" >RNA BS-seq</text>
<line x1="123.5" y1="403.6" x2="128.6" y2="403.6" stroke="#333" stroke-width="0.8"/><path d="M128.4,402.3 L130.4,403.6 L128.4,404.9Z" fill="#333"/>
<rect x="148.60" y="378.50" width="3.40" height="3.45" fill="#fcf1dc"/>
<rect x="151.80" y="378.50" width="3.40" height="3.45" fill="#f7d9a0"/>
<rect x="155.00" y="378.50" width="3.40" height="3.45" fill="#f7d9a0"/>
<rect x="158.20" y="378.50" width="3.40" height="3.45" fill="#f7d9a0"/>
<rect x="161.40" y="378.50" width="3.40" height="3.45" fill="#f1c070"/>
<rect x="164.60" y="378.50" width="3.40" height="3.45" fill="#fcf1dc"/>
<rect x="167.80" y="378.50" width="3.40" height="3.45" fill="#fcf1dc"/>
<rect x="171.00" y="378.50" width="3.40" height="3.45" fill="#f1c070"/>
<rect x="174.20" y="378.50" width="3.40" height="3.45" fill="#fcf1dc"/>
<rect x="177.40" y="378.50" width="3.40" height="3.45" fill="#fcf1dc"/>
<rect x="148.60" y="381.75" width="3.40" height="3.45" fill="#e9a038"/>
<rect x="151.80" y="381.75" width="3.40" height="3.45" fill="#f7d9a0"/>
<rect x="155.00" y="381.75" width="3.40" height="3.45" fill="#f1c070"/>
<rect x="158.20" y="381.75" width="3.40" height="3.45" fill="#f7d9a0"/>
<rect x="161.40" y="381.75" width="3.40" height="3.45" fill="#f1c070"/>
<rect x="164.60" y="381.75" width="3.40" height="3.45" fill="#fcf1dc"/>
<rect x="167.80" y="381.75" width="3.40" height="3.45" fill="#f1c070"/>
<rect x="171.00" y="381.75" width="3.40" height="3.45" fill="#e9a038"/>
<rect x="174.20" y="381.75" width="3.40" height="3.45" fill="#f7d9a0"/>
<rect x="177.40" y="381.75" width="3.40" height="3.45" fill="#f1c070"/>
<rect x="148.60" y="385.00" width="3.40" height="3.45" fill="#f1c070"/>
<rect x="151.80" y="385.00" width="3.40" height="3.45" fill="#fcf1dc"/>
<rect x="155.00" y="385.00" width="3.40" height="3.45" fill="#f1c070"/>
<rect x="158.20" y="385.00" width="3.40" height="3.45" fill="#f7d9a0"/>
<rect x="161.40" y="385.00" width="3.40" height="3.45" fill="#fcf1dc"/>
<rect x="164.60" y="385.00" width="3.40" height="3.45" fill="#fcf1dc"/>
<rect x="167.80" y="385.00" width="3.40" height="3.45" fill="#e9a038"/>
<rect x="171.00" y="385.00" width="3.40" height="3.45" fill="#f7d9a0"/>
<rect x="174.20" y="385.00" width="3.40" height="3.45" fill="#f1c070"/>
<rect x="177.40" y="385.00" width="3.40" height="3.45" fill="#e9a038"/>
<rect x="148.60" y="388.25" width="3.40" height="3.45" fill="#f1c070"/>
<rect x="151.80" y="388.25" width="3.40" height="3.45" fill="#e9a038"/>
<rect x="155.00" y="388.25" width="3.40" height="3.45" fill="#f7d9a0"/>
<rect x="158.20" y="388.25" width="3.40" height="3.45" fill="#f1c070"/>
<rect x="161.40" y="388.25" width="3.40" height="3.45" fill="#f7d9a0"/>
<rect x="164.60" y="388.25" width="3.40" height="3.45" fill="#e9a038"/>
<rect x="167.80" y="388.25" width="3.40" height="3.45" fill="#e9a038"/>
<rect x="171.00" y="388.25" width="3.40" height="3.45" fill="#fcf1dc"/>
<rect x="174.20" y="388.25" width="3.40" height="3.45" fill="#fcf1dc"/>
<rect x="177.40" y="388.25" width="3.40" height="3.45" fill="#fcf1dc"/>
<rect x="148.60" y="391.50" width="3.40" height="3.45" fill="#e9a038"/>
<rect x="151.80" y="391.50" width="3.40" height="3.45" fill="#f7d9a0"/>
<rect x="155.00" y="391.50" width="3.40" height="3.45" fill="#f1c070"/>
<rect x="158.20" y="391.50" width="3.40" height="3.45" fill="#fcf1dc"/>
<rect x="161.40" y="391.50" width="3.40" height="3.45" fill="#f7d9a0"/>
<rect x="164.60" y="391.50" width="3.40" height="3.45" fill="#f7d9a0"/>
<rect x="167.80" y="391.50" width="3.40" height="3.45" fill="#f7d9a0"/>
<rect x="171.00" y="391.50" width="3.40" height="3.45" fill="#f7d9a0"/>
<rect x="174.20" y="391.50" width="3.40" height="3.45" fill="#f7d9a0"/>
<rect x="177.40" y="391.50" width="3.40" height="3.45" fill="#e9a038"/>
<rect x="148.60" y="394.75" width="3.40" height="3.45" fill="#f1c070"/>
<rect x="151.80" y="394.75" width="3.40" height="3.45" fill="#e9a038"/>
<rect x="155.00" y="394.75" width="3.40" height="3.45" fill="#f1c070"/>
<rect x="158.20" y="394.75" width="3.40" height="3.45" fill="#e9a038"/>
<rect x="161.40" y="394.75" width="3.40" height="3.45" fill="#f1c070"/>
<rect x="164.60" y="394.75" width="3.40" height="3.45" fill="#fcf1dc"/>
<rect x="167.80" y="394.75" width="3.40" height="3.45" fill="#e9a038"/>
<rect x="171.00" y="394.75" width="3.40" height="3.45" fill="#e9a038"/>
<rect x="174.20" y="394.75" width="3.40" height="3.45" fill="#e9a038"/>
<rect x="177.40" y="394.75" width="3.40" height="3.45" fill="#f7d9a0"/>
<rect x="148.60" y="398.00" width="3.40" height="3.45" fill="#f1c070"/>
<rect x="151.80" y="398.00" width="3.40" height="3.45" fill="#fcf1dc"/>
<rect x="155.00" y="398.00" width="3.40" height="3.45" fill="#f1c070"/>
<rect x="158.20" y="398.00" width="3.40" height="3.45" fill="#f7d9a0"/>
<rect x="161.40" y="398.00" width="3.40" height="3.45" fill="#fcf1dc"/>
<rect x="164.60" y="398.00" width="3.40" height="3.45" fill="#fcf1dc"/>
<rect x="167.80" y="398.00" width="3.40" height="3.45" fill="#f1c070"/>
<rect x="171.00" y="398.00" width="3.40" height="3.45" fill="#e9a038"/>
<rect x="174.20" y="398.00" width="3.40" height="3.45" fill="#fcf1dc"/>
<rect x="177.40" y="398.00" width="3.40" height="3.45" fill="#f1c070"/>
<rect x="148.60" y="401.25" width="3.40" height="3.45" fill="#f7d9a0"/>
<rect x="151.80" y="401.25" width="3.40" height="3.45" fill="#fcf1dc"/>
<rect x="155.00" y="401.25" width="3.40" height="3.45" fill="#fcf1dc"/>
<rect x="158.20" y="401.25" width="3.40" height="3.45" fill="#f1c070"/>
<rect x="161.40" y="401.25" width="3.40" height="3.45" fill="#e9a038"/>
<rect x="164.60" y="401.25" width="3.40" height="3.45" fill="#fcf1dc"/>
<rect x="167.80" y="401.25" width="3.40" height="3.45" fill="#f7d9a0"/>
<rect x="171.00" y="401.25" width="3.40" height="3.45" fill="#fcf1dc"/>
<rect x="174.20" y="401.25" width="3.40" height="3.45" fill="#f1c070"/>
<rect x="177.40" y="401.25" width="3.40" height="3.45" fill="#f7d9a0"/>
<path d="M150,378.5V374H153V378.5 M151.5,374V371H157V378.5 M160,378.5V373H163V378.5 M161.5,373V369H170V376 M167,376H173V378.5 M170,369V367.5H176V378.5 M174,372H178V378.5" fill="none" stroke="#999" stroke-width="0.4"/>
<line x1="147.6" y1="378" x2="147.6" y2="405" stroke="#bbb" stroke-width="0.4"/>
<text x="164.60" y="414.00" font-size="7.05" text-anchor="middle" fill="#222" >RNA expression count</text>
<rect x="151.5" y="419.6" width="22.5" height="22.8" fill="#f3f5f7" stroke="#cfd6dc" stroke-width="0.6"/>
<rect x="153.1" y="421.6" width="23" height="23" fill="#e3e8ec" stroke="#c3ccd3" stroke-width="0.6"/>
<rect x="154.8" y="423.9" width="23.1" height="22.9" fill="#fff" stroke="#5c7081" stroke-width="0.9"/>
<rect x="154.80" y="423.90" width="7.7" height="7.63" fill="#fff" stroke="#5c7081" stroke-width="0.8"/>
<rect x="154.80" y="431.53" width="7.7" height="7.63" fill="#fff" stroke="#5c7081" stroke-width="0.8"/>
<rect x="154.80" y="439.16" width="7.7" height="7.63" fill="#fff" stroke="#5c7081" stroke-width="0.8"/>
<rect x="162.50" y="423.90" width="7.7" height="7.63" fill="#d9dee2" stroke="#5c7081" stroke-width="0.8"/>
<rect x="162.50" y="431.53" width="7.7" height="7.63" fill="#fff" stroke="#5c7081" stroke-width="0.8"/>
<rect x="162.50" y="439.16" width="7.7" height="7.63" fill="#d9dee2" stroke="#5c7081" stroke-width="0.8"/>
<rect x="170.20" y="423.90" width="7.7" height="7.63" fill="#fff" stroke="#5c7081" stroke-width="0.8"/>
<rect x="170.20" y="431.53" width="7.7" height="7.63" fill="#d9dee2" stroke="#5c7081" stroke-width="0.8"/>
<rect x="170.20" y="439.16" width="7.7" height="7.63" fill="#fff" stroke="#5c7081" stroke-width="0.8"/>
<text x="160.30" y="459.00" font-size="8.0" text-anchor="middle" fill="#222" >m<tspan font-size="5.2" dy="-2.4">5</tspan><tspan dy="2.4">C data</tspan></text>
<line x1="205.2" y1="433.6" x2="222" y2="433.6" stroke="#111" stroke-width="1"/><path d="M221.5,431.6 L226,433.6 L221.5,435.6Z" fill="#111"/>
<text x="219.2" y="400.9" font-size="8.4" font-weight="bold" text-anchor="middle" transform="rotate(-90 219.2 400.9)">Data matching</text>
<path d="M240.7,388.5V426.6H282" fill="none" stroke="#333" stroke-width="0.7"/>
<path d="M239.4,389.5L240.7,386.6L242,389.5Z M281,425.3L283.8,426.6L281,427.9Z" fill="#333"/>
<line x1="236.5" y1="407.4" x2="280" y2="407.4" stroke="#d02a2a" stroke-width="0.7" stroke-dasharray="1.8,1.3"/>
<text x="237.00" y="408.40" font-size="2.4" text-anchor="middle" fill="#333" >0.6</text>
<circle cx="244.5" cy="399.5" r="1.05" fill="#b8262a"/>
<circle cx="257.3" cy="401.8" r="1.05" fill="#b8262a"/>
<circle cx="265.3" cy="393.8" r="1.05" fill="#b8262a"/>
<circle cx="267.9" cy="403.9" r="1.05" fill="#b8262a"/>
<circle cx="276.8" cy="397.8" r="1.05" fill="#b8262a"/>
<circle cx="253" cy="411.6" r="1.05" fill="#2e7db3"/>
<circle cx="264.4" cy="414.3" r="1.05" fill="#2e7db3"/>
<circle cx="248.4" cy="420.5" r="1.05" fill="#2e7db3"/>
<circle cx="269.3" cy="420.5" r="1.05" fill="#2e7db3"/>
<line x1="282.6" y1="407.4" x2="288" y2="407.4" stroke="#333" stroke-width="0.6"/><path d="M287.6,406.5L289.6,407.4L287.6,408.3Z" fill="#333"/>
<text x="261.10" y="435.00" font-size="4.3" text-anchor="middle" font-weight="bold" fill="#222" >High positive correlation</text>
<path d="M272.5,384.7 Q290,370 309.5,387.5" fill="none" stroke="#222" stroke-width="0.7"/><path d="M308,388.5 L311.2,390 L310.3,386.4Z" fill="#222"/>
<path d="M296.6,384.7V427.5H341.5" fill="none" stroke="#888" stroke-width="0.5"/>
<line x1="300.0" y1="427.5" x2="300.0" y2="428.4" stroke="#888" stroke-width="0.3"/>
<line x1="305.5" y1="427.5" x2="305.5" y2="428.4" stroke="#888" stroke-width="0.3"/>
<line x1="311.0" y1="427.5" x2="311.0" y2="428.4" stroke="#888" stroke-width="0.3"/>
<line x1="316.5" y1="427.5" x2="316.5" y2="428.4" stroke="#888" stroke-width="0.3"/>
<line x1="322.0" y1="427.5" x2="322.0" y2="428.4" stroke="#888" stroke-width="0.3"/>
<line x1="327.5" y1="427.5" x2="327.5" y2="428.4" stroke="#888" stroke-width="0.3"/>
<line x1="333.0" y1="427.5" x2="333.0" y2="428.4" stroke="#888" stroke-width="0.3"/>
<line x1="338.5" y1="427.5" x2="338.5" y2="428.4" stroke="#888" stroke-width="0.3"/>
<circle cx="306.6" cy="390.8" r="1.25" fill="#ea5a23"/>
<circle cx="304" cy="395.7" r="1.25" fill="#ea5a23"/>
<circle cx="308" cy="398.2" r="1.25" fill="#ea5a23"/>
<circle cx="310.6" cy="396.9" r="1.25" fill="#ea5a23"/>
<circle cx="310.6" cy="401.5" r="1.25" fill="#ea5a23"/>
<circle cx="318.6" cy="397.9" r="1.25" fill="#9acd32"/>
<circle cx="321.4" cy="393.8" r="1.25" fill="#9acd32"/>
<circle cx="323.7" cy="399.9" r="1.25" fill="#9acd32"/>
<circle cx="326.7" cy="398.2" r="1.25" fill="#9acd32"/>
<circle cx="320.2" cy="402.6" r="1.25" fill="#9acd32"/>
<circle cx="326.7" cy="404.5" r="1.25" fill="#9acd32"/>
<circle cx="319.7" cy="404.3" r="1.25" fill="#9acd32"/>
<circle cx="313.4" cy="406.7" r="1.25" fill="#34b3a0"/>
<circle cx="312" cy="411.5" r="1.25" fill="#34b3a0"/>
<circle cx="315.2" cy="411.5" r="1.25" fill="#34b3a0"/>
<circle cx="320.4" cy="412.8" r="1.25" fill="#34b3a0"/>
<circle cx="313.6" cy="416.2" r="1.25" fill="#34b3a0"/>
<circle cx="311" cy="418.4" r="1.25" fill="#34b3a0"/>
<circle cx="316.4" cy="420.8" r="1.25" fill="#34b3a0"/>
<text x="321.00" y="435.00" font-size="4.3" text-anchor="middle" font-weight="bold" fill="#222" >GMM clustering</text>
<line x1="343.3" y1="406.5" x2="348.6" y2="406.5" stroke="#333" stroke-width="0.6"/><path d="M348.2,405.6L350.4,406.5L348.2,407.4Z" fill="#333"/>
<path d="M351.50,413.50 L352.18,413.62 L352.85,413.72 L353.51,413.81 L354.15,413.86 L354.77,413.88 L355.36,413.84 L355.93,413.75 L356.45,413.61 L356.94,413.40 L357.40,413.12 L357.82,412.78 L358.20,412.38 L358.55,411.92 L358.88,411.41 L359.17,410.86 L359.45,410.26 L359.71,409.64 L359.96,409.01 L360.20,408.36 L360.45,407.72 L360.71,407.10 L360.98,406.50" fill="none" stroke="#1f3f9a" stroke-width="1.0"/>
<path d="M360.98,406.50 L361.27,405.93 L361.59,405.41 L361.93,404.94 L362.31,404.53 L362.72,404.18 L363.17,403.89 L363.65,403.66 L364.17,403.50 L364.73,403.40 L365.31,403.36 L365.93,403.36 L366.56,403.41 L367.22,403.49 L367.89,403.59 L368.57,403.71 L369.25,403.83 L369.92,403.94 L370.58,404.03 L371.23,404.09 L371.85,404.11 L372.45,404.09 L373.02,404.01 L373.55,403.88 L374.05,403.68 L374.52,403.42 L374.94,403.09 L375.33,402.70 L375.69,402.26 L376.02,401.75 L376.32,401.21 L376.60,400.62 L376.86,400.01 L377.11,399.37 L377.36,398.73 L377.61,398.09 L377.86,397.46 L378.13,396.85 L378.42,396.28" fill="none" stroke="#4cc8c0" stroke-width="1.0"/>
<path d="M378.42,396.28 L378.73,395.75 L379.07,395.27 L379.44,394.84 L379.84,394.48 L380.28,394.18 L380.76,393.94 L381.27,393.76 L381.82,393.65 L382.40,393.60 L383.00,393.59 L383.64,393.63 L384.29,393.70 L384.96,393.80 L385.63,393.92 L386.31,394.03 L386.99,394.15 L387.65,394.24 L388.30,394.31 L388.93,394.34 L389.54,394.33" fill="none" stroke="#1f3f9a" stroke-width="1.0"/>
<path d="M352.37,415.03 L352.66,414.46 L352.93,413.86 L353.19,413.24 L353.43,412.60 L353.68,411.96 L353.93,411.32 L354.19,410.70 L354.47,410.11 L354.76,409.55 L355.08,409.04 L355.43,408.58 L355.82,408.18 L356.24,407.84 L356.69,407.57 L357.19,407.36 L357.71,407.21 L358.27,407.12 L358.87,407.09 L359.49,407.10 L360.13,407.15 L360.79,407.24 L361.46,407.35" fill="none" stroke="#1f3f9a" stroke-width="1.0"/>
<path d="M361.46,407.35 L362.14,407.46 L362.82,407.58 L363.49,407.69 L364.15,407.77 L364.79,407.83 L365.41,407.84 L366.00,407.81 L366.56,407.72 L367.09,407.57 L367.58,407.36 L368.04,407.08 L368.46,406.74 L368.84,406.34 L369.19,405.88 L369.51,405.37 L369.81,404.82 L370.08,404.22 L370.34,403.60 L370.59,402.97 L370.84,402.32 L371.09,401.68 L371.34,401.06 L371.62,400.46 L371.91,399.90 L372.22,399.37 L372.57,398.91 L372.94,398.49 L373.36,398.14 L373.80,397.85 L374.29,397.63 L374.81,397.47 L375.36,397.37 L375.95,397.32 L376.56,397.33 L377.20,397.37 L377.86,397.45 L378.53,397.56 L379.21,397.67" fill="none" stroke="#4cc8c0" stroke-width="1.0"/>
<path d="M379.21,397.67 L379.88,397.79 L380.56,397.90 L381.22,397.99 L381.87,398.05 L382.49,398.07 L383.09,398.05 L383.66,397.97 L384.19,397.84 L384.69,397.64 L385.15,397.38 L385.58,397.05 L385.97,396.66 L386.33,396.22 L386.66,395.72 L386.96,395.17 L387.24,394.58 L387.50,393.97 L387.75,393.33 L388.00,392.69 L388.24,392.05" fill="none" stroke="#1f3f9a" stroke-width="1.0"/>
<line x1="352.85" y1="413.72" x2="352.93" y2="413.86" stroke="#2a4aa6" stroke-width="0.4"/>
<line x1="354.77" y1="413.88" x2="353.68" y2="411.96" stroke="#2a4aa6" stroke-width="0.4"/>
<line x1="356.45" y1="413.61" x2="354.47" y2="410.11" stroke="#2a4aa6" stroke-width="0.4"/>
<line x1="357.82" y1="412.78" x2="355.43" y2="408.58" stroke="#2a4aa6" stroke-width="0.4"/>
<line x1="358.88" y1="411.41" x2="356.69" y2="407.57" stroke="#2a4aa6" stroke-width="0.4"/>
<line x1="359.71" y1="409.64" x2="358.27" y2="407.12" stroke="#2a4aa6" stroke-width="0.4"/>
<line x1="360.45" y1="407.72" x2="360.13" y2="407.15" stroke="#2a4aa6" stroke-width="0.4"/>
<line x1="361.27" y1="405.93" x2="362.14" y2="407.46" stroke="#4cc8c0" stroke-width="0.4"/>
<line x1="362.31" y1="404.53" x2="364.15" y2="407.77" stroke="#4cc8c0" stroke-width="0.4"/>
<line x1="363.65" y1="403.66" x2="366.00" y2="407.81" stroke="#4cc8c0" stroke-width="0.4"/>
<line x1="365.31" y1="403.36" x2="367.58" y2="407.36" stroke="#4cc8c0" stroke-width="0.4"/>
<line x1="367.22" y1="403.49" x2="368.84" y2="406.34" stroke="#4cc8c0" stroke-width="0.4"/>
<line x1="369.25" y1="403.83" x2="369.81" y2="404.82" stroke="#4cc8c0" stroke-width="0.4"/>
<line x1="371.23" y1="404.09" x2="370.59" y2="402.97" stroke="#4cc8c0" stroke-width="0.4"/>
<line x1="373.02" y1="404.01" x2="371.34" y2="401.06" stroke="#4cc8c0" stroke-width="0.4"/>
<line x1="374.52" y1="403.42" x2="372.22" y2="399.37" stroke="#4cc8c0" stroke-width="0.4"/>
<line x1="375.69" y1="402.26" x2="373.36" y2="398.14" stroke="#4cc8c0" stroke-width="0.4"/>
<line x1="376.60" y1="400.62" x2="374.81" y2="397.47" stroke="#4cc8c0" stroke-width="0.4"/>
<line x1="377.36" y1="398.73" x2="376.56" y2="397.33" stroke="#4cc8c0" stroke-width="0.4"/>
<line x1="378.13" y1="396.85" x2="378.53" y2="397.56" stroke="#4cc8c0" stroke-width="0.4"/>
<line x1="379.07" y1="395.27" x2="380.56" y2="397.90" stroke="#2a4aa6" stroke-width="0.4"/>
<line x1="380.28" y1="394.18" x2="382.49" y2="398.07" stroke="#2a4aa6" stroke-width="0.4"/>
<line x1="381.82" y1="393.65" x2="384.19" y2="397.84" stroke="#2a4aa6" stroke-width="0.4"/>
<line x1="383.64" y1="393.63" x2="385.58" y2="397.05" stroke="#2a4aa6" stroke-width="0.4"/>
<line x1="385.63" y1="393.92" x2="386.66" y2="395.72" stroke="#2a4aa6" stroke-width="0.4"/>
<line x1="387.65" y1="394.24" x2="387.50" y2="393.97" stroke="#2a4aa6" stroke-width="0.4"/>
<text x="373.80" y="435.00" font-size="4.3" text-anchor="middle" font-weight="bold" fill="#222" >DM-Value calculation</text>
<text x="114.20" y="486.90" font-size="8.6" text-anchor="middle" font-weight="bold" fill="#000" >M<tspan font-size="5.6" dy="-2.9">5</tspan><tspan dy="2.9">C Methylation and Upregulated Genes</tspan></text>
<line x1="34" y1="518.4" x2="368.5" y2="518.4" stroke="#222" stroke-width="0.7" stroke-dasharray="2.3,1.9"/>
<line x1="34" y1="589.9" x2="368.5" y2="589.9" stroke="#555" stroke-width="0.7" stroke-dasharray="2.3,1.9"/>
<circle cx="35.50" cy="522.89" r="2.45" fill="#f18164"/>
<circle cx="39.70" cy="531.68" r="2.45" fill="#f2a089"/>
<circle cx="43.90" cy="581.31" r="2.45" fill="#ad88fd"/>
<circle cx="48.10" cy="514.33" r="2.45" fill="#f86647"/>
<circle cx="52.30" cy="546.33" r="2.45" fill="#feddd4"/>
<circle cx="56.50" cy="511.64" r="2.45" fill="#fa5d3d"/>
<circle cx="60.70" cy="546.03" r="2.45" fill="#fedcd2"/>
<circle cx="64.90" cy="511.94" r="2.45" fill="#f95e3e"/>
<circle cx="69.10" cy="560.68" r="2.45" fill="#eee3ff"/>
<circle cx="73.30" cy="548.42" r="2.45" fill="#ffe6df"/>
<circle cx="77.50" cy="527.79" r="2.45" fill="#ed8f76"/>
<circle cx="81.70" cy="510.15" r="2.45" fill="#fa5738"/>
<circle cx="85.90" cy="554.40" r="2.45" fill="#ffffff"/>
<circle cx="90.10" cy="562.77" r="2.45" fill="#e8d9ff"/>
<circle cx="94.30" cy="505.96" r="2.45" fill="#fd4629"/>
<circle cx="98.50" cy="525.10" r="2.45" fill="#ee876b"/>
<circle cx="102.70" cy="559.18" r="2.45" fill="#f2e9ff"/>
<circle cx="106.90" cy="501.18" r="2.45" fill="#fe2b16"/>
<circle cx="111.10" cy="498.79" r="2.45" fill="#ff1e0e"/>
<circle cx="115.30" cy="513.14" r="2.45" fill="#f96243"/>
<circle cx="119.50" cy="504.17" r="2.45" fill="#fd3d22"/>
<circle cx="123.70" cy="510.15" r="2.45" fill="#fa5738"/>
<circle cx="127.90" cy="516.13" r="2.45" fill="#f66c4d"/>
<circle cx="132.10" cy="510.75" r="2.45" fill="#fa5a3a"/>
<circle cx="136.30" cy="503.57" r="2.45" fill="#fe3a20"/>
<circle cx="140.50" cy="505.36" r="2.45" fill="#fd4327"/>
<circle cx="144.70" cy="531.68" r="2.45" fill="#f2a089"/>
<circle cx="148.90" cy="531.08" r="2.45" fill="#f19d86"/>
<circle cx="153.10" cy="501.18" r="2.45" fill="#fe2b16"/>
<circle cx="157.30" cy="501.18" r="2.45" fill="#fe2b16"/>
<circle cx="161.50" cy="509.55" r="2.45" fill="#fb5536"/>
<circle cx="165.70" cy="509.55" r="2.45" fill="#fb5536"/>
<circle cx="169.90" cy="506.86" r="2.45" fill="#fc4a2d"/>
<circle cx="174.10" cy="506.86" r="2.45" fill="#fc4a2d"/>
<circle cx="178.30" cy="545.01" r="2.45" fill="#fdd7cd"/>
<circle cx="182.50" cy="529.28" r="2.45" fill="#ef967d"/>
<circle cx="186.70" cy="525.10" r="2.45" fill="#ee876b"/>
<circle cx="190.90" cy="535.26" r="2.45" fill="#f6af9b"/>
<circle cx="195.10" cy="505.36" r="2.45" fill="#fd4327"/>
<circle cx="199.30" cy="518.52" r="2.45" fill="#f57455"/>
<circle cx="203.50" cy="518.52" r="2.45" fill="#f57455"/>
<circle cx="207.70" cy="511.94" r="2.45" fill="#f95e3e"/>
<circle cx="211.90" cy="507.76" r="2.45" fill="#fc4e30"/>
<circle cx="216.10" cy="531.68" r="2.45" fill="#f2a089"/>
<circle cx="220.30" cy="515.23" r="2.45" fill="#f7694a"/>
<circle cx="224.50" cy="518.52" r="2.45" fill="#f57455"/>
<circle cx="228.70" cy="499.98" r="2.45" fill="#ff2210"/>
<circle cx="232.90" cy="504.17" r="2.45" fill="#fd3d22"/>
<circle cx="237.10" cy="519.90" r="2.45" fill="#f3785a"/>
<circle cx="241.30" cy="502.37" r="2.45" fill="#fe331b"/>
<circle cx="245.50" cy="522.71" r="2.45" fill="#f18063"/>
<circle cx="249.70" cy="507.76" r="2.45" fill="#fc4e30"/>
<circle cx="253.90" cy="539.45" r="2.45" fill="#fac0b0"/>
<circle cx="258.10" cy="518.52" r="2.45" fill="#f57455"/>
<circle cx="262.30" cy="541.84" r="2.45" fill="#fccabc"/>
<circle cx="266.50" cy="512.54" r="2.45" fill="#f96041"/>
<circle cx="270.70" cy="536.46" r="2.45" fill="#f7b4a1"/>
<circle cx="274.90" cy="539.45" r="2.45" fill="#fac0b0"/>
<circle cx="279.10" cy="522.71" r="2.45" fill="#f18063"/>
<circle cx="283.30" cy="515.23" r="2.45" fill="#f7694a"/>
<circle cx="287.50" cy="533.47" r="2.45" fill="#f4a792"/>
<circle cx="291.70" cy="502.97" r="2.45" fill="#fe371e"/>
<circle cx="295.90" cy="526.89" r="2.45" fill="#ec8c72"/>
<circle cx="300.10" cy="521.81" r="2.45" fill="#f27d60"/>
<circle cx="304.30" cy="504.77" r="2.45" fill="#fd4025"/>
<circle cx="308.50" cy="505.36" r="2.45" fill="#fd4327"/>
<circle cx="312.70" cy="510.45" r="2.45" fill="#fa5939"/>
<circle cx="316.90" cy="502.37" r="2.45" fill="#fe331b"/>
<circle cx="321.10" cy="534.07" r="2.45" fill="#f5aa95"/>
<circle cx="325.30" cy="510.75" r="2.45" fill="#fa5a3a"/>
<circle cx="329.50" cy="520.91" r="2.45" fill="#f27b5d"/>
<circle cx="333.70" cy="495.20" r="2.45" fill="#ff1e0e"/>
<circle cx="337.90" cy="505.96" r="2.45" fill="#fd4629"/>
<circle cx="342.10" cy="513.74" r="2.45" fill="#f86445"/>
<circle cx="346.30" cy="500.28" r="2.45" fill="#ff2412"/>
<circle cx="350.50" cy="510.75" r="2.45" fill="#fa5a3a"/>
<circle cx="354.70" cy="512.54" r="2.45" fill="#f96041"/>
<circle cx="358.90" cy="512.54" r="2.45" fill="#f96041"/>
<circle cx="363.10" cy="542.74" r="2.45" fill="#fccec1"/>
<circle cx="367.30" cy="504.17" r="2.45" fill="#fd3d22"/>
<path d="M33.4,491.2V594.3H370" fill="none" stroke="#111" stroke-width="0.9"/>
<line x1="31.4" y1="494.60" x2="33.4" y2="494.60" stroke="#333" stroke-width="0.6"/>
<text x="30.20" y="497.30" font-size="7.6" text-anchor="end" fill="#333" >1.0</text>
<line x1="31.4" y1="524.50" x2="33.4" y2="524.50" stroke="#333" stroke-width="0.6"/>
<text x="30.20" y="527.20" font-size="7.6" text-anchor="end" fill="#333" >0.5</text>
<line x1="31.4" y1="554.40" x2="33.4" y2="554.40" stroke="#333" stroke-width="0.6"/>
<text x="30.20" y="557.10" font-size="7.6" text-anchor="end" fill="#333" >0.0</text>
<line x1="31.4" y1="584.30" x2="33.4" y2="584.30" stroke="#333" stroke-width="0.6"/>
<text x="30.20" y="587.00" font-size="7.6" text-anchor="end" fill="#333" >−0.5</text>
<text x="15.0" y="539.7" font-size="7.6" text-anchor="middle" fill="#222" transform="rotate(-90 15.0 539.7)">Correlation</text>
<line x1="35.50" y1="594.3" x2="35.50" y2="595.9" stroke="#333" stroke-width="0.4"/>
<text x="33.70" y="596.8" font-size="5.0" fill="#111" stroke="#111" stroke-width="0.12" text-anchor="start" transform="rotate(90 33.70 596.8)">TUBB</text>
<line x1="39.70" y1="594.3" x2="39.70" y2="595.9" stroke="#333" stroke-width="0.4"/>
<text x="37.90" y="596.8" font-size="5.0" fill="#111" stroke="#111" stroke-width="0.12" text-anchor="start" transform="rotate(90 37.90 596.8)">PKP1</text>
<line x1="43.90" y1="594.3" x2="43.90" y2="595.9" stroke="#333" stroke-width="0.4"/>
<text x="42.10" y="596.8" font-size="5.0" fill="#111" stroke="#111" stroke-width="0.12" text-anchor="start" transform="rotate(90 42.10 596.8)">MMP1</text>
<line x1="48.10" y1="594.3" x2="48.10" y2="595.9" stroke="#333" stroke-width="0.4"/>
<text x="46.30" y="596.8" font-size="5.0" fill="#111" stroke="#111" stroke-width="0.12" text-anchor="start" transform="rotate(90 46.30 596.8)">APOE</text>
<line x1="52.30" y1="594.3" x2="52.30" y2="595.9" stroke="#333" stroke-width="0.4"/>
<text x="50.50" y="596.8" font-size="5.0" fill="#111" stroke="#111" stroke-width="0.12" text-anchor="start" transform="rotate(90 50.50 596.8)">PLAUL1</text>
<line x1="56.50" y1="594.3" x2="56.50" y2="595.9" stroke="#333" stroke-width="0.4"/>
<text x="54.70" y="596.8" font-size="5.0" fill="#111" stroke="#111" stroke-width="0.12" text-anchor="start" transform="rotate(90 54.70 596.8)">SFNB13</text>
<line x1="60.70" y1="594.3" x2="60.70" y2="595.9" stroke="#333" stroke-width="0.4"/>
<text x="58.90" y="596.8" font-size="5.0" fill="#111" stroke="#111" stroke-width="0.12" text-anchor="start" transform="rotate(90 58.90 596.8)">ACTN1</text>
<line x1="64.90" y1="594.3" x2="64.90" y2="595.9" stroke="#333" stroke-width="0.4"/>
<text x="63.10" y="596.8" font-size="5.0" fill="#111" stroke="#111" stroke-width="0.12" text-anchor="start" transform="rotate(90 63.10 596.8)">GPC1</text>
<line x1="69.10" y1="594.3" x2="69.10" y2="595.9" stroke="#333" stroke-width="0.4"/>
<text x="67.30" y="596.8" font-size="5.0" fill="#111" stroke="#111" stroke-width="0.12" text-anchor="start" transform="rotate(90 67.30 596.8)">TGM2</text>
<line x1="73.30" y1="594.3" x2="73.30" y2="595.9" stroke="#333" stroke-width="0.4"/>
<text x="71.50" y="596.8" font-size="5.0" fill="#111" stroke="#111" stroke-width="0.12" text-anchor="start" transform="rotate(90 71.50 596.8)">YBX1-AS1</text>
<line x1="77.50" y1="594.3" x2="77.50" y2="595.9" stroke="#333" stroke-width="0.4"/>
<text x="75.70" y="596.8" font-size="5.0" fill="#111" stroke="#111" stroke-width="0.12" text-anchor="start" transform="rotate(90 75.70 596.8)">MMP1</text>
<line x1="81.70" y1="594.3" x2="81.70" y2="595.9" stroke="#333" stroke-width="0.4"/>
<text x="79.90" y="596.8" font-size="5.0" fill="#111" stroke="#111" stroke-width="0.12" text-anchor="start" transform="rotate(90 79.90 596.8)">CRB3</text>
<line x1="85.90" y1="594.3" x2="85.90" y2="595.9" stroke="#333" stroke-width="0.4"/>
<text x="84.10" y="596.8" font-size="5.0" fill="#111" stroke="#111" stroke-width="0.12" text-anchor="start" transform="rotate(90 84.10 596.8)">YAP1</text>
<line x1="90.10" y1="594.3" x2="90.10" y2="595.9" stroke="#333" stroke-width="0.4"/>
<text x="88.30" y="596.8" font-size="5.0" fill="#111" stroke="#111" stroke-width="0.12" text-anchor="start" transform="rotate(90 88.30 596.8)">MMP1</text>
<line x1="94.30" y1="594.3" x2="94.30" y2="595.9" stroke="#333" stroke-width="0.4"/>
<text x="92.50" y="596.8" font-size="5.0" fill="#111" stroke="#111" stroke-width="0.12" text-anchor="start" transform="rotate(90 92.50 596.8)">ACTB</text>
<line x1="98.50" y1="594.3" x2="98.50" y2="595.9" stroke="#333" stroke-width="0.4"/>
<text x="96.70" y="596.8" font-size="5.0" fill="#111" stroke="#111" stroke-width="0.12" text-anchor="start" transform="rotate(90 96.70 596.8)">ITGB6</text>
<line x1="102.70" y1="594.3" x2="102.70" y2="595.9" stroke="#333" stroke-width="0.4"/>
<text x="100.90" y="596.8" font-size="5.0" fill="#111" stroke="#111" stroke-width="0.12" text-anchor="start" transform="rotate(90 100.90 596.8)">MYC</text>
<line x1="106.90" y1="594.3" x2="106.90" y2="595.9" stroke="#333" stroke-width="0.4"/>
<text x="105.10" y="596.8" font-size="5.0" fill="#111" stroke="#111" stroke-width="0.12" text-anchor="start" transform="rotate(90 105.10 596.8)">GM2A</text>
<line x1="111.10" y1="594.3" x2="111.10" y2="595.9" stroke="#333" stroke-width="0.4"/>
<text x="109.30" y="596.8" font-size="5.0" fill="#111" stroke="#111" stroke-width="0.12" text-anchor="start" transform="rotate(90 109.30 596.8)">ITGB6</text>
<line x1="115.30" y1="594.3" x2="115.30" y2="595.9" stroke="#333" stroke-width="0.4"/>
<text x="113.50" y="596.8" font-size="5.0" fill="#111" stroke="#111" stroke-width="0.12" text-anchor="start" transform="rotate(90 113.50 596.8)">YAP1</text>
<line x1="119.50" y1="594.3" x2="119.50" y2="595.9" stroke="#333" stroke-width="0.4"/>
<text x="117.70" y="596.8" font-size="5.0" fill="#111" stroke="#111" stroke-width="0.12" text-anchor="start" transform="rotate(90 117.70 596.8)">APOE</text>
<line x1="123.70" y1="594.3" x2="123.70" y2="595.9" stroke="#333" stroke-width="0.4"/>
<text x="121.90" y="596.8" font-size="5.0" fill="#111" stroke="#111" stroke-width="0.12" text-anchor="start" transform="rotate(90 121.90 596.8)">MAL2</text>
<line x1="127.90" y1="594.3" x2="127.90" y2="595.9" stroke="#333" stroke-width="0.4"/>
<text x="126.10" y="596.8" font-size="5.0" fill="#111" stroke="#111" stroke-width="0.12" text-anchor="start" transform="rotate(90 126.10 596.8)">CAV1</text>
<line x1="132.10" y1="594.3" x2="132.10" y2="595.9" stroke="#333" stroke-width="0.4"/>
<text x="130.30" y="596.8" font-size="5.0" fill="#111" stroke="#111" stroke-width="0.12" text-anchor="start" transform="rotate(90 130.30 596.8)">ACTB</text>
<line x1="136.30" y1="594.3" x2="136.30" y2="595.9" stroke="#333" stroke-width="0.4"/>
<text x="134.50" y="596.8" font-size="5.0" fill="#111" stroke="#111" stroke-width="0.12" text-anchor="start" transform="rotate(90 134.50 596.8)">CRB3</text>
<line x1="140.50" y1="594.3" x2="140.50" y2="595.9" stroke="#333" stroke-width="0.4"/>
<text x="138.70" y="596.8" font-size="5.0" fill="#111" stroke="#111" stroke-width="0.12" text-anchor="start" transform="rotate(90 138.70 596.8)">DSP</text>
<line x1="144.70" y1="594.3" x2="144.70" y2="595.9" stroke="#333" stroke-width="0.4"/>
<text x="142.90" y="596.8" font-size="5.0" fill="#111" stroke="#111" stroke-width="0.12" text-anchor="start" transform="rotate(90 142.90 596.8)">HSPB1</text>
<line x1="148.90" y1="594.3" x2="148.90" y2="595.9" stroke="#333" stroke-width="0.4"/>
<text x="147.10" y="596.8" font-size="5.0" fill="#111" stroke="#111" stroke-width="0.12" text-anchor="start" transform="rotate(90 147.10 596.8)">GPC1</text>
<line x1="153.10" y1="594.3" x2="153.10" y2="595.9" stroke="#333" stroke-width="0.4"/>
<text x="151.30" y="596.8" font-size="5.0" fill="#111" stroke="#111" stroke-width="0.12" text-anchor="start" transform="rotate(90 151.30 596.8)">MMP1</text>
<line x1="157.30" y1="594.3" x2="157.30" y2="595.9" stroke="#333" stroke-width="0.4"/>
<text x="155.50" y="596.8" font-size="5.0" fill="#111" stroke="#111" stroke-width="0.12" text-anchor="start" transform="rotate(90 155.50 596.8)">MYC</text>
<line x1="161.50" y1="594.3" x2="161.50" y2="595.9" stroke="#333" stroke-width="0.4"/>
<text x="159.70" y="596.8" font-size="5.0" fill="#111" stroke="#111" stroke-width="0.12" text-anchor="start" transform="rotate(90 159.70 596.8)">H1-2</text>
<line x1="165.70" y1="594.3" x2="165.70" y2="595.9" stroke="#333" stroke-width="0.4"/>
<text x="163.90" y="596.8" font-size="5.0" fill="#111" stroke="#111" stroke-width="0.12" text-anchor="start" transform="rotate(90 163.90 596.8)">PLS3</text>
<line x1="169.90" y1="594.3" x2="169.90" y2="595.9" stroke="#333" stroke-width="0.4"/>
<text x="168.10" y="596.8" font-size="5.0" fill="#111" stroke="#111" stroke-width="0.12" text-anchor="start" transform="rotate(90 168.10 596.8)">CDH3</text>
<line x1="174.10" y1="594.3" x2="174.10" y2="595.9" stroke="#333" stroke-width="0.4"/>
<text x="172.30" y="596.8" font-size="5.0" fill="#111" stroke="#111" stroke-width="0.12" text-anchor="start" transform="rotate(90 172.30 596.8)">CAV1L1</text>
<line x1="178.30" y1="594.3" x2="178.30" y2="595.9" stroke="#333" stroke-width="0.4"/>
<text x="176.50" y="596.8" font-size="5.0" fill="#111" stroke="#111" stroke-width="0.12" text-anchor="start" transform="rotate(90 176.50 596.8)">HK2</text>
<line x1="182.50" y1="594.3" x2="182.50" y2="595.9" stroke="#333" stroke-width="0.4"/>
<text x="180.70" y="596.8" font-size="5.0" fill="#111" stroke="#111" stroke-width="0.12" text-anchor="start" transform="rotate(90 180.70 596.8)">GM2A</text>
<line x1="186.70" y1="594.3" x2="186.70" y2="595.9" stroke="#333" stroke-width="0.4"/>
<text x="184.90" y="596.8" font-size="5.0" fill="#111" stroke="#111" stroke-width="0.12" text-anchor="start" transform="rotate(90 184.90 596.8)">APOE</text>
<line x1="190.90" y1="594.3" x2="190.90" y2="595.9" stroke="#333" stroke-width="0.4"/>
<text x="189.10" y="596.8" font-size="5.0" fill="#111" stroke="#111" stroke-width="0.12" text-anchor="start" transform="rotate(90 189.10 596.8)">EGFR</text>
<line x1="195.10" y1="594.3" x2="195.10" y2="595.9" stroke="#333" stroke-width="0.4"/>
<text x="193.30" y="596.8" font-size="5.0" fill="#111" stroke="#111" stroke-width="0.12" text-anchor="start" transform="rotate(90 193.30 596.8)">SPP1</text>
<line x1="199.30" y1="594.3" x2="199.30" y2="595.9" stroke="#333" stroke-width="0.4"/>
<text x="197.50" y="596.8" font-size="5.0" fill="#111" stroke="#111" stroke-width="0.12" text-anchor="start" transform="rotate(90 197.50 596.8)">PLS3</text>
<line x1="203.50" y1="594.3" x2="203.50" y2="595.9" stroke="#333" stroke-width="0.4"/>
<text x="201.70" y="596.8" font-size="5.0" fill="#111" stroke="#111" stroke-width="0.12" text-anchor="start" transform="rotate(90 201.70 596.8)">DSP</text>
<line x1="207.70" y1="594.3" x2="207.70" y2="595.9" stroke="#333" stroke-width="0.4"/>
<text x="205.90" y="596.8" font-size="5.0" fill="#111" stroke="#111" stroke-width="0.12" text-anchor="start" transform="rotate(90 205.90 596.8)">H1-2</text>
<line x1="211.90" y1="594.3" x2="211.90" y2="595.9" stroke="#333" stroke-width="0.4"/>
<text x="210.10" y="596.8" font-size="5.0" fill="#111" stroke="#111" stroke-width="0.12" text-anchor="start" transform="rotate(90 210.10 596.8)">CRB3</text>
<line x1="216.10" y1="594.3" x2="216.10" y2="595.9" stroke="#333" stroke-width="0.4"/>
<text x="214.30" y="596.8" font-size="5.0" fill="#111" stroke="#111" stroke-width="0.12" text-anchor="start" transform="rotate(90 214.30 596.8)">GPC1</text>
<line x1="220.30" y1="594.3" x2="220.30" y2="595.9" stroke="#333" stroke-width="0.4"/>
<text x="218.50" y="596.8" font-size="5.0" fill="#111" stroke="#111" stroke-width="0.12" text-anchor="start" transform="rotate(90 218.50 596.8)">CAV1-AS1</text>
<line x1="224.50" y1="594.3" x2="224.50" y2="595.9" stroke="#333" stroke-width="0.4"/>
<text x="222.70" y="596.8" font-size="5.0" fill="#111" stroke="#111" stroke-width="0.12" text-anchor="start" transform="rotate(90 222.70 596.8)">TPM1</text>
<line x1="228.70" y1="594.3" x2="228.70" y2="595.9" stroke="#333" stroke-width="0.4"/>
<text x="226.90" y="596.8" font-size="5.0" fill="#111" stroke="#111" stroke-width="0.12" text-anchor="start" transform="rotate(90 226.90 596.8)">DSP</text>
<line x1="232.90" y1="594.3" x2="232.90" y2="595.9" stroke="#333" stroke-width="0.4"/>
<text x="231.10" y="596.8" font-size="5.0" fill="#111" stroke="#111" stroke-width="0.12" text-anchor="start" transform="rotate(90 231.10 596.8)">TP63</text>
<line x1="237.10" y1="594.3" x2="237.10" y2="595.9" stroke="#333" stroke-width="0.4"/>
<text x="235.30" y="596.8" font-size="5.0" fill="#111" stroke="#111" stroke-width="0.12" text-anchor="start" transform="rotate(90 235.30 596.8)">SPP1-AS1</text>
<line x1="241.30" y1="594.3" x2="241.30" y2="595.9" stroke="#333" stroke-width="0.4"/>
<text x="239.50" y="596.8" font-size="5.0" fill="#111" stroke="#111" stroke-width="0.12" text-anchor="start" transform="rotate(90 239.50 596.8)">TPM1</text>
<line x1="245.50" y1="594.3" x2="245.50" y2="595.9" stroke="#333" stroke-width="0.4"/>
<text x="243.70" y="596.8" font-size="5.0" fill="#111" stroke="#111" stroke-width="0.12" text-anchor="start" transform="rotate(90 243.70 596.8)">ENO1L1</text>
<line x1="249.70" y1="594.3" x2="249.70" y2="595.9" stroke="#333" stroke-width="0.4"/>
<text x="247.90" y="596.8" font-size="5.0" fill="#111" stroke="#111" stroke-width="0.12" text-anchor="start" transform="rotate(90 247.90 596.8)">SCD</text>
<line x1="253.90" y1="594.3" x2="253.90" y2="595.9" stroke="#333" stroke-width="0.4"/>
<text x="252.10" y="596.8" font-size="5.0" fill="#111" stroke="#111" stroke-width="0.12" text-anchor="start" transform="rotate(90 252.10 596.8)">EGFR</text>
<line x1="258.10" y1="594.3" x2="258.10" y2="595.9" stroke="#333" stroke-width="0.4"/>
<text x="256.30" y="596.8" font-size="5.0" fill="#111" stroke="#111" stroke-width="0.12" text-anchor="start" transform="rotate(90 256.30 596.8)">NSD2</text>
<line x1="262.30" y1="594.3" x2="262.30" y2="595.9" stroke="#333" stroke-width="0.4"/>
<text x="260.50" y="596.8" font-size="5.0" fill="#111" stroke="#111" stroke-width="0.12" text-anchor="start" transform="rotate(90 260.50 596.8)">EGFR</text>
<line x1="266.50" y1="594.3" x2="266.50" y2="595.9" stroke="#333" stroke-width="0.4"/>
<text x="264.70" y="596.8" font-size="5.0" fill="#111" stroke="#111" stroke-width="0.12" text-anchor="start" transform="rotate(90 264.70 596.8)">PLAU</text>
<line x1="270.70" y1="594.3" x2="270.70" y2="595.9" stroke="#333" stroke-width="0.4"/>
<text x="268.90" y="596.8" font-size="5.0" fill="#111" stroke="#111" stroke-width="0.12" text-anchor="start" transform="rotate(90 268.90 596.8)">H1-2</text>
<line x1="274.90" y1="594.3" x2="274.90" y2="595.9" stroke="#333" stroke-width="0.4"/>
<text x="273.10" y="596.8" font-size="5.0" fill="#111" stroke="#111" stroke-width="0.12" text-anchor="start" transform="rotate(90 273.10 596.8)">ENO1</text>
<line x1="279.10" y1="594.3" x2="279.10" y2="595.9" stroke="#333" stroke-width="0.4"/>
<text x="277.30" y="596.8" font-size="5.0" fill="#111" stroke="#111" stroke-width="0.12" text-anchor="start" transform="rotate(90 277.30 596.8)">TGM2</text>
<line x1="283.30" y1="594.3" x2="283.30" y2="595.9" stroke="#333" stroke-width="0.4"/>
<text x="281.50" y="596.8" font-size="5.0" fill="#111" stroke="#111" stroke-width="0.12" text-anchor="start" transform="rotate(90 281.50 596.8)">GM2A</text>
<line x1="287.50" y1="594.3" x2="287.50" y2="595.9" stroke="#333" stroke-width="0.4"/>
<text x="285.70" y="596.8" font-size="5.0" fill="#111" stroke="#111" stroke-width="0.12" text-anchor="start" transform="rotate(90 285.70 596.8)">SPP1</text>
<line x1="291.70" y1="594.3" x2="291.70" y2="595.9" stroke="#333" stroke-width="0.4"/>
<text x="289.90" y="596.8" font-size="5.0" fill="#111" stroke="#111" stroke-width="0.12" text-anchor="start" transform="rotate(90 289.90 596.8)">ITGB6</text>
<line x1="295.90" y1="594.3" x2="295.90" y2="595.9" stroke="#333" stroke-width="0.4"/>
<text x="294.10" y="596.8" font-size="5.0" fill="#111" stroke="#111" stroke-width="0.12" text-anchor="start" transform="rotate(90 294.10 596.8)">CAV1</text>
<line x1="300.10" y1="594.3" x2="300.10" y2="595.9" stroke="#333" stroke-width="0.4"/>
<text x="298.30" y="596.8" font-size="5.0" fill="#111" stroke="#111" stroke-width="0.12" text-anchor="start" transform="rotate(90 298.30 596.8)">APOE</text>
<line x1="304.30" y1="594.3" x2="304.30" y2="595.9" stroke="#333" stroke-width="0.4"/>
<text x="302.50" y="596.8" font-size="5.0" fill="#111" stroke="#111" stroke-width="0.12" text-anchor="start" transform="rotate(90 302.50 596.8)">ENO1</text>
<line x1="308.50" y1="594.3" x2="308.50" y2="595.9" stroke="#333" stroke-width="0.4"/>
<text x="306.70" y="596.8" font-size="5.0" fill="#111" stroke="#111" stroke-width="0.12" text-anchor="start" transform="rotate(90 306.70 596.8)">GPC1</text>
<line x1="312.70" y1="594.3" x2="312.70" y2="595.9" stroke="#333" stroke-width="0.4"/>
<text x="310.90" y="596.8" font-size="5.0" fill="#111" stroke="#111" stroke-width="0.12" text-anchor="start" transform="rotate(90 310.90 596.8)">HK2</text>
<line x1="316.90" y1="594.3" x2="316.90" y2="595.9" stroke="#333" stroke-width="0.4"/>
<text x="315.10" y="596.8" font-size="5.0" fill="#111" stroke="#111" stroke-width="0.12" text-anchor="start" transform="rotate(90 315.10 596.8)">PLAU</text>
<line x1="321.10" y1="594.3" x2="321.10" y2="595.9" stroke="#333" stroke-width="0.4"/>
<text x="319.30" y="596.8" font-size="5.0" fill="#111" stroke="#111" stroke-width="0.12" text-anchor="start" transform="rotate(90 319.30 596.8)">MAL2</text>
<line x1="325.30" y1="594.3" x2="325.30" y2="595.9" stroke="#333" stroke-width="0.4"/>
<text x="323.50" y="596.8" font-size="5.0" fill="#111" stroke="#111" stroke-width="0.12" text-anchor="start" transform="rotate(90 323.50 596.8)">NSD2</text>
<line x1="329.50" y1="594.3" x2="329.50" y2="595.9" stroke="#333" stroke-width="0.4"/>
<text x="327.70" y="596.8" font-size="5.0" fill="#111" stroke="#111" stroke-width="0.12" text-anchor="start" transform="rotate(90 327.70 596.8)">MAL2</text>
<line x1="333.70" y1="594.3" x2="333.70" y2="595.9" stroke="#333" stroke-width="0.4"/>
<text x="331.90" y="596.8" font-size="5.0" fill="#111" stroke="#111" stroke-width="0.12" text-anchor="start" transform="rotate(90 331.90 596.8)">TPM1</text>
<line x1="337.90" y1="594.3" x2="337.90" y2="595.9" stroke="#333" stroke-width="0.4"/>
<text x="336.10" y="596.8" font-size="5.0" fill="#111" stroke="#111" stroke-width="0.12" text-anchor="start" transform="rotate(90 336.10 596.8)">MAL2</text>
<line x1="342.10" y1="594.3" x2="342.10" y2="595.9" stroke="#333" stroke-width="0.4"/>
<text x="340.30" y="596.8" font-size="5.0" fill="#111" stroke="#111" stroke-width="0.12" text-anchor="start" transform="rotate(90 340.30 596.8)">TUBB</text>
<line x1="346.30" y1="594.3" x2="346.30" y2="595.9" stroke="#333" stroke-width="0.4"/>
<text x="344.50" y="596.8" font-size="5.0" fill="#111" stroke="#111" stroke-width="0.12" text-anchor="start" transform="rotate(90 344.50 596.8)">ACTN1</text>
<line x1="350.50" y1="594.3" x2="350.50" y2="595.9" stroke="#333" stroke-width="0.4"/>
<text x="348.70" y="596.8" font-size="5.0" fill="#111" stroke="#111" stroke-width="0.12" text-anchor="start" transform="rotate(90 348.70 596.8)">SCD</text>
<line x1="354.70" y1="594.3" x2="354.70" y2="595.9" stroke="#333" stroke-width="0.4"/>
<text x="352.90" y="596.8" font-size="5.0" fill="#111" stroke="#111" stroke-width="0.12" text-anchor="start" transform="rotate(90 352.90 596.8)">EGFR-AS1</text>
<line x1="358.90" y1="594.3" x2="358.90" y2="595.9" stroke="#333" stroke-width="0.4"/>
<text x="357.10" y="596.8" font-size="5.0" fill="#111" stroke="#111" stroke-width="0.12" text-anchor="start" transform="rotate(90 357.10 596.8)">TUBB</text>
<line x1="363.10" y1="594.3" x2="363.10" y2="595.9" stroke="#333" stroke-width="0.4"/>
<text x="361.30" y="596.8" font-size="5.0" fill="#111" stroke="#111" stroke-width="0.12" text-anchor="start" transform="rotate(90 361.30 596.8)">YBX1</text>
<line x1="367.30" y1="594.3" x2="367.30" y2="595.9" stroke="#333" stroke-width="0.4"/>
<text x="365.50" y="596.8" font-size="5.0" fill="#111" stroke="#111" stroke-width="0.12" text-anchor="start" transform="rotate(90 365.50 596.8)">EGFR</text>
<text x="379.40" y="519.20" font-size="7.3" text-anchor="start" fill="#222" >Correlation</text>
<defs><linearGradient id="fg" x1="0" y1="0" x2="0" y2="1">
<stop offset="0.000" stop-color="#ff1e0e"/>
<stop offset="0.050" stop-color="#fe3019"/>
<stop offset="0.100" stop-color="#fc472a"/>
<stop offset="0.150" stop-color="#fa5939"/>
<stop offset="0.200" stop-color="#f76848"/>
<stop offset="0.250" stop-color="#f47557"/>
<stop offset="0.300" stop-color="#f08266"/>
<stop offset="0.350" stop-color="#ed8f76"/>
<stop offset="0.400" stop-color="#f3a18b"/>
<stop offset="0.450" stop-color="#f7b3a0"/>
<stop offset="0.500" stop-color="#fbc5b6"/>
<stop offset="0.550" stop-color="#fdd7cd"/>
<stop offset="0.600" stop-color="#ffe9e3"/>
<stop offset="0.650" stop-color="#fffbfa"/>
<stop offset="0.700" stop-color="#f6efff"/>
<stop offset="0.750" stop-color="#eadcff"/>
<stop offset="0.800" stop-color="#ddc9ff"/>
<stop offset="0.850" stop-color="#d0b6ff"/>
<stop offset="0.900" stop-color="#c2a3fe"/>
<stop offset="0.950" stop-color="#b490fd"/>
<stop offset="1.000" stop-color="#a47efc"/>
</linearGradient></defs>
<rect x="379.4" y="522.8" width="9.6" height="48.8" fill="url(#fg)"/>
<line x1="379.4" y1="538.0" x2="381.3" y2="538.0" stroke="#fff" stroke-width="0.5"/><line x1="387.1" y1="538.0" x2="389" y2="538.0" stroke="#fff" stroke-width="0.5"/>
<text x="391.50" y="540.60" font-size="7.3" text-anchor="start" fill="#333" >0.5</text>
<line x1="379.4" y1="555.0" x2="381.3" y2="555.0" stroke="#fff" stroke-width="0.5"/><line x1="387.1" y1="555.0" x2="389" y2="555.0" stroke="#fff" stroke-width="0.5"/>
<text x="391.50" y="557.60" font-size="7.3" text-anchor="start" fill="#333" >0.0</text>
<path d="M492.81,448.51 L452.62,435.65 L455.88,426.88 L494.71,443.40Z" fill="#3b6285"/>
<text x="452.27" y="430.53" font-size="6.4" fill="#1e1e1e" stroke="#1e1e1e" stroke-width="0.15" text-anchor="end" dominant-baseline="central" transform="rotate(20.40 452.27 430.53)">APOC1</text>
<path d="M495.71,441.18 L465.36,426.77 L469.39,419.21 L498.27,436.37Z" fill="#5981a3"/>
<text x="465.52" y="422.00" font-size="6.4" fill="#1e1e1e" stroke="#1e1e1e" stroke-width="0.15" text-anchor="end" dominant-baseline="central" transform="rotate(28.06 465.52 422.00)">H2AC16</text>
<path d="M499.56,434.31 L479.70,421.37 L484.16,415.17 L502.74,429.88Z" fill="#7a9fbd"/>
<text x="480.23" y="417.05" font-size="6.4" fill="#1e1e1e" stroke="#1e1e1e" stroke-width="0.15" text-anchor="end" dominant-baseline="central" transform="rotate(35.72 480.23 417.05)">C1QB</text>
<path d="M504.29,428.00 L479.58,406.73 L485.40,400.58 L508.04,424.04Z" fill="#5981a3"/>
<text x="480.97" y="402.21" font-size="6.4" fill="#1e1e1e" stroke="#1e1e1e" stroke-width="0.15" text-anchor="end" dominant-baseline="central" transform="rotate(43.38 480.97 402.21)">CLCA4</text>
<path d="M509.82,422.39 L496.67,407.58 L502.34,403.00 L514.06,418.96Z" fill="#7fa4c1"/>
<text x="498.19" y="403.67" font-size="6.4" fill="#1e1e1e" stroke="#1e1e1e" stroke-width="0.15" text-anchor="end" dominant-baseline="central" transform="rotate(51.04 498.19 403.67)">H2BC7</text>
<path d="M516.05,417.56 L491.25,380.73 L499.42,375.76 L520.71,414.72Z" fill="#3b6285"/>
<text x="494.24" y="376.44" font-size="6.4" fill="#1e1e1e" stroke="#1e1e1e" stroke-width="0.15" text-anchor="end" dominant-baseline="central" transform="rotate(58.70 494.24 376.44)">HLA−F</text>
<path d="M522.87,413.60 L517.77,403.29 L523.74,400.68 L527.86,411.42Z" fill="#9fbfd7"/>
<text x="519.93" y="400.09" font-size="6.4" fill="#1e1e1e" stroke="#1e1e1e" stroke-width="0.15" text-anchor="end" dominant-baseline="central" transform="rotate(66.36 519.93 400.09)">HAS3</text>
<path d="M530.15,410.59 L525.48,396.76 L532.03,394.88 L535.39,409.09Z" fill="#8fb1cc"/>
<text x="528.18" y="393.82" font-size="6.4" fill="#1e1e1e" stroke="#1e1e1e" stroke-width="0.15" text-anchor="start" dominant-baseline="central" transform="rotate(-105.98 528.18 393.82)">TUBA1C</text>
<path d="M537.77,408.58 L531.79,377.75 L540.06,376.54 L543.17,407.79Z" fill="#5f87a9"/>
<text x="535.62" y="375.07" font-size="6.4" fill="#1e1e1e" stroke="#1e1e1e" stroke-width="0.15" text-anchor="start" dominant-baseline="central" transform="rotate(-98.32 535.62 375.07)">TP63</text>
<path d="M545.59,407.60 L544.36,386.33 L551.78,386.25 L551.04,407.54Z" fill="#7fa4c1"/>
<text x="548.05" y="384.21" font-size="6.4" fill="#1e1e1e" stroke="#1e1e1e" stroke-width="0.15" text-anchor="start" dominant-baseline="central" transform="rotate(-90.66 548.05 384.21)">TUBB6</text>
<path d="M553.47,407.67 L554.73,391.12 L561.67,391.97 L558.89,408.33Z" fill="#85a9c6"/>
<text x="558.45" y="389.48" font-size="6.4" fill="#1e1e1e" stroke="#1e1e1e" stroke-width="0.15" text-anchor="start" dominant-baseline="central" transform="rotate(-83.00 558.45 389.48)">ATP11B</text>
<path d="M561.27,408.79 L569.26,371.23 L577.97,373.51 L566.55,410.17Z" fill="#436b8f"/>
<text x="574.15" y="370.33" font-size="6.4" fill="#ee1c1c" font-weight="bold" text-anchor="start" dominant-baseline="central" transform="rotate(-75.34 574.15 370.33)">SERPINB5</text>
<path d="M568.85,410.94 L570.87,405.29 L576.43,407.57 L573.90,413.01Z" fill="#b0cde2"/>
<text x="574.44" y="404.52" font-size="6.4" fill="#1e1e1e" stroke="#1e1e1e" stroke-width="0.15" text-anchor="start" dominant-baseline="central" transform="rotate(-67.69 574.44 404.52)">HK2</text>
<path d="M576.08,414.08 L587.33,392.32 L594.02,396.17 L580.81,416.81Z" fill="#7298b7"/>
<text x="591.72" y="392.44" font-size="6.4" fill="#1e1e1e" stroke="#1e1e1e" stroke-width="0.15" text-anchor="start" dominant-baseline="central" transform="rotate(-60.03 591.72 392.44)">FSCN1</text>
<path d="M582.83,418.16 L603.35,388.83 L610.30,394.18 L587.15,421.49Z" fill="#436b8f"/>
<text x="608.11" y="389.84" font-size="6.4" fill="#1e1e1e" stroke="#1e1e1e" stroke-width="0.15" text-anchor="start" dominant-baseline="central" transform="rotate(-52.37 608.11 389.84)">HMGA1</text>
<path d="M588.97,423.10 L592.49,419.28 L596.67,423.49 L592.81,426.98Z" fill="#b0cde2"/>
<text x="596.05" y="419.93" font-size="6.4" fill="#1e1e1e" stroke="#1e1e1e" stroke-width="0.15" text-anchor="start" dominant-baseline="central" transform="rotate(-44.71 596.05 419.93)">H2BC15</text>
<path d="M594.40,428.82 L622.17,405.76 L627.47,412.78 L597.68,433.17Z" fill="#436b8f"/>
<text x="626.50" y="408.00" font-size="6.4" fill="#1e1e1e" stroke="#1e1e1e" stroke-width="0.15" text-anchor="start" dominant-baseline="central" transform="rotate(-37.05 626.50 408.00)">CLCA2</text>
<path d="M599.01,435.20 L630.55,415.47 L634.91,423.22 L601.69,439.96Z" fill="#3d6589"/>
<text x="634.56" y="418.31" font-size="6.4" fill="#1e1e1e" stroke="#1e1e1e" stroke-width="0.15" text-anchor="start" dominant-baseline="central" transform="rotate(-29.39 634.56 418.31)">PLS3</text>
<path d="M602.74,442.15 L630.61,429.52 L633.68,437.21 L604.76,447.22Z" fill="#5f87a9"/>
<text x="634.09" y="432.59" font-size="6.4" fill="#1e1e1e" stroke="#1e1e1e" stroke-width="0.15" text-anchor="start" dominant-baseline="central" transform="rotate(-21.73 634.09 432.59)">GPC1</text>
<path d="M605.51,449.53 L631.94,441.59 L633.89,449.36 L606.83,454.82Z" fill="#5f87a9"/>
<text x="634.94" y="444.96" font-size="6.4" fill="#1e1e1e" stroke="#1e1e1e" stroke-width="0.15" text-anchor="start" dominant-baseline="central" transform="rotate(-14.07 634.94 444.96)">H3C10</text>
<path d="M607.26,457.21 L621.88,454.88 L622.64,461.66 L607.87,462.63Z" fill="#8fb1cc"/>
<text x="624.33" y="458.04" font-size="6.4" fill="#1e1e1e" stroke="#1e1e1e" stroke-width="0.15" text-anchor="start" dominant-baseline="central" transform="rotate(-6.41 624.33 458.04)">ETS2</text>
<path d="M607.98,465.06 L630.18,464.52 L630.01,472.02 L607.86,470.51Z" fill="#779dbb"/>
<text x="632.18" y="468.32" font-size="6.4" fill="#1e1e1e" stroke="#1e1e1e" stroke-width="0.15" text-anchor="start" dominant-baseline="central" transform="rotate(1.25 632.18 468.32)">TUBB</text>
<path d="M607.65,472.93 L620.07,474.30 L619.05,480.83 L606.80,478.32Z" fill="#8fb1cc"/>
<text x="621.61" y="477.88" font-size="6.4" fill="#1e1e1e" stroke="#1e1e1e" stroke-width="0.15" text-anchor="start" dominant-baseline="central" transform="rotate(8.91 621.61 477.88)">PKP1</text>
<path d="M606.27,480.69 L612.87,482.33 L611.13,488.16 L604.71,485.92Z" fill="#b0cde2"/>
<text x="613.98" y="485.84" font-size="6.4" fill="#1e1e1e" stroke="#1e1e1e" stroke-width="0.15" text-anchor="start" dominant-baseline="central" transform="rotate(16.57 613.98 485.84)">H2BC17</text>
<path d="M603.86,488.20 L620.79,494.89 L617.86,501.40 L601.63,493.18Z" fill="#7fa4c1"/>
<text x="621.22" y="499.00" font-size="6.4" fill="#1e1e1e" stroke="#1e1e1e" stroke-width="0.15" text-anchor="start" dominant-baseline="central" transform="rotate(24.23 621.22 499.00)">NSD2</text>
<path d="M600.48,495.32 L617.93,505.09 L614.08,511.29 L597.60,499.95Z" fill="#7fa4c1"/>
<text x="617.77" y="509.29" font-size="6.4" fill="#1e1e1e" stroke="#1e1e1e" stroke-width="0.15" text-anchor="start" dominant-baseline="central" transform="rotate(31.89 617.77 509.29)">U2SURP</text>
<path d="M596.18,501.92 L627.77,525.64 L621.97,532.66 L592.71,506.13Z" fill="#436b8f"/>
<text x="626.49" y="530.49" font-size="6.4" fill="#1e1e1e" stroke="#1e1e1e" stroke-width="0.15" text-anchor="start" dominant-baseline="central" transform="rotate(39.55 626.49 530.49)">IFI16</text>
<path d="M591.04,507.90 L613.91,530.42 L607.73,536.14 L587.04,511.60Z" fill="#5981a3"/>
<text x="612.25" y="534.82" font-size="6.4" fill="#1e1e1e" stroke="#1e1e1e" stroke-width="0.15" text-anchor="start" dominant-baseline="central" transform="rotate(47.21 612.25 534.82)">PSMD2</text>
<path d="M585.15,513.13 L595.93,527.04 L590.14,531.12 L580.68,516.27Z" fill="#7fa4c1"/>
<text x="594.23" y="530.78" font-size="6.4" fill="#1e1e1e" stroke="#1e1e1e" stroke-width="0.15" text-anchor="start" dominant-baseline="central" transform="rotate(54.87 594.23 530.78)">VEGFA</text>
<path d="M578.61,517.53 L588.19,534.05 L581.79,537.38 L573.77,520.05Z" fill="#7fa4c1"/>
<text x="585.95" y="537.57" font-size="6.4" fill="#1e1e1e" stroke="#1e1e1e" stroke-width="0.15" text-anchor="start" dominant-baseline="central" transform="rotate(62.53 585.95 537.57)">H1−4</text>
<path d="M571.54,521.02 L587.67,560.02 L578.86,563.19 L566.41,522.87Z" fill="#3f678b"/>
<text x="583.98" y="563.59" font-size="6.4" fill="#1e1e1e" stroke="#1e1e1e" stroke-width="0.15" text-anchor="start" dominant-baseline="central" transform="rotate(70.19 583.98 563.59)">EHBP1L1</text>
<path d="M564.07,523.54 L569.67,544.71 L562.36,546.29 L558.74,524.69Z" fill="#7fa4c1"/>
<text x="566.45" y="547.54" font-size="6.4" fill="#1e1e1e" stroke="#1e1e1e" stroke-width="0.15" text-anchor="end" dominant-baseline="central" transform="rotate(257.85 566.45 547.54)">SPP1</text>
<path d="M556.34,525.04 L560.60,559.08 L552.00,559.75 L550.90,525.47Z" fill="#5981a3"/>
<text x="556.47" y="561.51" font-size="6.4" fill="#1e1e1e" stroke="#1e1e1e" stroke-width="0.15" text-anchor="end" dominant-baseline="central" transform="rotate(265.51 556.47 561.51)">SCD</text>
<path d="M548.47,525.50 L548.15,561.40 L539.38,560.91 L543.02,525.20Z" fill="#5981a3"/>
<text x="543.65" y="563.25" font-size="6.4" fill="#1e1e1e" stroke="#1e1e1e" stroke-width="0.15" text-anchor="end" dominant-baseline="central" transform="rotate(273.17 543.65 563.25)">ATP1B3</text>
<path d="M540.61,524.90 L535.99,557.07 L527.68,555.48 L535.25,523.88Z" fill="#5f87a9"/>
<text x="531.44" y="558.34" font-size="6.4" fill="#1e1e1e" stroke="#1e1e1e" stroke-width="0.15" text-anchor="end" dominant-baseline="central" transform="rotate(280.83 531.44 558.34)">SEMA4B</text>
<path d="M532.90,523.26 L524.63,552.41 L516.80,549.79 L527.73,521.53Z" fill="#5f87a9"/>
<text x="520.05" y="553.09" font-size="6.4" fill="#1e1e1e" stroke="#1e1e1e" stroke-width="0.15" text-anchor="end" dominant-baseline="central" transform="rotate(288.49 520.05 553.09)">GPNMB</text>
<path d="M525.48,520.61 L514.44,546.01 L507.24,542.48 L520.58,518.20Z" fill="#7a9fbd"/>
<text x="509.92" y="546.12" font-size="6.4" fill="#1e1e1e" stroke="#1e1e1e" stroke-width="0.15" text-anchor="end" dominant-baseline="central" transform="rotate(296.14 509.92 546.12)">GM2A</text>
<path d="M518.48,516.99 L503.58,541.64 L496.83,537.12 L513.94,513.96Z" fill="#5f87a9"/>
<text x="499.04" y="541.12" font-size="6.4" fill="#1e1e1e" stroke="#1e1e1e" stroke-width="0.15" text-anchor="end" dominant-baseline="central" transform="rotate(303.80 499.04 541.12)">MCM2</text>
<path d="M512.02,512.47 L484.57,546.60 L477.44,540.31 L507.93,508.86Z" fill="#436b8f"/>
<text x="479.61" y="545.03" font-size="6.4" fill="#1e1e1e" stroke="#1e1e1e" stroke-width="0.15" text-anchor="end" dominant-baseline="central" transform="rotate(311.46 479.61 545.03)">TUBAP2</text>
<path d="M506.22,507.13 L467.36,544.05 L460.54,536.17 L502.65,503.01Z" fill="#2c5273"/>
<text x="462.35" y="541.50" font-size="6.4" fill="#1e1e1e" stroke="#1e1e1e" stroke-width="0.15" text-anchor="end" dominant-baseline="central" transform="rotate(319.12 462.35 541.50)">SULF1</text>
<path d="M501.19,501.07 L472.91,521.52 L468.15,514.25 L498.20,496.50Z" fill="#5f87a9"/>
<text x="468.77" y="519.04" font-size="6.4" fill="#1e1e1e" stroke="#1e1e1e" stroke-width="0.15" text-anchor="end" dominant-baseline="central" transform="rotate(326.78 468.77 519.04)">YBX1</text>
<path d="M497.01,494.39 L477.18,505.02 L473.93,498.22 L494.65,489.47Z" fill="#7fa4c1"/>
<text x="473.67" y="502.52" font-size="6.4" fill="#1e1e1e" stroke="#1e1e1e" stroke-width="0.15" text-anchor="end" dominant-baseline="central" transform="rotate(334.44 473.67 502.52)">CDH3</text>
<path d="M493.75,487.21 L472.69,495.11 L470.37,487.93 L492.08,482.02Z" fill="#7fa4c1"/>
<text x="469.54" y="492.16" font-size="6.4" fill="#1e1e1e" stroke="#1e1e1e" stroke-width="0.15" text-anchor="end" dominant-baseline="central" transform="rotate(342.10 469.54 492.16)">SERPINB13</text>
<path d="M491.49,479.66 L469.65,484.66 L468.31,477.25 L490.52,474.29Z" fill="#7298b7"/>
<text x="466.93" y="481.32" font-size="6.4" fill="#1e1e1e" stroke="#1e1e1e" stroke-width="0.15" text-anchor="end" dominant-baseline="central" transform="rotate(349.76 466.93 481.32)">AOPEP</text>
<path d="M490.25,471.88 L479.99,472.82 L479.70,466.41 L490.00,466.43Z" fill="#a6c5db"/>
<text x="477.77" y="469.71" font-size="6.4" fill="#1e1e1e" stroke="#1e1e1e" stroke-width="0.15" text-anchor="end" dominant-baseline="central" transform="rotate(357.42 477.77 469.71)">CALML3</text>
<path d="M490.05,464.00 L448.29,462.22 L449.12,452.94 L490.54,458.56Z" fill="#497195"/>
<text x="446.60" y="457.40" font-size="6.4" fill="#1e1e1e" stroke="#1e1e1e" stroke-width="0.15" text-anchor="end" dominant-baseline="central" transform="rotate(365.08 446.60 457.40)">FMNL2</text>
<path d="M490.91,456.16 L444.84,447.96 L446.99,438.42 L492.12,450.84Z" fill="#3b6285"/>
<text x="443.85" y="442.73" font-size="6.4" fill="#1e1e1e" stroke="#1e1e1e" stroke-width="0.15" text-anchor="end" dominant-baseline="central" transform="rotate(372.74 443.85 442.73)">APOE</text>
<circle cx="533.56" cy="431.23" r="3.2" fill="#f3d9d7"/>
<circle cx="528.88" cy="433.41" r="3.2" fill="#f3d8d5"/>
<circle cx="524.51" cy="436.22" r="3.2" fill="#f2d7d4"/>
<circle cx="520.53" cy="439.60" r="3.2" fill="#f2d5d1"/>
<circle cx="517.02" cy="443.50" r="3.2" fill="#f1d2cf"/>
<circle cx="514.04" cy="447.87" r="3.2" fill="#f0d0cc"/>
<circle cx="511.66" cy="452.62" r="3.2" fill="#efcdc9"/>
<circle cx="509.93" cy="457.67" r="3.2" fill="#eecbc6"/>
<circle cx="508.88" cy="462.93" r="3.2" fill="#edc8c3"/>
<circle cx="508.54" cy="468.32" r="3.2" fill="#ecc5c0"/>
<circle cx="508.90" cy="473.74" r="3.2" fill="#eac2bc"/>
<circle cx="509.99" cy="479.10" r="3.2" fill="#e9beb9"/>
<circle cx="511.80" cy="484.29" r="3.2" fill="#e8bbb5"/>
<circle cx="514.30" cy="489.22" r="3.2" fill="#e6b8b1"/>
<circle cx="517.45" cy="493.81" r="3.2" fill="#e5b4ad"/>
<circle cx="521.21" cy="497.95" r="3.2" fill="#e3b1a9"/>
<circle cx="525.51" cy="501.58" r="3.2" fill="#e2ada5"/>
<circle cx="530.29" cy="504.62" r="3.2" fill="#e0a9a1"/>
<circle cx="535.46" cy="507.01" r="3.2" fill="#dfa59d"/>
<circle cx="540.93" cy="508.69" r="3.2" fill="#dda299"/>
<circle cx="546.61" cy="509.63" r="3.2" fill="#db9e95"/>
<circle cx="552.41" cy="509.88" r="3.2" fill="#d99a90"/>
<circle cx="558.23" cy="509.35" r="3.2" fill="#d7968c"/>
<circle cx="563.96" cy="508.04" r="3.2" fill="#d59188"/>
<circle cx="569.51" cy="505.95" r="3.2" fill="#d38d83"/>
<circle cx="574.77" cy="503.13" r="3.2" fill="#d1897f"/>
<circle cx="579.64" cy="499.60" r="3.2" fill="#cf857a"/>
<circle cx="584.02" cy="495.42" r="3.2" fill="#cd8076"/>
<circle cx="587.83" cy="490.66" r="3.2" fill="#ca7c71"/>
<circle cx="590.99" cy="485.40" r="3.2" fill="#c8786c"/>
<circle cx="593.44" cy="479.72" r="3.2" fill="#c67368"/>
<circle cx="595.12" cy="473.73" r="3.2" fill="#c36e63"/>
<circle cx="595.99" cy="467.53" r="3.2" fill="#c16a5e"/>
<circle cx="596.10" cy="461.21" r="3.2" fill="#be655a"/>
<circle cx="595.35" cy="454.88" r="3.2" fill="#bb6055"/>
<circle cx="593.76" cy="448.66" r="3.2" fill="#b95c50"/>
<circle cx="591.32" cy="442.67" r="3.2" fill="#b6574b"/>
<circle cx="588.08" cy="437.00" r="3.2" fill="#b35247"/>
<circle cx="584.08" cy="431.78" r="3.2" fill="#b04d42"/>
<circle cx="579.38" cy="427.10" r="3.2" fill="#ad473d"/>
<circle cx="574.05" cy="423.06" r="3.2" fill="#aa4238"/>
<circle cx="568.19" cy="419.75" r="3.2" fill="#a73c34"/>
<circle cx="561.89" cy="417.23" r="3.2" fill="#a4372f"/>
<circle cx="555.25" cy="415.56" r="3.2" fill="#a0312a"/>
<circle cx="548.40" cy="414.79" r="3.2" fill="#9d2b25"/>
<circle cx="541.46" cy="414.94" r="3.2" fill="#9a2421"/>
<circle cx="534.54" cy="416.03" r="3.2" fill="#961c1c"/>
<text x="626.70" y="569.00" font-size="6.5" text-anchor="start" font-weight="bold" fill="#1a1a1a" >Correlation</text>
<defs><linearGradient id="gg" x1="0" y1="0" x2="1" y2="0">
<stop offset="0.00" stop-color="#d8ecf7"/>
<stop offset="0.10" stop-color="#d2e8f4"/>
<stop offset="0.20" stop-color="#c8e0ef"/>
<stop offset="0.30" stop-color="#b5d1e5"/>
<stop offset="0.40" stop-color="#9bbcd4"/>
<stop offset="0.50" stop-color="#7ea4c1"/>
<stop offset="0.60" stop-color="#678faf"/>
<stop offset="0.70" stop-color="#537b9d"/>
<stop offset="0.80" stop-color="#40688c"/>
<stop offset="0.90" stop-color="#335a7c"/>
<stop offset="1.00" stop-color="#264c6c"/>
</linearGradient><linearGradient id="dg" x1="0" y1="0" x2="1" y2="0">
<stop offset="0.00" stop-color="#faeeee"/>
<stop offset="0.10" stop-color="#f3d9d7"/>
<stop offset="0.20" stop-color="#ecc5c0"/>
<stop offset="0.30" stop-color="#e3b0a9"/>
<stop offset="0.40" stop-color="#da9c93"/>
<stop offset="0.50" stop-color="#d1887e"/>
<stop offset="0.60" stop-color="#c67469"/>
<stop offset="0.70" stop-color="#bb6055"/>
<stop offset="0.80" stop-color="#af4c41"/>
<stop offset="0.90" stop-color="#a3362e"/>
<stop offset="1.00" stop-color="#961c1c"/>
</linearGradient></defs>
<rect x="626.1" y="572.2" width="47" height="7.8" fill="url(#gg)"/>
<line x1="627.0" y1="572.2" x2="627.0" y2="573.8" stroke="#fff" stroke-width="0.5"/><line x1="627.0" y1="578.4" x2="627.0" y2="580" stroke="#fff" stroke-width="0.5"/>
<text x="627.00" y="586.60" font-size="6.3" text-anchor="middle" fill="#4d4d4d" >0.4</text>
<line x1="642.6" y1="572.2" x2="642.6" y2="573.8" stroke="#fff" stroke-width="0.5"/><line x1="642.6" y1="578.4" x2="642.6" y2="580" stroke="#fff" stroke-width="0.5"/>
<text x="642.60" y="586.60" font-size="6.3" text-anchor="middle" fill="#4d4d4d" >0.6</text>
<line x1="656.6" y1="572.2" x2="656.6" y2="573.8" stroke="#fff" stroke-width="0.5"/><line x1="656.6" y1="578.4" x2="656.6" y2="580" stroke="#fff" stroke-width="0.5"/>
<text x="656.60" y="586.60" font-size="6.3" text-anchor="middle" fill="#4d4d4d" >0.8</text>
<line x1="670.6" y1="572.2" x2="670.6" y2="573.8" stroke="#fff" stroke-width="0.5"/><line x1="670.6" y1="578.4" x2="670.6" y2="580" stroke="#fff" stroke-width="0.5"/>
<text x="670.60" y="586.60" font-size="6.3" text-anchor="middle" fill="#4d4d4d" >1</text>
<text x="626.70" y="598.30" font-size="6.5" text-anchor="start" font-weight="bold" fill="#1a1a1a" >DM Value</text>
<rect x="626.1" y="601.7" width="54.5" height="7.7" fill="url(#dg)"/>
<line x1="626.9" y1="601.7" x2="626.9" y2="603.3" stroke="#fff" stroke-width="0.5"/><line x1="626.9" y1="607.8" x2="626.9" y2="609.4" stroke="#fff" stroke-width="0.5"/>
<text x="626.90" y="615.50" font-size="6.3" text-anchor="middle" fill="#4d4d4d" >0</text>
<line x1="644.2" y1="601.7" x2="644.2" y2="603.3" stroke="#fff" stroke-width="0.5"/><line x1="644.2" y1="607.8" x2="644.2" y2="609.4" stroke="#fff" stroke-width="0.5"/>
<text x="644.20" y="615.50" font-size="6.3" text-anchor="middle" fill="#4d4d4d" >0.05</text>
<line x1="661.7" y1="601.7" x2="661.7" y2="603.3" stroke="#fff" stroke-width="0.5"/><line x1="661.7" y1="607.8" x2="661.7" y2="609.4" stroke="#fff" stroke-width="0.5"/>
<text x="661.70" y="615.50" font-size="6.3" text-anchor="middle" fill="#4d4d4d" >0.1</text>
<line x1="679.4" y1="601.7" x2="679.4" y2="603.3" stroke="#fff" stroke-width="0.5"/><line x1="679.4" y1="607.8" x2="679.4" y2="609.4" stroke="#fff" stroke-width="0.5"/>
<text x="679.40" y="615.50" font-size="6.3" text-anchor="middle" fill="#4d4d4d" >0.15</text>
</svg>
</body></html>
